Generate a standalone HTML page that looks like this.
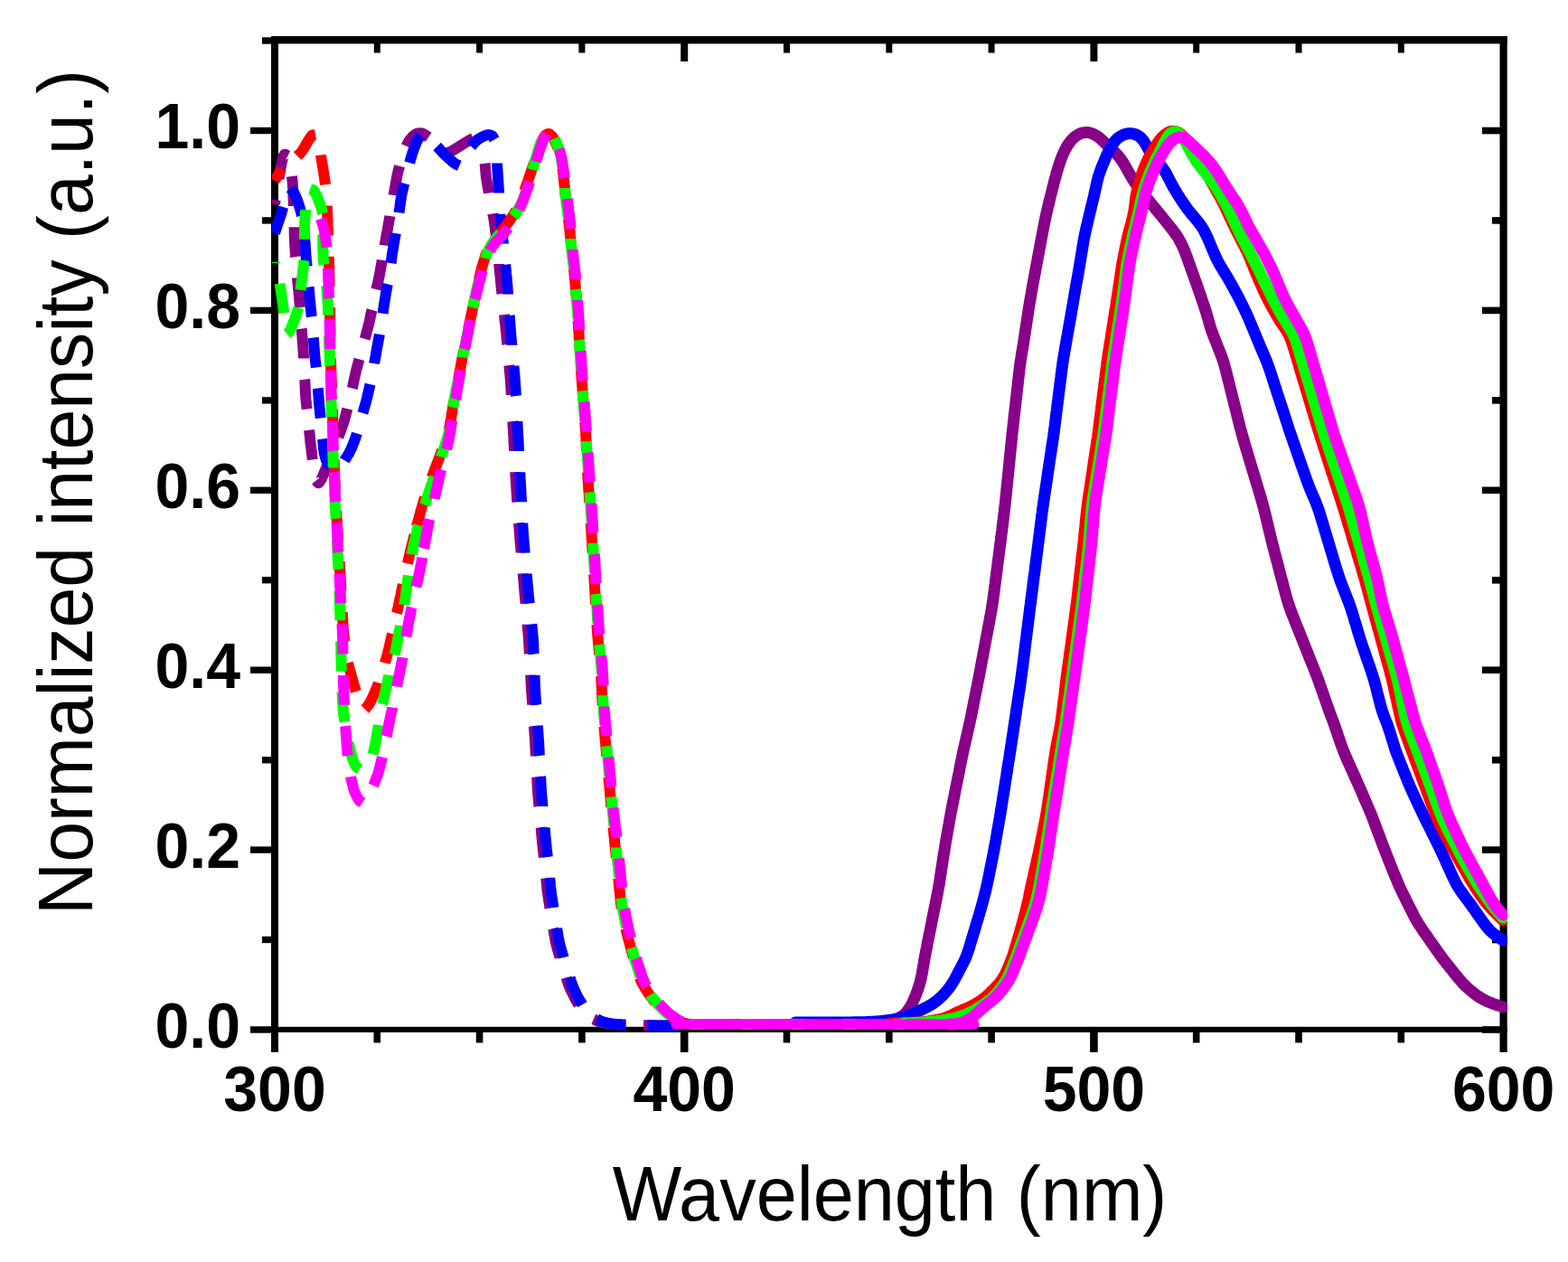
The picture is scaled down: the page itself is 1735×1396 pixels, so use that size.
<!DOCTYPE html>
<html><head><meta charset="utf-8"><title>Normalized intensity vs Wavelength</title>
<style>html,body{margin:0;padding:0;background:#fff;}body{width:1735px;height:1396px;overflow:hidden;}svg{display:block;}text{font-family:"Liberation Sans",Arial,sans-serif;fill:#000;}</style></head><body>
<svg width="1735" height="1396" viewBox="0 0 1735 1396">
<rect x="0" y="0" width="1735" height="1396" fill="#fff"/>
<g id="axes"><rect x="300" y="40" width="8" height="1124" fill="#000"/><rect x="1659.5" y="40" width="8.2" height="1124" fill="#000"/><rect x="300" y="40" width="1367.7" height="8.4" fill="#000"/><rect x="300" y="1135.8" width="1367.7" height="6.2" fill="#000"/><rect x="277" y="1135.3" width="24" height="7.4" fill="#000"/><rect x="1640" y="1135.2" width="20" height="7.6" fill="#000"/><rect x="290" y="1035.8" width="11" height="7.4" fill="#000"/><rect x="1651" y="1035.8" width="9" height="7.6" fill="#000"/><rect x="277" y="936.4" width="24" height="7.4" fill="#000"/><rect x="1640" y="936.3" width="20" height="7.6" fill="#000"/><rect x="290" y="837.0" width="11" height="7.4" fill="#000"/><rect x="1651" y="836.9" width="9" height="7.6" fill="#000"/><rect x="277" y="737.5" width="24" height="7.4" fill="#000"/><rect x="1640" y="737.4" width="20" height="7.6" fill="#000"/><rect x="290" y="638.0" width="11" height="7.4" fill="#000"/><rect x="1651" y="638.0" width="9" height="7.6" fill="#000"/><rect x="277" y="538.6" width="24" height="7.4" fill="#000"/><rect x="1640" y="538.5" width="20" height="7.6" fill="#000"/><rect x="290" y="439.2" width="11" height="7.4" fill="#000"/><rect x="1651" y="439.1" width="9" height="7.6" fill="#000"/><rect x="277" y="339.7" width="24" height="7.4" fill="#000"/><rect x="1640" y="339.6" width="20" height="7.6" fill="#000"/><rect x="290" y="240.2" width="11" height="7.4" fill="#000"/><rect x="1651" y="240.1" width="9" height="7.6" fill="#000"/><rect x="277" y="140.8" width="24" height="7.4" fill="#000"/><rect x="1640" y="140.7" width="20" height="7.6" fill="#000"/><rect x="290" y="41.3" width="11" height="7.4" fill="#000"/><rect x="413.5" y="1141" width="7.6" height="12.5" fill="#000"/><rect x="413.8" y="47" width="7" height="11.5" fill="#000"/><rect x="526.8" y="1141" width="7.6" height="12.5" fill="#000"/><rect x="527.1" y="47" width="7" height="11.5" fill="#000"/><rect x="640.1" y="1141" width="7.6" height="12.5" fill="#000"/><rect x="640.4" y="47" width="7" height="11.5" fill="#000"/><rect x="752.9" y="1141" width="8.6" height="23" fill="#000"/><rect x="753.2" y="47" width="8" height="21" fill="#000"/><rect x="866.7" y="1141" width="7.6" height="12.5" fill="#000"/><rect x="867.0" y="47" width="7" height="11.5" fill="#000"/><rect x="980.0" y="1141" width="7.6" height="12.5" fill="#000"/><rect x="980.3" y="47" width="7" height="11.5" fill="#000"/><rect x="1093.3" y="1141" width="7.6" height="12.5" fill="#000"/><rect x="1093.6" y="47" width="7" height="11.5" fill="#000"/><rect x="1206.1" y="1141" width="8.6" height="23" fill="#000"/><rect x="1206.4" y="47" width="8" height="21" fill="#000"/><rect x="1319.9" y="1141" width="7.6" height="12.5" fill="#000"/><rect x="1320.2" y="47" width="7" height="11.5" fill="#000"/><rect x="1433.2" y="1141" width="7.6" height="12.5" fill="#000"/><rect x="1433.5" y="47" width="7" height="11.5" fill="#000"/><rect x="1546.5" y="1141" width="7.6" height="12.5" fill="#000"/><rect x="1546.8" y="47" width="7" height="11.5" fill="#000"/></g>
<defs><clipPath id="pa"><rect x="301" y="40" width="1367" height="1102"/></clipPath></defs>
<g clip-path="url(#pa)">
<g id="em">
<path d="M975.0,1131.0 C976.0,1130.9 979.0,1130.7 981.0,1130.4 C982.9,1130.0 984.9,1129.6 986.8,1129.0 C988.7,1128.5 990.6,1127.9 992.4,1127.1 C994.2,1126.3 996.0,1125.5 997.5,1124.5 C999.1,1123.4 1000.6,1122.2 1002.0,1120.9 C1003.3,1119.5 1004.5,1117.9 1005.6,1116.3 C1006.7,1114.7 1007.7,1113.0 1008.6,1111.2 C1009.6,1109.5 1010.4,1107.7 1011.2,1105.8 C1012.0,1104.0 1012.8,1102.1 1013.5,1100.3 C1014.2,1098.4 1014.9,1096.5 1015.6,1094.6 C1016.2,1092.8 1016.8,1090.9 1017.4,1088.9 C1018.0,1087.0 1018.5,1085.1 1018.9,1083.2 C1019.4,1081.2 1019.8,1079.3 1020.2,1077.3 C1020.5,1075.3 1020.8,1073.3 1021.2,1071.4 C1021.5,1069.4 1021.8,1067.4 1022.2,1065.4 C1022.5,1063.5 1022.8,1061.5 1023.2,1059.5 C1023.6,1057.6 1023.9,1055.6 1024.3,1053.6 C1024.7,1051.7 1025.1,1049.7 1025.5,1047.7 C1025.8,1045.8 1026.2,1043.8 1026.6,1041.8 C1027.0,1039.9 1027.4,1037.9 1027.8,1035.9 C1028.2,1034.0 1028.6,1032.0 1029.0,1030.0 C1029.4,1028.1 1029.8,1026.1 1030.2,1024.1 C1030.6,1022.2 1031.0,1020.2 1031.3,1018.3 C1031.7,1016.3 1032.1,1014.3 1032.5,1012.4 C1032.9,1010.4 1033.3,1008.4 1033.7,1006.5 C1034.1,1004.5 1034.5,1002.5 1034.9,1000.6 C1035.3,998.6 1035.7,996.6 1036.1,994.7 C1036.5,992.7 1036.8,990.8 1037.2,988.8 C1037.6,986.8 1038.0,984.9 1038.3,982.9 C1038.7,980.9 1039.1,978.9 1039.4,977.0 C1039.7,975.0 1040.0,973.0 1040.3,971.0 C1040.6,969.0 1040.9,967.1 1041.2,965.1 C1041.5,963.1 1041.8,961.1 1042.1,959.1 C1042.4,957.2 1042.7,955.2 1043.0,953.2 C1043.3,951.2 1043.6,949.2 1043.9,947.3 C1044.2,945.3 1044.5,943.3 1044.9,941.3 C1045.2,939.3 1045.5,937.4 1045.8,935.4 C1046.2,933.4 1046.5,931.4 1046.8,929.5 C1047.2,927.5 1047.5,925.5 1047.9,923.5 C1048.2,921.6 1048.6,919.6 1048.9,917.6 C1049.3,915.7 1049.6,913.7 1050.0,911.7 C1050.3,909.7 1050.6,907.8 1051.0,905.8 C1051.4,903.8 1051.7,901.8 1052.1,899.9 C1052.5,897.9 1052.8,895.9 1053.2,894.0 C1053.6,892.0 1054.0,890.0 1054.4,888.1 C1054.8,886.1 1055.2,884.2 1055.6,882.2 C1056.0,880.2 1056.3,878.3 1056.7,876.3 C1057.1,874.3 1057.5,872.4 1057.9,870.4 C1058.3,868.4 1058.7,866.5 1059.1,864.5 C1059.5,862.5 1059.9,860.6 1060.3,858.6 C1060.7,856.7 1061.1,854.7 1061.5,852.7 C1061.8,850.8 1062.2,848.8 1062.6,846.8 C1063.0,844.9 1063.4,842.9 1063.8,840.9 C1064.2,839.0 1064.6,837.0 1065.0,835.0 C1065.4,833.1 1065.8,831.1 1066.3,829.2 C1066.7,827.2 1067.1,825.3 1067.6,823.3 C1068.0,821.4 1068.5,819.4 1068.9,817.5 C1069.4,815.5 1069.8,813.5 1070.3,811.6 C1070.7,809.6 1071.2,807.7 1071.6,805.7 C1072.1,803.8 1072.5,801.8 1072.9,799.9 C1073.4,797.9 1073.8,796.0 1074.2,794.0 C1074.6,792.0 1075.0,790.1 1075.4,788.1 C1075.8,786.1 1076.2,784.2 1076.6,782.2 C1077.0,780.2 1077.3,778.3 1077.7,776.3 C1078.1,774.4 1078.5,772.4 1078.9,770.4 C1079.3,768.5 1079.7,766.5 1080.1,764.5 C1080.5,762.6 1080.9,760.6 1081.3,758.6 C1081.7,756.7 1082.0,754.7 1082.4,752.7 C1082.8,750.8 1083.2,748.8 1083.6,746.8 C1084.0,744.9 1084.3,742.9 1084.7,740.9 C1085.1,739.0 1085.4,737.0 1085.8,735.0 C1086.2,733.1 1086.5,731.1 1086.9,729.1 C1087.3,727.2 1087.7,725.2 1088.0,723.2 C1088.4,721.2 1088.8,719.3 1089.1,717.3 C1089.5,715.3 1089.9,713.4 1090.2,711.4 C1090.6,709.4 1091.0,707.5 1091.3,705.5 C1091.7,703.5 1092.1,701.6 1092.5,699.6 C1092.8,697.6 1093.2,695.6 1093.6,693.7 C1093.9,691.7 1094.3,689.7 1094.7,687.8 C1095.0,685.8 1095.4,683.8 1095.8,681.9 C1096.1,679.9 1096.5,677.9 1096.8,676.0 C1097.2,674.0 1097.5,672.0 1097.8,670.0 C1098.1,668.0 1098.4,666.1 1098.7,664.1 C1099.0,662.1 1099.3,660.1 1099.5,658.1 C1099.8,656.1 1100.0,654.2 1100.3,652.2 C1100.5,650.2 1100.8,648.2 1101.1,646.2 C1101.3,644.2 1101.6,642.2 1101.8,640.2 C1102.1,638.3 1102.3,636.3 1102.6,634.3 C1102.8,632.3 1103.1,630.3 1103.4,628.3 C1103.6,626.3 1103.9,624.4 1104.1,622.4 C1104.4,620.4 1104.6,618.4 1104.9,616.4 C1105.1,614.4 1105.4,612.4 1105.7,610.4 C1105.9,608.5 1106.2,606.5 1106.4,604.5 C1106.7,602.5 1106.9,600.5 1107.2,598.5 C1107.4,596.5 1107.7,594.5 1107.9,592.6 C1108.2,590.6 1108.4,588.6 1108.7,586.6 C1108.9,584.6 1109.2,582.6 1109.4,580.6 C1109.7,578.6 1109.9,576.7 1110.2,574.7 C1110.4,572.7 1110.7,570.7 1110.9,568.7 C1111.1,566.7 1111.4,564.7 1111.6,562.7 C1111.8,560.7 1112.1,558.8 1112.3,556.8 C1112.5,554.8 1112.7,552.8 1112.9,550.8 C1113.1,548.8 1113.3,546.8 1113.5,544.8 C1113.7,542.8 1113.9,540.8 1114.1,538.8 C1114.3,536.8 1114.5,534.8 1114.7,532.8 C1114.9,530.9 1115.1,528.9 1115.3,526.9 C1115.5,524.9 1115.7,522.9 1115.9,520.9 C1116.1,518.9 1116.3,516.9 1116.5,514.9 C1116.7,512.9 1116.9,510.9 1117.1,508.9 C1117.3,506.9 1117.5,504.9 1117.7,502.9 C1117.9,501.0 1118.1,499.0 1118.3,497.0 C1118.5,495.0 1118.7,493.0 1118.9,491.0 C1119.1,489.0 1119.3,487.0 1119.5,485.0 C1119.7,483.0 1119.9,481.0 1120.1,479.0 C1120.4,477.0 1120.6,475.0 1120.8,473.1 C1121.0,471.1 1121.2,469.1 1121.5,467.1 C1121.7,465.1 1121.9,463.1 1122.1,461.1 C1122.3,459.1 1122.6,457.1 1122.8,455.1 C1123.0,453.1 1123.2,451.2 1123.5,449.2 C1123.7,447.2 1123.9,445.2 1124.1,443.2 C1124.4,441.2 1124.6,439.2 1124.8,437.2 C1125.0,435.2 1125.3,433.2 1125.5,431.2 C1125.7,429.3 1125.9,427.3 1126.2,425.3 C1126.4,423.3 1126.6,421.3 1126.8,419.3 C1127.1,417.3 1127.3,415.3 1127.5,413.3 C1127.7,411.3 1128.0,409.3 1128.2,407.4 C1128.4,405.4 1128.7,403.4 1129.0,401.4 C1129.3,399.4 1129.5,397.4 1129.9,395.5 C1130.2,393.5 1130.5,391.5 1130.8,389.5 C1131.2,387.6 1131.5,385.6 1131.8,383.6 C1132.2,381.6 1132.5,379.7 1132.8,377.7 C1133.1,375.7 1133.4,373.7 1133.7,371.7 C1134.0,369.8 1134.3,367.8 1134.6,365.8 C1134.9,363.8 1135.2,361.8 1135.5,359.8 C1135.8,357.9 1136.1,355.9 1136.4,353.9 C1136.7,351.9 1137.0,349.9 1137.3,348.0 C1137.6,346.0 1137.9,344.0 1138.2,342.0 C1138.5,340.0 1138.8,338.1 1139.2,336.1 C1139.5,334.1 1139.8,332.1 1140.2,330.2 C1140.5,328.2 1140.8,326.2 1141.2,324.2 C1141.5,322.3 1141.9,320.3 1142.2,318.3 C1142.6,316.4 1142.9,314.4 1143.3,312.4 C1143.7,310.4 1144.0,308.5 1144.4,306.5 C1144.7,304.5 1145.1,302.6 1145.5,300.6 C1145.8,298.6 1146.2,296.7 1146.6,294.7 C1147.0,292.7 1147.3,290.7 1147.7,288.8 C1148.1,286.8 1148.4,284.8 1148.8,282.9 C1149.2,280.9 1149.6,278.9 1149.9,277.0 C1150.3,275.0 1150.7,273.0 1151.0,271.1 C1151.4,269.1 1151.7,267.1 1152.1,265.1 C1152.5,263.2 1152.9,261.2 1153.2,259.2 C1153.6,257.3 1154.0,255.3 1154.4,253.3 C1154.8,251.4 1155.1,249.4 1155.5,247.4 C1155.9,245.5 1156.3,243.5 1156.7,241.6 C1157.1,239.6 1157.5,237.6 1158.0,235.7 C1158.4,233.7 1158.9,231.8 1159.3,229.8 C1159.8,227.9 1160.3,225.9 1160.8,224.0 C1161.2,222.0 1161.7,220.1 1162.2,218.2 C1162.7,216.2 1163.2,214.3 1163.7,212.3 C1164.2,210.4 1164.6,208.4 1165.1,206.5 C1165.6,204.6 1166.1,202.6 1166.6,200.7 C1167.1,198.7 1167.6,196.8 1168.2,194.9 C1168.7,192.9 1169.2,191.0 1169.8,189.1 C1170.4,187.2 1170.9,185.2 1171.6,183.3 C1172.2,181.4 1172.8,179.5 1173.5,177.7 C1174.1,175.8 1174.8,173.9 1175.6,172.1 C1176.4,170.2 1177.2,168.4 1178.1,166.6 C1179.0,164.8 1179.9,163.1 1180.9,161.4 C1182.0,159.7 1183.1,158.0 1184.3,156.5 C1185.5,155.0 1186.9,153.5 1188.3,152.2 C1189.7,151.0 1191.3,149.8 1193.0,148.9 C1194.6,148.0 1196.4,147.3 1198.2,146.9 C1200.0,146.5 1201.9,146.4 1203.7,146.5 C1205.5,146.7 1207.4,147.2 1209.1,147.9 C1210.9,148.6 1212.5,149.6 1214.1,150.7 C1215.7,151.8 1217.2,153.1 1218.7,154.4 C1220.1,155.8 1221.5,157.2 1223.0,158.5 C1224.4,159.9 1226.1,161.5 1227.4,162.7 C1228.6,163.8 1229.1,164.2 1230.3,165.4 C1231.5,166.5 1233.2,168.1 1234.6,169.5 C1236.0,170.9 1237.4,172.3 1238.6,173.9 C1239.9,175.4 1241.0,177.0 1242.1,178.7 C1243.2,180.3 1244.1,182.1 1245.1,183.8 C1246.1,185.5 1247.1,187.3 1248.0,189.0 C1249.0,190.8 1250.0,192.5 1251.0,194.3 C1252.0,196.0 1253.0,197.7 1254.1,199.4 C1255.2,201.1 1256.3,202.8 1257.4,204.4 C1258.5,206.1 1259.7,207.7 1260.9,209.3 C1262.1,210.9 1263.4,212.5 1264.6,214.0 C1265.8,215.6 1267.1,217.2 1268.4,218.7 C1269.6,220.3 1270.9,221.8 1272.2,223.3 C1273.5,224.9 1274.8,226.4 1276.1,228.0 C1277.3,229.5 1278.6,231.0 1279.9,232.6 C1281.1,234.1 1282.4,235.7 1283.7,237.2 C1284.9,238.8 1286.2,240.4 1287.5,241.9 C1288.7,243.5 1290.0,245.0 1291.2,246.6 C1292.5,248.1 1293.8,249.7 1295.0,251.3 C1296.3,252.8 1297.5,254.4 1298.7,256.0 C1299.9,257.6 1301.1,259.2 1302.2,260.9 C1303.3,262.5 1304.3,264.2 1305.2,266.0 C1306.2,267.7 1307.1,269.5 1308.0,271.3 C1308.8,273.1 1309.6,274.9 1310.4,276.8 C1311.2,278.6 1311.9,280.5 1312.6,282.4 C1313.3,284.3 1314.0,286.1 1314.6,288.0 C1315.3,289.9 1316.0,291.8 1316.7,293.7 C1317.3,295.6 1318.0,297.5 1318.7,299.3 C1319.4,301.2 1320.0,303.1 1320.7,305.0 C1321.4,306.9 1322.1,308.8 1322.7,310.7 C1323.4,312.5 1324.1,314.4 1324.7,316.3 C1325.4,318.2 1326.1,320.1 1326.7,322.0 C1327.4,323.9 1328.0,325.8 1328.7,327.7 C1329.3,329.6 1330.0,331.5 1330.6,333.4 C1331.3,335.3 1331.9,337.2 1332.6,339.1 C1333.2,341.0 1333.8,342.9 1334.4,344.8 C1335.0,346.7 1335.6,348.6 1336.1,350.5 C1336.7,352.5 1337.2,354.4 1337.7,356.3 C1338.3,358.2 1338.8,360.2 1339.4,362.1 C1340.0,364.0 1340.7,365.9 1341.4,367.7 C1342.0,369.6 1342.8,371.5 1343.5,373.4 C1344.2,375.2 1345.0,377.1 1345.7,378.9 C1346.5,380.8 1347.2,382.7 1347.9,384.5 C1348.7,386.4 1349.4,388.2 1350.1,390.1 C1350.8,392.0 1351.5,393.9 1352.2,395.7 C1352.9,397.6 1353.5,399.5 1354.1,401.4 C1354.7,403.4 1355.2,405.3 1355.7,407.2 C1356.3,409.1 1356.8,411.1 1357.2,413.0 C1357.7,415.0 1358.2,416.9 1358.7,418.9 C1359.2,420.8 1359.7,422.7 1360.2,424.7 C1360.7,426.6 1361.1,428.6 1361.6,430.5 C1362.1,432.5 1362.6,434.4 1363.1,436.3 C1363.6,438.3 1364.1,440.2 1364.5,442.2 C1365.0,444.1 1365.5,446.1 1366.0,448.0 C1366.5,450.0 1367.0,451.9 1367.5,453.8 C1367.9,455.8 1368.4,457.7 1368.9,459.7 C1369.4,461.6 1369.9,463.6 1370.4,465.5 C1370.9,467.4 1371.4,469.4 1371.8,471.3 C1372.3,473.3 1372.8,475.2 1373.4,477.1 C1373.9,479.1 1374.4,481.0 1375.0,482.9 C1375.5,484.9 1376.1,486.8 1376.6,488.7 C1377.2,490.6 1377.8,492.5 1378.3,494.5 C1378.9,496.4 1379.5,498.3 1380.1,500.2 C1380.6,502.1 1381.2,504.1 1381.8,506.0 C1382.4,507.9 1382.9,509.8 1383.5,511.7 C1384.1,513.7 1384.7,515.6 1385.2,517.5 C1385.8,519.4 1386.4,521.3 1387.0,523.2 C1387.6,525.2 1388.1,527.1 1388.7,529.0 C1389.3,530.9 1389.9,532.8 1390.4,534.8 C1391.0,536.7 1391.6,538.6 1392.2,540.5 C1392.7,542.4 1393.3,544.4 1393.9,546.3 C1394.5,548.2 1395.0,550.1 1395.6,552.0 C1396.1,554.0 1396.7,555.9 1397.2,557.8 C1397.8,559.7 1398.3,561.7 1398.8,563.6 C1399.3,565.6 1399.8,567.5 1400.2,569.5 C1400.7,571.4 1401.2,573.3 1401.6,575.3 C1402.1,577.2 1402.6,579.2 1403.0,581.1 C1403.5,583.1 1403.9,585.0 1404.4,587.0 C1404.9,588.9 1405.3,590.9 1405.8,592.8 C1406.3,594.8 1406.8,596.7 1407.2,598.7 C1407.7,600.6 1408.2,602.6 1408.7,604.5 C1409.2,606.4 1409.7,608.4 1410.2,610.3 C1410.7,612.3 1411.2,614.2 1411.7,616.1 C1412.2,618.1 1412.8,620.0 1413.3,621.9 C1413.8,623.9 1414.3,625.8 1414.8,627.8 C1415.3,629.7 1415.8,631.6 1416.3,633.6 C1416.8,635.5 1417.3,637.4 1417.8,639.4 C1418.4,641.3 1418.9,643.3 1419.4,645.2 C1419.9,647.1 1420.4,649.1 1420.9,651.0 C1421.5,652.9 1422.0,654.9 1422.5,656.8 C1423.0,658.7 1423.5,660.7 1424.1,662.6 C1424.6,664.5 1425.2,666.4 1425.8,668.3 C1426.4,670.2 1427.1,672.1 1427.8,674.0 C1428.4,675.9 1429.2,677.8 1429.9,679.6 C1430.6,681.5 1431.4,683.4 1432.1,685.2 C1432.8,687.1 1433.6,688.9 1434.3,690.8 C1435.1,692.7 1435.8,694.5 1436.6,696.4 C1437.3,698.2 1438.0,700.1 1438.8,702.0 C1439.5,703.8 1440.3,705.7 1441.0,707.5 C1441.8,709.4 1442.5,711.3 1443.2,713.1 C1444.0,715.0 1444.7,716.8 1445.5,718.7 C1446.2,720.6 1447.0,722.4 1447.7,724.3 C1448.5,726.1 1449.2,728.0 1449.9,729.9 C1450.7,731.7 1451.4,733.6 1452.2,735.4 C1452.9,737.3 1453.7,739.2 1454.4,741.0 C1455.1,742.9 1455.9,744.8 1456.6,746.6 C1457.3,748.5 1458.0,750.4 1458.7,752.2 C1459.4,754.1 1460.1,756.0 1460.7,757.9 C1461.4,759.8 1462.1,761.7 1462.7,763.6 C1463.4,765.5 1464.1,767.3 1464.7,769.2 C1465.4,771.1 1466.1,773.0 1466.7,774.9 C1467.4,776.8 1468.0,778.7 1468.7,780.6 C1469.4,782.5 1470.1,784.4 1470.7,786.2 C1471.4,788.1 1472.1,790.0 1472.8,791.9 C1473.5,793.8 1474.2,795.6 1474.9,797.5 C1475.6,799.4 1476.3,801.3 1477.0,803.2 C1477.6,805.0 1478.3,806.9 1478.9,808.8 C1479.6,810.7 1480.2,812.6 1480.8,814.5 C1481.5,816.4 1482.1,818.3 1482.8,820.2 C1483.4,822.1 1484.1,824.0 1484.8,825.9 C1485.4,827.8 1486.2,829.6 1486.9,831.5 C1487.6,833.4 1488.4,835.2 1489.2,837.0 C1490.0,838.9 1490.8,840.7 1491.6,842.5 C1492.5,844.4 1493.3,846.2 1494.1,848.0 C1494.9,849.8 1495.7,851.7 1496.6,853.5 C1497.4,855.3 1498.2,857.1 1499.0,859.0 C1499.9,860.8 1500.7,862.6 1501.5,864.5 C1502.3,866.3 1503.1,868.1 1503.9,869.9 C1504.7,871.8 1505.5,873.6 1506.4,875.5 C1507.2,877.3 1508.0,879.1 1508.7,881.0 C1509.5,882.8 1510.3,884.6 1511.1,886.5 C1511.9,888.3 1512.7,890.2 1513.5,892.0 C1514.3,893.8 1515.1,895.7 1515.8,897.5 C1516.6,899.4 1517.4,901.2 1518.1,903.1 C1518.8,905.0 1519.5,906.8 1520.3,908.7 C1521.0,910.6 1521.7,912.5 1522.4,914.3 C1523.1,916.2 1523.8,918.1 1524.5,920.0 C1525.2,921.8 1525.9,923.7 1526.6,925.6 C1527.3,927.5 1528.0,929.3 1528.7,931.2 C1529.4,933.1 1530.1,935.0 1530.8,936.8 C1531.6,938.7 1532.3,940.6 1533.0,942.4 C1533.7,944.3 1534.5,946.2 1535.2,948.0 C1536.0,949.9 1536.7,951.8 1537.4,953.6 C1538.2,955.5 1538.9,957.3 1539.7,959.2 C1540.4,961.1 1541.2,962.9 1541.9,964.8 C1542.7,966.6 1543.4,968.5 1544.2,970.3 C1544.9,972.2 1545.7,974.1 1546.5,975.9 C1547.2,977.7 1548.1,979.6 1548.9,981.4 C1549.7,983.2 1550.6,985.0 1551.5,986.8 C1552.3,988.6 1553.2,990.4 1554.1,992.2 C1555.0,994.0 1555.9,995.8 1556.8,997.6 C1557.7,999.4 1558.6,1001.2 1559.5,1003.0 C1560.4,1004.8 1561.3,1006.5 1562.2,1008.3 C1563.1,1010.1 1564.0,1011.9 1564.9,1013.7 C1565.9,1015.4 1566.8,1017.2 1567.8,1018.9 C1568.8,1020.6 1569.9,1022.3 1571.0,1024.0 C1572.1,1025.7 1573.2,1027.3 1574.3,1029.0 C1575.5,1030.7 1576.6,1032.3 1577.8,1033.9 C1578.9,1035.6 1580.1,1037.2 1581.2,1038.9 C1582.3,1040.5 1583.5,1042.1 1584.6,1043.8 C1585.8,1045.4 1586.9,1047.1 1588.1,1048.7 C1589.2,1050.3 1590.4,1052.0 1591.6,1053.6 C1592.7,1055.2 1593.9,1056.9 1595.1,1058.5 C1596.3,1060.1 1597.5,1061.7 1598.7,1063.3 C1599.9,1064.9 1601.2,1066.4 1602.4,1068.0 C1603.7,1069.6 1604.9,1071.1 1606.2,1072.7 C1607.4,1074.3 1608.7,1075.8 1609.9,1077.4 C1611.2,1078.9 1612.4,1080.5 1613.7,1082.1 C1615.0,1083.6 1616.3,1085.1 1617.6,1086.6 C1619.0,1088.1 1620.3,1089.5 1621.8,1090.9 C1623.2,1092.3 1624.7,1093.6 1626.2,1094.9 C1627.8,1096.2 1629.3,1097.4 1630.9,1098.6 C1632.5,1099.9 1634.0,1101.1 1635.7,1102.2 C1637.3,1103.3 1639.0,1104.4 1640.7,1105.3 C1642.5,1106.3 1644.3,1107.1 1646.1,1107.9 C1647.9,1108.7 1649.8,1109.4 1651.6,1110.1 C1653.5,1110.7 1655.4,1111.4 1657.3,1112.0 C1659.2,1112.7 1662.1,1113.7 1663.0,1114.0" fill="none" stroke="#880088" stroke-width="13" stroke-linejoin="round" stroke-linecap="round"/>
<path d="M880.0,1131.0 C881.0,1131.0 884.0,1131.0 886.0,1131.0 C888.0,1131.0 890.0,1131.0 892.0,1131.0 C894.0,1131.0 896.0,1131.0 898.0,1131.0 C900.0,1131.0 902.0,1131.0 904.0,1131.0 C906.0,1131.0 908.0,1131.0 910.0,1131.0 C912.0,1131.0 914.0,1131.0 916.0,1131.0 C918.0,1131.0 920.0,1131.0 922.0,1131.0 C924.1,1131.0 926.1,1131.0 928.1,1131.0 C930.1,1131.0 932.1,1131.0 934.1,1131.0 C936.1,1131.0 938.1,1130.9 940.1,1130.9 C942.1,1130.9 944.1,1130.9 946.1,1130.8 C948.1,1130.8 950.1,1130.7 952.1,1130.7 C954.1,1130.6 956.1,1130.5 958.1,1130.5 C960.1,1130.4 962.1,1130.4 964.1,1130.3 C966.1,1130.2 968.1,1130.1 970.1,1130.0 C972.1,1129.9 974.1,1129.7 976.1,1129.5 C978.0,1129.3 980.0,1129.1 982.0,1128.8 C984.0,1128.5 986.0,1128.2 987.9,1127.9 C989.9,1127.5 991.9,1127.2 993.8,1126.8 C995.7,1126.3 997.7,1125.9 999.6,1125.3 C1001.5,1124.7 1003.3,1124.0 1005.2,1123.2 C1007.0,1122.5 1008.8,1121.7 1010.7,1120.9 C1012.5,1120.1 1014.3,1119.3 1016.2,1118.5 C1018.0,1117.7 1019.8,1116.9 1021.6,1116.0 C1023.4,1115.2 1025.2,1114.3 1027.0,1113.3 C1028.7,1112.4 1030.4,1111.3 1032.1,1110.2 C1033.7,1109.1 1035.3,1108.0 1036.9,1106.7 C1038.4,1105.5 1039.9,1104.2 1041.4,1102.8 C1042.8,1101.5 1044.2,1100.0 1045.5,1098.5 C1046.9,1097.1 1048.1,1095.5 1049.3,1093.9 C1050.6,1092.4 1051.7,1090.8 1052.8,1089.1 C1054.0,1087.4 1055.0,1085.7 1056.0,1084.0 C1057.0,1082.3 1057.9,1080.5 1058.8,1078.7 C1059.8,1077.0 1060.6,1075.2 1061.6,1073.4 C1062.5,1071.6 1063.4,1069.9 1064.3,1068.1 C1065.2,1066.3 1066.2,1064.6 1067.0,1062.8 C1067.9,1061.0 1068.7,1059.1 1069.4,1057.3 C1070.1,1055.4 1070.8,1053.5 1071.4,1051.6 C1072.1,1049.8 1072.6,1047.8 1073.2,1045.9 C1073.8,1044.0 1074.4,1042.1 1074.9,1040.2 C1075.5,1038.3 1076.1,1036.3 1076.7,1034.4 C1077.2,1032.5 1077.8,1030.6 1078.4,1028.7 C1079.0,1026.8 1079.6,1024.8 1080.1,1022.9 C1080.7,1021.0 1081.3,1019.1 1081.9,1017.2 C1082.4,1015.2 1083.0,1013.3 1083.6,1011.4 C1084.1,1009.5 1084.7,1007.6 1085.3,1005.6 C1085.8,1003.7 1086.4,1001.8 1086.9,999.9 C1087.4,997.9 1087.9,996.0 1088.4,994.1 C1088.9,992.1 1089.4,990.2 1089.9,988.2 C1090.4,986.3 1090.9,984.3 1091.3,982.4 C1091.8,980.4 1092.2,978.5 1092.6,976.5 C1093.0,974.6 1093.5,972.6 1093.9,970.7 C1094.3,968.7 1094.6,966.7 1095.0,964.8 C1095.4,962.8 1095.8,960.8 1096.2,958.9 C1096.6,956.9 1097.0,955.0 1097.4,953.0 C1097.8,951.0 1098.2,949.1 1098.6,947.1 C1099.0,945.1 1099.3,943.2 1099.7,941.2 C1100.1,939.2 1100.4,937.3 1100.8,935.3 C1101.2,933.3 1101.5,931.4 1101.9,929.4 C1102.2,927.4 1102.5,925.4 1102.9,923.5 C1103.2,921.5 1103.6,919.5 1103.9,917.5 C1104.3,915.6 1104.6,913.6 1105.0,911.6 C1105.3,909.7 1105.6,907.7 1106.0,905.7 C1106.3,903.7 1106.7,901.8 1107.0,899.8 C1107.3,897.8 1107.6,895.8 1108.0,893.9 C1108.3,891.9 1108.6,889.9 1108.9,887.9 C1109.2,886.0 1109.5,884.0 1109.8,882.0 C1110.1,880.0 1110.5,878.0 1110.8,876.1 C1111.1,874.1 1111.4,872.1 1111.7,870.1 C1112.0,868.1 1112.3,866.2 1112.6,864.2 C1112.9,862.2 1113.2,860.2 1113.6,858.3 C1113.9,856.3 1114.2,854.3 1114.5,852.3 C1114.8,850.3 1115.1,848.4 1115.4,846.4 C1115.7,844.4 1116.0,842.4 1116.4,840.5 C1116.7,838.5 1117.0,836.5 1117.3,834.5 C1117.6,832.5 1117.9,830.6 1118.2,828.6 C1118.5,826.6 1118.8,824.6 1119.1,822.6 C1119.4,820.7 1119.7,818.7 1120.0,816.7 C1120.3,814.7 1120.6,812.7 1120.9,810.8 C1121.2,808.8 1121.5,806.8 1121.8,804.8 C1122.1,802.8 1122.4,800.9 1122.7,798.9 C1123.0,796.9 1123.3,794.9 1123.6,792.9 C1123.9,791.0 1124.2,789.0 1124.4,787.0 C1124.7,785.0 1125.0,783.0 1125.3,781.1 C1125.6,779.1 1125.9,777.1 1126.2,775.1 C1126.5,773.1 1126.8,771.2 1127.1,769.2 C1127.4,767.2 1127.7,765.2 1128.0,763.2 C1128.3,761.3 1128.6,759.3 1128.9,757.3 C1129.2,755.3 1129.5,753.3 1129.7,751.4 C1130.0,749.4 1130.3,747.4 1130.5,745.4 C1130.8,743.4 1131.1,741.4 1131.3,739.4 C1131.6,737.5 1131.8,735.5 1132.1,733.5 C1132.3,731.5 1132.6,729.5 1132.8,727.5 C1133.1,725.5 1133.3,723.5 1133.6,721.6 C1133.8,719.6 1134.1,717.6 1134.3,715.6 C1134.5,713.6 1134.8,711.6 1135.0,709.6 C1135.3,707.7 1135.5,705.7 1135.8,703.7 C1136.0,701.7 1136.3,699.7 1136.5,697.7 C1136.8,695.7 1137.0,693.7 1137.3,691.8 C1137.5,689.8 1137.8,687.8 1138.0,685.8 C1138.3,683.8 1138.5,681.8 1138.8,679.8 C1139.0,677.9 1139.3,675.9 1139.5,673.9 C1139.8,671.9 1140.0,669.9 1140.3,667.9 C1140.5,665.9 1140.8,663.9 1141.0,662.0 C1141.3,660.0 1141.5,658.0 1141.8,656.0 C1142.1,654.0 1142.3,652.0 1142.6,650.0 C1142.8,648.1 1143.1,646.1 1143.3,644.1 C1143.6,642.1 1143.8,640.1 1144.1,638.1 C1144.4,636.1 1144.6,634.2 1144.9,632.2 C1145.1,630.2 1145.4,628.2 1145.6,626.2 C1145.9,624.2 1146.1,622.2 1146.4,620.3 C1146.7,618.3 1146.9,616.3 1147.2,614.3 C1147.4,612.3 1147.7,610.3 1147.9,608.3 C1148.2,606.4 1148.4,604.4 1148.7,602.4 C1148.9,600.4 1149.2,598.4 1149.4,596.4 C1149.7,594.4 1149.9,592.4 1150.2,590.5 C1150.4,588.5 1150.7,586.5 1150.9,584.5 C1151.2,582.5 1151.4,580.5 1151.7,578.5 C1151.9,576.6 1152.2,574.6 1152.4,572.6 C1152.7,570.6 1152.9,568.6 1153.2,566.6 C1153.4,564.6 1153.7,562.7 1154.0,560.7 C1154.2,558.7 1154.5,556.7 1154.8,554.7 C1155.1,552.7 1155.4,550.8 1155.7,548.8 C1156.0,546.8 1156.3,544.8 1156.6,542.8 C1156.9,540.9 1157.2,538.9 1157.5,536.9 C1157.8,534.9 1158.1,532.9 1158.4,531.0 C1158.7,529.0 1159.0,527.0 1159.2,525.0 C1159.5,523.0 1159.8,521.1 1160.1,519.1 C1160.4,517.1 1160.7,515.1 1161.0,513.1 C1161.3,511.2 1161.6,509.2 1161.9,507.2 C1162.2,505.2 1162.5,503.2 1162.8,501.3 C1163.1,499.3 1163.4,497.3 1163.7,495.3 C1164.0,493.3 1164.3,491.4 1164.6,489.4 C1164.9,487.4 1165.2,485.4 1165.5,483.4 C1165.7,481.4 1166.0,479.5 1166.3,477.5 C1166.5,475.5 1166.8,473.5 1167.1,471.5 C1167.3,469.5 1167.6,467.5 1167.8,465.6 C1168.1,463.6 1168.3,461.6 1168.5,459.6 C1168.8,457.6 1169.0,455.6 1169.3,453.6 C1169.5,451.7 1169.8,449.7 1170.0,447.7 C1170.3,445.7 1170.5,443.7 1170.8,441.7 C1171.0,439.7 1171.3,437.7 1171.5,435.8 C1171.8,433.8 1172.0,431.8 1172.3,429.8 C1172.5,427.8 1172.8,425.8 1173.0,423.8 C1173.3,421.9 1173.5,419.9 1173.8,417.9 C1174.0,415.9 1174.3,413.9 1174.5,411.9 C1174.8,409.9 1175.0,407.9 1175.3,406.0 C1175.6,404.0 1175.8,402.0 1176.1,400.0 C1176.4,398.0 1176.7,396.1 1177.1,394.1 C1177.4,392.1 1177.7,390.1 1178.1,388.2 C1178.4,386.2 1178.8,384.2 1179.1,382.2 C1179.5,380.3 1179.8,378.3 1180.1,376.3 C1180.5,374.4 1180.8,372.4 1181.2,370.4 C1181.5,368.4 1181.9,366.5 1182.2,364.5 C1182.6,362.5 1182.9,360.6 1183.3,358.6 C1183.6,356.6 1184.0,354.6 1184.3,352.7 C1184.7,350.7 1185.0,348.7 1185.3,346.7 C1185.7,344.8 1186.0,342.8 1186.4,340.8 C1186.7,338.9 1187.0,336.9 1187.4,334.9 C1187.7,332.9 1188.0,331.0 1188.4,329.0 C1188.7,327.0 1189.0,325.0 1189.4,323.1 C1189.7,321.1 1190.1,319.1 1190.4,317.1 C1190.8,315.2 1191.1,313.2 1191.5,311.2 C1191.9,309.3 1192.2,307.3 1192.6,305.3 C1192.9,303.4 1193.2,301.4 1193.6,299.4 C1193.9,297.4 1194.3,295.5 1194.6,293.5 C1194.9,291.5 1195.2,289.5 1195.6,287.6 C1195.9,285.6 1196.2,283.6 1196.5,281.6 C1196.9,279.7 1197.2,277.7 1197.5,275.7 C1197.8,273.7 1198.1,271.7 1198.5,269.8 C1198.8,267.8 1199.1,265.8 1199.5,263.9 C1199.9,261.9 1200.3,259.9 1200.7,258.0 C1201.1,256.0 1201.5,254.1 1202.0,252.1 C1202.4,250.2 1202.9,248.2 1203.4,246.3 C1203.8,244.3 1204.3,242.4 1204.8,240.4 C1205.2,238.5 1205.7,236.5 1206.2,234.6 C1206.6,232.6 1207.1,230.7 1207.6,228.7 C1208.0,226.8 1208.5,224.9 1209.0,222.9 C1209.5,221.0 1209.9,219.0 1210.4,217.1 C1210.8,215.1 1211.3,212.8 1211.7,211.2 C1212.1,209.6 1212.2,208.9 1212.5,207.3 C1212.9,205.7 1213.4,203.4 1213.8,201.4 C1214.3,199.5 1214.8,197.6 1215.3,195.6 C1215.9,193.7 1216.5,191.8 1217.2,190.0 C1217.8,188.1 1218.6,186.2 1219.3,184.3 C1220.0,182.5 1220.8,180.6 1221.6,178.8 C1222.3,176.9 1223.1,175.1 1223.9,173.3 C1224.8,171.4 1225.6,169.6 1226.5,167.8 C1227.4,166.1 1228.3,164.3 1229.3,162.6 C1230.3,160.9 1231.3,159.2 1232.5,157.6 C1233.7,156.1 1235.0,154.6 1236.4,153.3 C1237.8,152.1 1239.4,150.9 1241.1,150.1 C1242.7,149.2 1244.5,148.5 1246.3,148.1 C1248.1,147.7 1250.1,147.5 1251.9,147.7 C1253.7,147.8 1255.6,148.3 1257.2,149.0 C1258.9,149.7 1260.5,150.8 1261.9,152.0 C1263.3,153.2 1264.5,154.7 1265.6,156.2 C1266.7,157.8 1267.6,159.6 1268.6,161.3 C1269.6,163.0 1270.5,164.8 1271.5,166.5 C1272.5,168.1 1273.6,169.8 1274.8,171.4 C1275.9,173.0 1277.2,174.6 1278.4,176.1 C1279.7,177.7 1281.0,179.2 1282.3,180.7 C1283.6,182.3 1284.9,183.8 1286.1,185.4 C1287.2,186.9 1288.4,188.6 1289.4,190.3 C1290.5,191.9 1291.4,193.7 1292.3,195.5 C1293.2,197.2 1294.1,199.0 1295.0,200.8 C1295.9,202.6 1296.9,204.3 1297.8,206.1 C1298.8,207.8 1299.8,209.6 1300.8,211.3 C1301.9,213.0 1302.9,214.7 1304.0,216.4 C1305.1,218.1 1306.1,219.8 1307.2,221.4 C1308.3,223.1 1309.4,224.8 1310.6,226.4 C1311.7,228.1 1312.9,229.7 1314.1,231.3 C1315.3,232.9 1316.6,234.4 1317.8,236.0 C1319.1,237.5 1320.4,239.1 1321.7,240.6 C1322.9,242.1 1324.3,243.6 1325.5,245.2 C1326.7,246.8 1327.9,248.3 1329.1,250.0 C1330.2,251.6 1331.2,253.3 1332.2,255.0 C1333.2,256.8 1334.0,258.6 1334.9,260.4 C1335.8,262.2 1336.6,264.0 1337.4,265.8 C1338.2,267.7 1338.9,269.5 1339.7,271.3 C1340.5,273.2 1341.2,275.0 1342.0,276.9 C1342.8,278.7 1343.6,280.6 1344.4,282.4 C1345.2,284.2 1346.1,286.0 1347.0,287.8 C1347.9,289.6 1348.8,291.3 1349.8,293.1 C1350.8,294.8 1351.9,296.5 1352.9,298.2 C1353.9,299.9 1355.0,301.6 1356.0,303.3 C1357.1,305.0 1358.1,306.8 1359.1,308.5 C1360.1,310.2 1361.1,312.0 1362.1,313.7 C1363.1,315.5 1364.0,317.2 1365.0,319.0 C1366.0,320.7 1366.9,322.5 1367.9,324.2 C1368.8,326.0 1369.7,327.8 1370.7,329.5 C1371.6,331.3 1372.5,333.1 1373.4,334.9 C1374.3,336.7 1375.2,338.5 1376.1,340.3 C1377.0,342.1 1377.8,343.9 1378.7,345.7 C1379.5,347.5 1380.3,349.3 1381.1,351.2 C1382.0,353.0 1382.7,354.8 1383.5,356.7 C1384.3,358.5 1385.1,360.4 1385.8,362.2 C1386.6,364.1 1387.4,365.9 1388.1,367.8 C1388.9,369.6 1389.6,371.5 1390.4,373.3 C1391.1,375.2 1391.9,377.0 1392.7,378.9 C1393.4,380.7 1394.2,382.6 1395.0,384.4 C1395.8,386.2 1396.6,388.1 1397.4,389.9 C1398.2,391.7 1399.1,393.6 1399.8,395.4 C1400.6,397.3 1401.3,399.1 1402.1,401.0 C1402.8,402.9 1403.4,404.7 1404.1,406.6 C1404.7,408.5 1405.4,410.4 1406.0,412.3 C1406.6,414.2 1407.2,416.1 1407.9,418.0 C1408.5,419.9 1409.1,421.8 1409.7,423.7 C1410.3,425.7 1411.0,427.6 1411.6,429.5 C1412.2,431.4 1412.8,433.3 1413.4,435.2 C1414.1,437.1 1414.7,439.0 1415.3,440.9 C1415.9,442.8 1416.5,444.7 1417.1,446.6 C1417.8,448.5 1418.4,450.4 1419.0,452.3 C1419.6,454.2 1420.2,456.1 1420.9,458.0 C1421.5,459.9 1422.1,461.8 1422.7,463.7 C1423.3,465.6 1424.0,467.5 1424.6,469.5 C1425.2,471.4 1425.8,473.3 1426.4,475.2 C1427.1,477.1 1427.7,479.0 1428.4,480.9 C1429.0,482.7 1429.6,484.6 1430.3,486.5 C1431.0,488.4 1431.6,490.3 1432.3,492.2 C1432.9,494.1 1433.6,496.0 1434.3,497.9 C1434.9,499.8 1435.6,501.7 1436.2,503.5 C1436.9,505.4 1437.6,507.3 1438.2,509.2 C1438.9,511.1 1439.5,513.0 1440.2,514.9 C1440.9,516.8 1441.5,518.7 1442.2,520.6 C1442.9,522.4 1443.5,524.3 1444.2,526.2 C1444.8,528.1 1445.5,530.0 1446.2,531.9 C1446.9,533.8 1447.6,535.6 1448.3,537.5 C1449.0,539.4 1449.8,541.2 1450.5,543.1 C1451.3,544.9 1452.1,546.8 1452.9,548.6 C1453.7,550.4 1454.5,552.3 1455.3,554.1 C1456.0,556.0 1456.8,557.8 1457.5,559.7 C1458.2,561.5 1458.8,563.4 1459.5,565.3 C1460.1,567.2 1460.7,569.1 1461.3,571.1 C1461.9,573.0 1462.5,574.9 1463.0,576.8 C1463.6,578.7 1464.2,580.6 1464.8,582.6 C1465.3,584.5 1465.9,586.4 1466.5,588.3 C1467.1,590.2 1467.6,592.1 1468.2,594.1 C1468.8,596.0 1469.4,597.9 1469.9,599.8 C1470.5,601.7 1471.1,603.6 1471.7,605.6 C1472.2,607.5 1472.8,609.4 1473.4,611.3 C1474.0,613.2 1474.5,615.2 1475.1,617.1 C1475.7,619.0 1476.3,620.9 1476.8,622.8 C1477.4,624.7 1478.0,626.7 1478.6,628.6 C1479.2,630.5 1479.8,632.4 1480.4,634.3 C1481.0,636.2 1481.6,638.1 1482.3,640.0 C1482.9,641.9 1483.6,643.8 1484.3,645.6 C1485.0,647.5 1485.8,649.4 1486.5,651.2 C1487.2,653.1 1488.0,655.0 1488.7,656.8 C1489.5,658.7 1490.2,660.5 1490.9,662.4 C1491.6,664.3 1492.4,666.1 1493.0,668.0 C1493.7,669.9 1494.4,671.8 1495.0,673.7 C1495.6,675.6 1496.2,677.5 1496.8,679.4 C1497.4,681.3 1498.0,683.3 1498.5,685.2 C1499.1,687.1 1499.7,689.0 1500.3,690.9 C1500.9,692.8 1501.4,694.8 1502.0,696.7 C1502.6,698.6 1503.2,700.5 1503.7,702.4 C1504.3,704.3 1504.9,706.2 1505.5,708.2 C1506.1,710.1 1506.8,712.0 1507.4,713.9 C1508.0,715.8 1508.7,717.7 1509.4,719.5 C1510.0,721.4 1510.7,723.3 1511.3,725.2 C1512.0,727.1 1512.7,729.0 1513.3,730.9 C1514.0,732.8 1514.6,734.7 1515.3,736.6 C1515.9,738.5 1516.6,740.3 1517.2,742.2 C1517.9,744.1 1518.5,746.0 1519.1,747.9 C1519.7,749.9 1520.3,751.8 1520.8,753.7 C1521.3,755.6 1521.8,757.6 1522.4,759.5 C1522.9,761.4 1523.3,763.4 1523.8,765.3 C1524.3,767.3 1524.8,769.2 1525.3,771.1 C1525.8,773.1 1526.3,775.0 1526.8,777.0 C1527.3,778.9 1527.8,780.8 1528.3,782.8 C1528.9,784.7 1529.4,786.6 1530.1,788.5 C1530.7,790.4 1531.5,792.2 1532.2,794.1 C1532.9,795.9 1533.7,797.8 1534.4,799.6 C1535.1,801.5 1535.8,803.4 1536.4,805.3 C1537.1,807.1 1537.7,809.1 1538.3,811.0 C1538.9,812.9 1539.4,814.8 1540.0,816.7 C1540.6,818.6 1541.2,820.5 1541.8,822.4 C1542.4,824.4 1543.0,826.3 1543.6,828.2 C1544.3,830.1 1544.9,831.9 1545.6,833.8 C1546.3,835.7 1547.1,837.6 1547.8,839.4 C1548.5,841.3 1549.3,843.1 1550.0,845.0 C1550.7,846.9 1551.5,848.7 1552.2,850.6 C1553.0,852.4 1553.7,854.3 1554.5,856.2 C1555.2,858.0 1556.0,859.9 1556.7,861.7 C1557.5,863.6 1558.2,865.4 1559.0,867.3 C1559.8,869.1 1560.6,871.0 1561.4,872.8 C1562.2,874.6 1563.0,876.4 1563.9,878.3 C1564.7,880.1 1565.6,881.9 1566.4,883.7 C1567.2,885.5 1568.1,887.3 1568.9,889.1 C1569.8,891.0 1570.6,892.8 1571.5,894.6 C1572.4,896.4 1573.2,898.2 1574.1,900.0 C1575.0,901.8 1575.8,903.6 1576.7,905.4 C1577.6,907.2 1578.5,909.0 1579.4,910.8 C1580.3,912.6 1581.2,914.4 1582.1,916.2 C1583.0,917.9 1583.9,919.7 1584.8,921.5 C1585.7,923.3 1586.6,925.1 1587.4,926.9 C1588.3,928.7 1589.2,930.5 1590.1,932.3 C1591.0,934.1 1591.9,935.9 1592.8,937.7 C1593.6,939.5 1594.5,941.3 1595.3,943.1 C1596.2,944.9 1597.0,946.7 1597.8,948.6 C1598.7,950.4 1599.5,952.2 1600.3,954.0 C1601.1,955.9 1602.0,957.7 1602.8,959.5 C1603.6,961.3 1604.4,963.2 1605.2,965.0 C1606.1,966.8 1606.9,968.6 1607.7,970.4 C1608.6,972.2 1609.5,974.1 1610.4,975.8 C1611.3,977.6 1612.3,979.3 1613.3,981.0 C1614.4,982.7 1615.5,984.4 1616.6,986.0 C1617.8,987.6 1619.0,989.2 1620.2,990.9 C1621.3,992.5 1622.5,994.1 1623.7,995.7 C1624.9,997.3 1626.1,998.9 1627.3,1000.5 C1628.4,1002.1 1629.6,1003.8 1630.8,1005.4 C1631.9,1007.0 1633.1,1008.7 1634.2,1010.3 C1635.4,1012.0 1636.5,1013.6 1637.7,1015.2 C1638.8,1016.9 1640.0,1018.5 1641.1,1020.1 C1642.3,1021.7 1643.5,1023.4 1644.8,1024.9 C1646.0,1026.4 1647.3,1027.9 1648.7,1029.3 C1650.1,1030.7 1651.6,1032.0 1653.1,1033.2 C1654.7,1034.4 1656.4,1035.5 1658.0,1036.7 C1659.6,1037.8 1662.2,1039.4 1663.0,1040.0" fill="none" stroke="#0000ff" stroke-width="13" stroke-linejoin="round" stroke-linecap="round"/>
<path d="M985.0,1132.0 C986.0,1132.0 989.0,1131.9 991.0,1131.8 C993.0,1131.8 995.0,1131.7 997.0,1131.7 C999.0,1131.6 1001.0,1131.5 1003.0,1131.5 C1005.0,1131.4 1007.0,1131.4 1009.0,1131.3 C1011.0,1131.2 1013.0,1131.1 1015.0,1131.0 C1017.0,1130.9 1019.0,1130.8 1021.0,1130.6 C1023.0,1130.4 1025.0,1130.1 1027.0,1129.9 C1028.9,1129.6 1030.9,1129.3 1032.9,1129.0 C1034.9,1128.7 1036.8,1128.3 1038.8,1127.9 C1040.7,1127.5 1042.6,1127.0 1044.5,1126.4 C1046.4,1125.8 1048.2,1125.1 1050.0,1124.3 C1051.9,1123.5 1053.6,1122.6 1055.4,1121.7 C1057.2,1120.9 1059.0,1120.0 1060.8,1119.2 C1062.6,1118.3 1064.5,1117.6 1066.3,1116.8 C1068.1,1116.0 1070.0,1115.2 1071.8,1114.4 C1073.6,1113.6 1075.4,1112.7 1077.2,1111.8 C1078.9,1110.8 1080.7,1109.9 1082.4,1108.8 C1084.0,1107.7 1085.7,1106.6 1087.3,1105.4 C1088.9,1104.3 1090.4,1103.0 1091.9,1101.7 C1093.4,1100.4 1094.9,1099.0 1096.3,1097.6 C1097.8,1096.2 1099.2,1094.8 1100.6,1093.4 C1101.9,1091.9 1103.3,1090.5 1104.6,1089.0 C1105.9,1087.5 1107.2,1086.0 1108.3,1084.3 C1109.4,1082.7 1110.4,1081.0 1111.4,1079.3 C1112.3,1077.5 1113.2,1075.7 1114.0,1073.9 C1114.8,1072.1 1115.6,1070.3 1116.4,1068.4 C1117.2,1066.6 1117.9,1064.7 1118.6,1062.8 C1119.3,1061.0 1120.0,1059.1 1120.7,1057.2 C1121.3,1055.3 1121.9,1053.4 1122.5,1051.5 C1123.1,1049.6 1123.7,1047.7 1124.3,1045.7 C1124.9,1043.8 1125.4,1041.9 1126.0,1040.0 C1126.6,1038.1 1127.1,1036.1 1127.7,1034.2 C1128.3,1032.3 1128.8,1030.4 1129.3,1028.4 C1129.9,1026.5 1130.4,1024.6 1130.9,1022.6 C1131.5,1020.7 1132.0,1018.8 1132.5,1016.8 C1133.0,1014.9 1133.5,1013.0 1134.0,1011.0 C1134.6,1009.1 1135.1,1007.2 1135.6,1005.2 C1136.0,1003.3 1136.5,1001.3 1137.0,999.4 C1137.4,997.4 1137.8,995.5 1138.3,993.5 C1138.7,991.6 1139.1,989.6 1139.5,987.6 C1139.9,985.7 1140.3,983.7 1140.7,981.7 C1141.1,979.8 1141.5,977.8 1142.0,975.9 C1142.4,973.9 1142.8,972.0 1143.3,970.0 C1143.7,968.0 1144.1,966.1 1144.6,964.1 C1145.0,962.2 1145.4,960.2 1145.9,958.3 C1146.3,956.3 1146.8,954.4 1147.2,952.4 C1147.6,950.5 1148.1,948.5 1148.5,946.5 C1148.9,944.6 1149.4,942.6 1149.8,940.7 C1150.2,938.7 1150.6,936.8 1151.0,934.8 C1151.4,932.8 1151.8,930.9 1152.2,928.9 C1152.6,926.9 1153.0,925.0 1153.4,923.0 C1153.8,921.0 1154.2,919.1 1154.6,917.1 C1155.0,915.2 1155.4,913.2 1155.7,911.2 C1156.1,909.3 1156.5,907.3 1156.9,905.3 C1157.3,903.4 1157.6,901.4 1157.9,899.4 C1158.3,897.4 1158.6,895.5 1158.9,893.5 C1159.2,891.5 1159.5,889.5 1159.8,887.5 C1160.1,885.6 1160.3,883.6 1160.6,881.6 C1160.9,879.6 1161.2,877.6 1161.5,875.6 C1161.8,873.7 1162.0,871.7 1162.3,869.7 C1162.6,867.7 1162.9,865.7 1163.2,863.7 C1163.5,861.8 1163.7,859.8 1164.0,857.8 C1164.3,855.8 1164.6,853.8 1164.9,851.8 C1165.2,849.9 1165.4,847.9 1165.7,845.9 C1166.0,843.9 1166.3,841.9 1166.6,839.9 C1166.9,838.0 1167.2,836.0 1167.5,834.0 C1167.8,832.0 1168.1,830.0 1168.5,828.1 C1168.8,826.1 1169.2,824.1 1169.6,822.2 C1170.0,820.2 1170.4,818.2 1170.7,816.3 C1171.1,814.3 1171.5,812.3 1171.9,810.4 C1172.3,808.4 1172.7,806.4 1173.0,804.5 C1173.4,802.5 1173.7,800.5 1174.0,798.6 C1174.3,796.6 1174.6,794.6 1174.8,792.6 C1175.1,790.6 1175.4,788.6 1175.6,786.6 C1175.8,784.7 1176.1,782.7 1176.3,780.7 C1176.6,778.7 1176.8,776.7 1177.0,774.7 C1177.3,772.7 1177.5,770.7 1177.8,768.7 C1178.0,766.8 1178.2,764.8 1178.5,762.8 C1178.7,760.8 1178.9,758.8 1179.2,756.8 C1179.4,754.8 1179.7,752.8 1179.9,750.8 C1180.2,748.9 1180.5,746.9 1180.7,744.9 C1181.0,742.9 1181.3,740.9 1181.5,738.9 C1181.8,736.9 1182.1,735.0 1182.3,733.0 C1182.6,731.0 1182.9,729.0 1183.2,727.0 C1183.4,725.0 1183.7,723.1 1184.0,721.1 C1184.3,719.1 1184.5,717.1 1184.8,715.1 C1185.1,713.1 1185.3,711.1 1185.6,709.2 C1185.9,707.2 1186.2,705.2 1186.4,703.2 C1186.7,701.2 1187.0,699.2 1187.3,697.3 C1187.5,695.3 1187.8,693.3 1188.1,691.3 C1188.3,689.3 1188.6,687.3 1188.9,685.3 C1189.2,683.4 1189.4,681.4 1189.7,679.4 C1190.0,677.4 1190.2,675.4 1190.5,673.4 C1190.8,671.5 1191.0,669.5 1191.2,667.5 C1191.5,665.5 1191.7,663.5 1192.0,661.5 C1192.2,659.5 1192.4,657.5 1192.7,655.5 C1192.9,653.5 1193.1,651.6 1193.3,649.6 C1193.6,647.6 1193.8,645.6 1194.0,643.6 C1194.2,641.6 1194.5,639.6 1194.7,637.6 C1194.9,635.6 1195.2,633.6 1195.4,631.7 C1195.6,629.7 1195.8,627.7 1196.1,625.7 C1196.3,623.7 1196.5,621.7 1196.7,619.7 C1197.0,617.7 1197.2,615.7 1197.4,613.7 C1197.7,611.8 1197.9,609.8 1198.1,607.8 C1198.3,605.8 1198.6,603.8 1198.8,601.8 C1199.0,599.8 1199.2,597.8 1199.4,595.8 C1199.6,593.8 1199.8,591.8 1200.0,589.8 C1200.2,587.9 1200.4,585.9 1200.6,583.9 C1200.8,581.9 1201.0,579.9 1201.2,577.9 C1201.4,575.9 1201.6,573.9 1201.8,571.9 C1202.0,569.9 1202.2,567.9 1202.4,565.9 C1202.7,563.9 1202.9,561.9 1203.1,560.0 C1203.4,558.0 1203.7,556.0 1203.9,554.0 C1204.2,552.0 1204.5,550.0 1204.8,548.1 C1205.1,546.1 1205.4,544.1 1205.7,542.1 C1206.0,540.1 1206.3,538.2 1206.6,536.2 C1206.9,534.2 1207.2,532.2 1207.5,530.2 C1207.8,528.2 1208.1,526.3 1208.4,524.3 C1208.7,522.3 1209.0,520.3 1209.2,518.3 C1209.5,516.4 1209.8,514.4 1210.1,512.4 C1210.4,510.4 1210.7,508.4 1211.0,506.5 C1211.3,504.5 1211.6,502.5 1211.9,500.5 C1212.2,498.5 1212.5,496.5 1212.8,494.6 C1213.1,492.6 1213.4,490.6 1213.7,488.6 C1214.0,486.6 1214.3,484.7 1214.6,482.7 C1214.8,480.7 1215.1,478.7 1215.4,476.7 C1215.6,474.7 1215.9,472.8 1216.1,470.8 C1216.4,468.8 1216.6,466.8 1216.9,464.8 C1217.1,462.8 1217.4,460.8 1217.6,458.8 C1217.9,456.9 1218.1,454.9 1218.4,452.9 C1218.6,450.9 1218.9,448.9 1219.1,446.9 C1219.4,444.9 1219.6,442.9 1219.9,440.9 C1220.1,439.0 1220.4,437.0 1220.6,435.0 C1220.9,433.0 1221.1,431.0 1221.4,429.0 C1221.6,427.0 1221.9,425.0 1222.1,423.1 C1222.4,421.1 1222.6,419.1 1222.9,417.1 C1223.1,415.1 1223.4,413.1 1223.6,411.1 C1223.9,409.1 1224.1,407.2 1224.4,405.2 C1224.6,403.2 1224.9,401.2 1225.2,399.2 C1225.5,397.2 1225.8,395.3 1226.1,393.3 C1226.4,391.3 1226.7,389.3 1227.0,387.3 C1227.3,385.4 1227.6,383.4 1227.9,381.4 C1228.2,379.4 1228.5,377.4 1228.9,375.5 C1229.2,373.5 1229.5,371.5 1229.8,369.5 C1230.1,367.5 1230.4,365.6 1230.7,363.6 C1231.0,361.6 1231.3,359.6 1231.7,357.6 C1232.0,355.7 1232.3,353.7 1232.6,351.7 C1232.9,349.7 1233.2,347.8 1233.5,345.8 C1233.8,343.8 1234.1,341.8 1234.5,339.8 C1234.8,337.9 1235.1,335.9 1235.4,333.9 C1235.7,331.9 1236.0,329.9 1236.3,328.0 C1236.6,326.0 1236.9,324.0 1237.2,322.0 C1237.5,320.0 1237.8,318.1 1238.1,316.1 C1238.4,314.1 1238.7,312.1 1239.0,310.1 C1239.3,308.2 1239.6,306.2 1239.9,304.2 C1240.2,302.2 1240.5,300.2 1240.8,298.3 C1241.1,296.3 1241.4,294.3 1241.7,292.3 C1242.1,290.3 1242.4,288.4 1242.8,286.4 C1243.1,284.4 1243.5,282.5 1243.9,280.5 C1244.3,278.5 1244.7,276.6 1245.1,274.6 C1245.5,272.6 1245.9,270.7 1246.3,268.7 C1246.7,266.8 1247.1,264.8 1247.6,262.9 C1248.0,260.9 1248.5,259.0 1249.0,257.0 C1249.5,255.1 1250.1,253.2 1250.6,251.2 C1251.1,249.3 1251.7,247.4 1252.2,245.4 C1252.7,243.5 1253.2,241.6 1253.6,239.6 C1254.0,237.7 1254.4,235.7 1254.8,233.7 C1255.1,231.8 1255.3,229.8 1255.6,227.8 C1255.9,225.8 1256.1,223.8 1256.3,221.8 C1256.6,219.9 1256.8,217.9 1257.2,215.9 C1257.5,214.0 1257.9,212.0 1258.4,210.1 C1258.9,208.1 1259.4,206.2 1259.9,204.3 C1260.5,202.3 1261.1,200.4 1261.7,198.5 C1262.3,196.6 1262.9,194.7 1263.5,192.8 C1264.2,190.9 1264.9,189.0 1265.6,187.2 C1266.3,185.3 1267.0,183.4 1267.8,181.6 C1268.6,179.7 1269.4,177.9 1270.3,176.1 C1271.1,174.3 1272.1,172.6 1273.0,170.8 C1274.0,169.1 1275.0,167.3 1276.0,165.6 C1277.0,163.9 1278.1,162.2 1279.2,160.6 C1280.4,158.9 1281.5,157.3 1282.7,155.7 C1284.0,154.1 1285.2,152.6 1286.6,151.2 C1288.0,149.9 1289.4,148.5 1291.0,147.6 C1292.5,146.6 1294.2,145.8 1295.9,145.5 C1297.6,145.2 1299.4,145.2 1301.0,145.6 C1302.7,146.0 1304.3,146.9 1305.8,147.9 C1307.3,149.0 1308.7,150.4 1309.9,151.9 C1311.2,153.3 1312.3,155.0 1313.4,156.6 C1314.5,158.2 1315.5,160.0 1316.6,161.7 C1317.6,163.4 1318.6,165.1 1319.6,166.8 C1320.7,168.5 1321.8,170.2 1322.8,171.9 C1323.9,173.6 1325.0,175.3 1326.1,176.9 C1327.2,178.6 1328.3,180.3 1329.4,182.0 C1330.4,183.7 1331.5,185.4 1332.5,187.1 C1333.5,188.8 1334.6,190.6 1335.6,192.3 C1336.6,194.0 1337.5,195.8 1338.5,197.5 C1339.5,199.3 1340.4,201.0 1341.4,202.8 C1342.4,204.5 1343.4,206.3 1344.4,208.0 C1345.3,209.8 1346.4,211.5 1347.3,213.2 C1348.3,215.0 1349.3,216.7 1350.3,218.5 C1351.2,220.2 1352.2,222.0 1353.1,223.8 C1354.0,225.6 1354.9,227.4 1355.7,229.2 C1356.6,231.0 1357.4,232.8 1358.2,234.6 C1359.1,236.4 1359.9,238.3 1360.8,240.1 C1361.6,241.9 1362.5,243.7 1363.3,245.5 C1364.2,247.3 1365.1,249.1 1366.0,250.9 C1366.9,252.7 1367.8,254.5 1368.7,256.3 C1369.6,258.1 1370.5,259.9 1371.4,261.6 C1372.3,263.4 1373.2,265.2 1374.1,267.0 C1375.1,268.8 1376.0,270.5 1376.9,272.3 C1377.8,274.1 1378.7,275.9 1379.6,277.7 C1380.4,279.5 1381.3,281.3 1382.1,283.2 C1382.9,285.0 1383.6,286.8 1384.4,288.7 C1385.1,290.5 1385.9,292.4 1386.6,294.3 C1387.3,296.1 1388.1,298.0 1388.8,299.9 C1389.6,301.7 1390.4,303.6 1391.1,305.4 C1391.9,307.2 1392.7,309.1 1393.5,310.9 C1394.3,312.7 1395.1,314.6 1396.0,316.4 C1396.8,318.2 1397.6,320.1 1398.4,321.9 C1399.3,323.7 1400.1,325.5 1401.0,327.3 C1401.8,329.1 1402.7,330.9 1403.7,332.7 C1404.6,334.5 1405.5,336.2 1406.5,338.0 C1407.5,339.7 1408.4,341.5 1409.4,343.2 C1410.4,345.0 1411.4,346.7 1412.4,348.5 C1413.4,350.2 1414.4,351.9 1415.5,353.6 C1416.6,355.3 1417.7,356.9 1418.8,358.6 C1419.9,360.3 1421.1,361.9 1422.1,363.6 C1423.2,365.2 1424.3,366.9 1425.2,368.6 C1426.2,370.4 1427.0,372.2 1427.8,374.0 C1428.5,375.8 1429.2,377.7 1429.8,379.6 C1430.4,381.5 1431.0,383.4 1431.6,385.3 C1432.2,387.2 1432.7,389.2 1433.3,391.1 C1433.9,393.0 1434.5,394.9 1435.1,396.8 C1435.6,398.8 1436.2,400.7 1436.8,402.6 C1437.4,404.5 1437.9,406.4 1438.5,408.3 C1439.1,410.3 1439.7,412.2 1440.2,414.1 C1440.8,416.0 1441.4,417.9 1442.0,419.9 C1442.5,421.8 1443.1,423.7 1443.7,425.6 C1444.3,427.5 1444.8,429.5 1445.4,431.4 C1446.0,433.3 1446.6,435.2 1447.1,437.1 C1447.7,439.1 1448.3,441.0 1448.9,442.9 C1449.4,444.8 1450.0,446.7 1450.6,448.6 C1451.2,450.6 1451.7,452.5 1452.3,454.4 C1452.9,456.3 1453.5,458.2 1454.0,460.2 C1454.6,462.1 1455.2,464.0 1455.8,465.9 C1456.4,467.8 1456.9,469.7 1457.5,471.7 C1458.1,473.6 1458.7,475.5 1459.3,477.4 C1459.9,479.3 1460.5,481.2 1461.1,483.1 C1461.7,485.1 1462.3,487.0 1462.9,488.9 C1463.5,490.8 1464.1,492.7 1464.7,494.6 C1465.4,496.5 1466.0,498.4 1466.6,500.3 C1467.2,502.2 1467.8,504.1 1468.5,506.0 C1469.1,507.9 1469.7,509.8 1470.3,511.7 C1470.9,513.6 1471.6,515.5 1472.2,517.5 C1472.8,519.4 1473.4,521.3 1474.0,523.2 C1474.6,525.1 1475.3,527.0 1475.9,528.9 C1476.5,530.8 1477.1,532.7 1477.7,534.6 C1478.4,536.5 1479.0,538.4 1479.6,540.3 C1480.2,542.2 1480.8,544.1 1481.5,546.0 C1482.1,547.9 1482.7,549.8 1483.3,551.7 C1483.9,553.7 1484.5,555.6 1485.1,557.5 C1485.7,559.4 1486.3,561.3 1486.9,563.2 C1487.5,565.1 1488.1,567.0 1488.7,569.0 C1489.3,570.9 1489.8,572.8 1490.4,574.7 C1491.0,576.6 1491.6,578.5 1492.1,580.5 C1492.7,582.4 1493.3,584.3 1493.9,586.2 C1494.4,588.1 1495.0,590.1 1495.6,592.0 C1496.2,593.9 1496.7,595.8 1497.3,597.7 C1497.9,599.7 1498.5,601.6 1499.0,603.5 C1499.6,605.4 1500.2,607.3 1500.8,609.2 C1501.4,611.2 1501.9,613.1 1502.5,615.0 C1503.1,616.9 1503.7,618.8 1504.2,620.8 C1504.8,622.7 1505.4,624.6 1506.0,626.5 C1506.5,628.4 1507.1,630.4 1507.7,632.3 C1508.2,634.2 1508.8,636.1 1509.4,638.0 C1509.9,640.0 1510.4,641.9 1511.0,643.8 C1511.5,645.8 1512.0,647.7 1512.6,649.6 C1513.1,651.6 1513.6,653.5 1514.1,655.4 C1514.6,657.4 1515.1,659.3 1515.7,661.2 C1516.2,663.2 1516.7,665.1 1517.2,667.0 C1517.7,669.0 1518.3,670.9 1518.8,672.8 C1519.3,674.8 1519.8,676.7 1520.4,678.6 C1520.9,680.6 1521.4,682.5 1522.0,684.4 C1522.5,686.4 1523.0,688.3 1523.6,690.2 C1524.1,692.2 1524.6,694.1 1525.2,696.0 C1525.7,698.0 1526.2,699.9 1526.8,701.8 C1527.3,703.8 1527.8,705.7 1528.3,707.6 C1528.9,709.5 1529.4,711.5 1529.9,713.4 C1530.5,715.3 1531.0,717.3 1531.5,719.2 C1532.1,721.1 1532.6,723.1 1533.1,725.0 C1533.7,726.9 1534.2,728.9 1534.7,730.8 C1535.2,732.7 1535.8,734.7 1536.3,736.6 C1536.8,738.5 1537.4,740.5 1537.9,742.4 C1538.4,744.3 1538.9,746.3 1539.4,748.2 C1539.9,750.1 1540.4,752.1 1540.8,754.0 C1541.3,756.0 1541.7,757.9 1542.2,759.9 C1542.6,761.8 1543.0,763.8 1543.5,765.8 C1543.9,767.7 1544.3,769.7 1544.8,771.6 C1545.2,773.6 1545.6,775.5 1546.1,777.5 C1546.5,779.5 1546.9,781.4 1547.3,783.4 C1547.8,785.3 1548.2,787.3 1548.7,789.2 C1549.1,791.2 1549.6,793.1 1550.0,795.1 C1550.5,797.0 1551.1,798.9 1551.6,800.9 C1552.2,802.8 1552.8,804.7 1553.5,806.6 C1554.1,808.5 1554.8,810.3 1555.5,812.2 C1556.2,814.1 1556.9,816.0 1557.6,817.9 C1558.2,819.7 1558.9,821.6 1559.6,823.5 C1560.3,825.4 1561.0,827.3 1561.7,829.1 C1562.4,831.0 1563.1,832.9 1563.8,834.8 C1564.5,836.7 1565.2,838.5 1565.9,840.4 C1566.6,842.3 1567.3,844.2 1568.0,846.0 C1568.7,847.9 1569.4,849.8 1570.1,851.7 C1570.8,853.5 1571.5,855.4 1572.2,857.3 C1572.9,859.2 1573.6,861.0 1574.3,862.9 C1575.0,864.8 1575.7,866.7 1576.4,868.6 C1577.1,870.4 1577.8,872.3 1578.5,874.2 C1579.2,876.1 1579.9,877.9 1580.6,879.8 C1581.3,881.7 1582.0,883.6 1582.7,885.5 C1583.4,887.3 1584.1,889.2 1584.7,891.1 C1585.4,893.0 1586.1,894.9 1586.9,896.7 C1587.6,898.6 1588.3,900.5 1589.0,902.3 C1589.8,904.2 1590.6,906.0 1591.4,907.9 C1592.2,909.7 1593.1,911.5 1593.9,913.3 C1594.8,915.1 1595.8,916.8 1596.7,918.6 C1597.6,920.4 1598.6,922.1 1599.6,923.9 C1600.5,925.7 1601.5,927.4 1602.4,929.2 C1603.4,930.9 1604.3,932.7 1605.3,934.5 C1606.2,936.2 1607.2,938.0 1608.2,939.7 C1609.1,941.5 1610.1,943.3 1611.1,945.0 C1612.0,946.8 1613.0,948.5 1614.0,950.2 C1615.0,952.0 1616.0,953.7 1617.0,955.5 C1618.0,957.2 1619.0,958.9 1620.0,960.7 C1621.0,962.4 1621.9,964.2 1622.9,965.9 C1623.9,967.6 1624.9,969.4 1625.9,971.1 C1627.0,972.8 1628.0,974.6 1629.0,976.3 C1630.0,978.0 1631.1,979.7 1632.2,981.4 C1633.3,983.1 1634.4,984.7 1635.5,986.4 C1636.6,988.0 1637.8,989.7 1639.0,991.3 C1640.1,992.9 1641.3,994.5 1642.5,996.1 C1643.7,997.7 1645.0,999.2 1646.3,1000.8 C1647.6,1002.3 1648.9,1003.7 1650.3,1005.2 C1651.7,1006.7 1653.1,1008.1 1654.5,1009.5 C1655.9,1010.9 1657.3,1012.3 1658.8,1013.8 C1660.2,1015.2 1662.3,1017.3 1663.0,1018.0" fill="none" stroke="#ff0000" stroke-width="13" stroke-linejoin="round" stroke-linecap="round"/>
<path d="M1000.0,1132.0 C1001.0,1132.0 1004.0,1131.8 1006.0,1131.8 C1008.0,1131.7 1010.0,1131.6 1012.0,1131.5 C1014.0,1131.4 1016.0,1131.3 1018.0,1131.2 C1020.0,1131.1 1022.0,1131.0 1024.0,1130.9 C1026.0,1130.7 1028.0,1130.5 1030.0,1130.3 C1032.0,1130.1 1034.0,1129.9 1036.0,1129.7 C1037.9,1129.4 1039.9,1129.2 1041.9,1128.9 C1043.9,1128.6 1045.9,1128.4 1047.9,1128.0 C1049.8,1127.7 1051.8,1127.3 1053.7,1126.9 C1055.7,1126.5 1057.6,1126.0 1059.5,1125.4 C1061.5,1124.9 1063.4,1124.3 1065.2,1123.6 C1067.1,1122.9 1069.0,1122.2 1070.8,1121.4 C1072.6,1120.5 1074.4,1119.7 1076.1,1118.7 C1077.9,1117.8 1079.6,1116.8 1081.3,1115.7 C1083.0,1114.7 1084.7,1113.6 1086.4,1112.5 C1088.0,1111.4 1089.7,1110.3 1091.3,1109.1 C1092.9,1107.9 1094.5,1106.8 1096.0,1105.5 C1097.5,1104.2 1099.0,1102.9 1100.4,1101.4 C1101.7,1100.0 1103.0,1098.5 1104.3,1097.0 C1105.6,1095.5 1106.8,1093.9 1108.1,1092.3 C1109.3,1090.7 1110.4,1089.1 1111.5,1087.4 C1112.6,1085.8 1113.6,1084.1 1114.5,1082.3 C1115.5,1080.6 1116.3,1078.8 1117.1,1076.9 C1117.9,1075.1 1118.7,1073.3 1119.4,1071.4 C1120.2,1069.5 1120.9,1067.7 1121.6,1065.8 C1122.4,1064.0 1123.1,1062.1 1123.8,1060.2 C1124.5,1058.4 1125.3,1056.5 1126.0,1054.6 C1126.7,1052.7 1127.3,1050.8 1128.0,1049.0 C1128.7,1047.1 1129.4,1045.2 1130.1,1043.3 C1130.8,1041.4 1131.5,1039.6 1132.2,1037.7 C1132.9,1035.8 1133.6,1033.9 1134.3,1032.0 C1134.9,1030.2 1135.6,1028.3 1136.3,1026.4 C1137.0,1024.5 1137.7,1022.6 1138.4,1020.8 C1139.1,1018.9 1139.8,1017.0 1140.5,1015.1 C1141.1,1013.2 1141.8,1011.3 1142.5,1009.5 C1143.2,1007.6 1143.8,1005.7 1144.4,1003.8 C1145.0,1001.9 1145.6,1000.0 1146.1,998.0 C1146.6,996.1 1147.1,994.1 1147.5,992.2 C1147.9,990.2 1148.3,988.3 1148.7,986.3 C1149.1,984.3 1149.5,982.4 1149.9,980.4 C1150.2,978.4 1150.6,976.5 1150.9,974.5 C1151.3,972.5 1151.6,970.6 1152.0,968.6 C1152.3,966.6 1152.7,964.6 1153.0,962.7 C1153.4,960.7 1153.7,958.7 1154.1,956.7 C1154.4,954.8 1154.8,952.8 1155.1,950.8 C1155.4,948.9 1155.8,946.9 1156.1,944.9 C1156.5,942.9 1156.8,941.0 1157.1,939.0 C1157.4,937.0 1157.7,935.0 1158.0,933.0 C1158.3,931.1 1158.6,929.1 1158.9,927.1 C1159.2,925.1 1159.5,923.1 1159.8,921.2 C1160.1,919.2 1160.4,917.2 1160.7,915.2 C1161.0,913.2 1161.3,911.2 1161.6,909.3 C1161.9,907.3 1162.2,905.3 1162.5,903.3 C1162.8,901.3 1163.1,899.4 1163.4,897.4 C1163.7,895.4 1164.0,893.4 1164.3,891.4 C1164.7,889.5 1165.0,887.5 1165.3,885.5 C1165.6,883.5 1165.9,881.6 1166.2,879.6 C1166.5,877.6 1166.8,875.6 1167.1,873.6 C1167.5,871.7 1167.8,869.7 1168.1,867.7 C1168.4,865.7 1168.7,863.7 1169.0,861.8 C1169.3,859.8 1169.6,857.8 1169.9,855.8 C1170.3,853.8 1170.6,851.9 1170.9,849.9 C1171.2,847.9 1171.5,845.9 1171.8,843.9 C1172.1,842.0 1172.4,840.0 1172.7,838.0 C1173.1,836.0 1173.4,834.1 1173.7,832.1 C1174.0,830.1 1174.3,828.1 1174.7,826.1 C1175.0,824.2 1175.3,822.2 1175.6,820.2 C1176.0,818.2 1176.3,816.3 1176.6,814.3 C1176.9,812.3 1177.3,810.3 1177.6,808.4 C1177.9,806.4 1178.2,804.4 1178.6,802.4 C1178.9,800.4 1179.2,798.5 1179.5,796.5 C1179.8,794.5 1180.0,792.5 1180.3,790.5 C1180.6,788.6 1180.9,786.6 1181.2,784.6 C1181.4,782.6 1181.7,780.6 1182.0,778.6 C1182.3,776.7 1182.5,774.7 1182.8,772.7 C1183.1,770.7 1183.4,768.7 1183.7,766.7 C1183.9,764.7 1184.2,762.8 1184.5,760.8 C1184.8,758.8 1185.0,756.8 1185.3,754.8 C1185.6,752.8 1185.9,750.9 1186.1,748.9 C1186.4,746.9 1186.7,744.9 1187.0,742.9 C1187.2,740.9 1187.5,739.0 1187.8,737.0 C1188.1,735.0 1188.3,733.0 1188.6,731.0 C1188.9,729.0 1189.2,727.0 1189.4,725.1 C1189.7,723.1 1190.0,721.1 1190.2,719.1 C1190.5,717.1 1190.8,715.1 1191.1,713.2 C1191.3,711.2 1191.6,709.2 1191.9,707.2 C1192.2,705.2 1192.4,703.2 1192.7,701.2 C1193.0,699.3 1193.2,697.3 1193.5,695.3 C1193.8,693.3 1194.1,691.3 1194.3,689.3 C1194.6,687.4 1194.9,685.4 1195.2,683.4 C1195.4,681.4 1195.7,679.4 1196.0,677.4 C1196.2,675.4 1196.5,673.5 1196.7,671.5 C1197.0,669.5 1197.2,667.5 1197.5,665.5 C1197.7,663.5 1198.0,661.5 1198.2,659.5 C1198.4,657.5 1198.6,655.6 1198.9,653.6 C1199.1,651.6 1199.3,649.6 1199.6,647.6 C1199.8,645.6 1200.0,643.6 1200.2,641.6 C1200.5,639.6 1200.7,637.6 1200.9,635.7 C1201.2,633.7 1201.4,631.7 1201.6,629.7 C1201.8,627.7 1202.1,625.7 1202.3,623.7 C1202.5,621.7 1202.7,619.7 1203.0,617.7 C1203.2,615.8 1203.4,613.8 1203.6,611.8 C1203.9,609.8 1204.1,607.8 1204.3,605.8 C1204.5,603.8 1204.7,601.8 1204.9,599.8 C1205.1,597.8 1205.3,595.8 1205.4,593.8 C1205.6,591.8 1205.8,589.8 1205.9,587.8 C1206.1,585.8 1206.2,583.8 1206.4,581.8 C1206.5,579.9 1206.7,577.9 1206.8,575.9 C1207.0,573.9 1207.1,571.9 1207.3,569.9 C1207.4,567.9 1207.6,565.9 1207.8,563.9 C1208.0,561.9 1208.2,559.9 1208.5,557.9 C1208.8,555.9 1209.0,554.0 1209.3,552.0 C1209.6,550.0 1210.0,548.0 1210.3,546.0 C1210.6,544.1 1210.9,542.1 1211.2,540.1 C1211.6,538.1 1211.9,536.1 1212.2,534.2 C1212.5,532.2 1212.8,530.2 1213.2,528.2 C1213.5,526.3 1213.8,524.3 1214.1,522.3 C1214.4,520.3 1214.8,518.4 1215.1,516.4 C1215.4,514.4 1215.7,512.4 1216.1,510.4 C1216.4,508.5 1216.7,506.5 1217.0,504.5 C1217.3,502.5 1217.7,500.6 1218.0,498.6 C1218.3,496.6 1218.6,494.6 1218.9,492.6 C1219.3,490.7 1219.6,488.7 1219.9,486.7 C1220.2,484.7 1220.5,482.8 1220.8,480.8 C1221.1,478.8 1221.3,476.8 1221.6,474.8 C1221.9,472.8 1222.1,470.8 1222.4,468.9 C1222.6,466.9 1222.9,464.9 1223.1,462.9 C1223.4,460.9 1223.6,458.9 1223.9,456.9 C1224.1,454.9 1224.4,453.0 1224.6,451.0 C1224.9,449.0 1225.1,447.0 1225.4,445.0 C1225.6,443.0 1225.9,441.0 1226.1,439.0 C1226.4,437.1 1226.6,435.1 1226.9,433.1 C1227.1,431.1 1227.4,429.1 1227.6,427.1 C1227.9,425.1 1228.1,423.1 1228.4,421.2 C1228.6,419.2 1228.9,417.2 1229.1,415.2 C1229.4,413.2 1229.6,411.2 1229.9,409.2 C1230.1,407.2 1230.4,405.3 1230.6,403.3 C1230.9,401.3 1231.2,399.3 1231.5,397.3 C1231.8,395.3 1232.1,393.4 1232.4,391.4 C1232.7,389.4 1233.0,387.4 1233.3,385.4 C1233.6,383.5 1233.9,381.5 1234.2,379.5 C1234.5,377.5 1234.8,375.5 1235.2,373.6 C1235.5,371.6 1235.8,369.6 1236.1,367.6 C1236.4,365.6 1236.7,363.7 1237.0,361.7 C1237.3,359.7 1237.6,357.7 1238.0,355.8 C1238.3,353.8 1238.6,351.8 1238.9,349.8 C1239.2,347.8 1239.5,345.9 1239.8,343.9 C1240.1,341.9 1240.4,339.9 1240.7,337.9 C1241.0,336.0 1241.3,334.0 1241.6,332.0 C1241.9,330.0 1242.2,328.0 1242.5,326.0 C1242.7,324.1 1243.0,322.1 1243.2,320.1 C1243.5,318.1 1243.7,316.1 1244.0,314.1 C1244.2,312.1 1244.5,310.1 1244.7,308.2 C1245.0,306.2 1245.2,304.2 1245.5,302.2 C1245.7,300.2 1246.0,298.2 1246.3,296.2 C1246.6,294.3 1246.9,292.3 1247.2,290.3 C1247.6,288.3 1247.9,286.4 1248.3,284.4 C1248.7,282.5 1249.2,280.5 1249.6,278.5 C1250.0,276.6 1250.5,274.6 1250.9,272.7 C1251.3,270.7 1251.8,268.8 1252.2,266.8 C1252.7,264.9 1253.1,262.9 1253.5,261.0 C1254.0,259.0 1254.4,257.0 1254.9,255.1 C1255.3,253.1 1255.8,251.2 1256.3,249.3 C1256.8,247.3 1257.3,245.4 1257.8,243.4 C1258.2,241.5 1258.7,239.5 1259.2,237.6 C1259.7,235.6 1260.1,233.7 1260.6,231.7 C1261.0,229.8 1261.4,227.8 1261.8,225.9 C1262.3,223.9 1262.7,222.0 1263.1,220.0 C1263.6,218.1 1264.1,216.1 1264.6,214.2 C1265.1,212.3 1265.6,210.7 1266.3,208.4 C1267.0,206.2 1268.0,203.0 1268.8,200.8 C1269.6,198.6 1270.2,197.1 1270.9,195.2 C1271.6,193.3 1272.4,191.5 1273.1,189.6 C1273.9,187.8 1274.7,185.9 1275.5,184.1 C1276.3,182.3 1277.1,180.5 1278.0,178.6 C1278.8,176.8 1279.7,175.0 1280.6,173.3 C1281.5,171.5 1282.4,169.7 1283.3,167.9 C1284.3,166.1 1285.2,164.3 1286.1,162.5 C1287.0,160.8 1287.8,158.9 1288.7,157.2 C1289.7,155.4 1290.6,153.6 1291.6,152.1 C1292.6,150.5 1293.7,148.9 1294.9,147.8 C1296.1,146.8 1297.4,146.0 1298.7,145.8 C1300.1,145.6 1301.6,146.0 1302.9,146.7 C1304.3,147.4 1305.6,148.7 1306.9,150.0 C1308.1,151.4 1309.2,153.1 1310.3,154.7 C1311.4,156.3 1312.3,158.1 1313.3,159.8 C1314.3,161.6 1315.2,163.4 1316.1,165.1 C1317.1,166.9 1318.0,168.7 1319.0,170.4 C1320.0,172.1 1321.0,173.8 1322.1,175.5 C1323.2,177.2 1324.3,178.9 1325.4,180.5 C1326.6,182.1 1327.8,183.7 1329.0,185.3 C1330.3,186.9 1331.5,188.4 1332.8,190.0 C1334.0,191.5 1335.3,193.1 1336.5,194.7 C1337.7,196.3 1339.0,197.8 1340.1,199.5 C1341.3,201.1 1342.5,202.7 1343.6,204.4 C1344.8,206.0 1345.9,207.7 1346.9,209.4 C1348.0,211.0 1349.1,212.8 1350.1,214.5 C1351.1,216.2 1352.1,217.9 1353.1,219.7 C1354.1,221.4 1355.1,223.1 1356.0,224.9 C1357.0,226.7 1357.9,228.4 1358.8,230.2 C1359.7,232.0 1360.5,233.8 1361.4,235.6 C1362.3,237.5 1363.1,239.3 1363.9,241.1 C1364.8,242.9 1365.6,244.7 1366.4,246.6 C1367.3,248.4 1368.2,250.2 1369.0,252.0 C1369.9,253.8 1370.8,255.6 1371.7,257.4 C1372.6,259.2 1373.5,260.9 1374.4,262.7 C1375.3,264.5 1376.2,266.3 1377.1,268.1 C1378.0,269.9 1379.0,271.6 1379.9,273.4 C1380.8,275.2 1381.7,277.0 1382.7,278.7 C1383.6,280.5 1384.5,282.3 1385.5,284.1 C1386.4,285.9 1387.3,287.6 1388.2,289.4 C1389.1,291.2 1390.0,293.0 1390.9,294.8 C1391.8,296.6 1392.7,298.4 1393.6,300.2 C1394.5,302.0 1395.3,303.8 1396.2,305.6 C1397.1,307.4 1398.0,309.2 1398.8,311.0 C1399.7,312.8 1400.6,314.6 1401.4,316.4 C1402.3,318.2 1403.2,320.0 1404.1,321.8 C1404.9,323.6 1405.8,325.4 1406.7,327.2 C1407.6,329.0 1408.5,330.8 1409.5,332.5 C1410.4,334.3 1411.3,336.1 1412.3,337.8 C1413.2,339.6 1414.2,341.4 1415.2,343.1 C1416.1,344.9 1417.1,346.6 1418.1,348.3 C1419.1,350.1 1420.2,351.8 1421.2,353.5 C1422.2,355.2 1423.3,356.9 1424.4,358.6 C1425.5,360.3 1426.6,361.9 1427.6,363.6 C1428.6,365.4 1429.6,367.1 1430.5,368.8 C1431.4,370.6 1432.2,372.4 1432.9,374.3 C1433.7,376.1 1434.3,378.0 1434.9,379.9 C1435.5,381.8 1436.1,383.7 1436.7,385.6 C1437.3,387.6 1437.8,389.5 1438.4,391.4 C1439.0,393.3 1439.6,395.2 1440.1,397.2 C1440.7,399.1 1441.3,401.0 1441.9,402.9 C1442.4,404.8 1443.0,406.7 1443.6,408.7 C1444.2,410.6 1444.8,412.5 1445.3,414.4 C1445.9,416.3 1446.5,418.3 1447.1,420.2 C1447.6,422.1 1448.2,424.0 1448.8,425.9 C1449.4,427.9 1449.9,429.8 1450.5,431.7 C1451.1,433.6 1451.7,435.5 1452.2,437.4 C1452.8,439.4 1453.4,441.3 1454.0,443.2 C1454.5,445.1 1455.1,447.0 1455.7,449.0 C1456.3,450.9 1456.8,452.8 1457.4,454.7 C1458.0,456.6 1458.6,458.6 1459.1,460.5 C1459.7,462.4 1460.3,464.3 1460.9,466.2 C1461.4,468.1 1462.0,470.1 1462.6,472.0 C1463.2,473.9 1463.8,475.8 1464.4,477.7 C1465.0,479.6 1465.6,481.5 1466.2,483.4 C1466.8,485.4 1467.5,487.3 1468.1,489.2 C1468.7,491.1 1469.4,493.0 1470.0,494.8 C1470.7,496.7 1471.3,498.6 1471.9,500.5 C1472.6,502.4 1473.2,504.3 1473.9,506.2 C1474.5,508.1 1475.1,510.0 1475.8,511.9 C1476.4,513.8 1477.1,515.7 1477.7,517.6 C1478.3,519.5 1479.0,521.4 1479.6,523.3 C1480.3,525.2 1480.9,527.1 1481.5,529.0 C1482.2,530.9 1482.8,532.8 1483.5,534.7 C1484.1,536.6 1484.7,538.5 1485.4,540.4 C1486.0,542.3 1486.7,544.2 1487.3,546.1 C1487.9,548.0 1488.6,549.9 1489.2,551.8 C1489.8,553.7 1490.5,555.6 1491.1,557.5 C1491.7,559.4 1492.3,561.3 1492.9,563.2 C1493.4,565.2 1494.0,567.1 1494.6,569.0 C1495.1,570.9 1495.7,572.9 1496.2,574.8 C1496.8,576.7 1497.4,578.6 1497.9,580.6 C1498.5,582.5 1499.0,584.4 1499.6,586.3 C1500.1,588.3 1500.7,590.2 1501.2,592.1 C1501.8,594.0 1502.3,596.0 1502.9,597.9 C1503.4,599.8 1504.0,601.7 1504.6,603.7 C1505.1,605.6 1505.7,607.5 1506.2,609.4 C1506.8,611.4 1507.3,613.3 1507.9,615.2 C1508.4,617.1 1509.0,619.1 1509.5,621.0 C1510.1,622.9 1510.6,624.8 1511.2,626.8 C1511.7,628.7 1512.3,630.6 1512.8,632.5 C1513.4,634.5 1513.9,636.4 1514.5,638.3 C1515.0,640.3 1515.5,642.2 1516.1,644.1 C1516.6,646.0 1517.1,648.0 1517.6,649.9 C1518.2,651.9 1518.7,653.8 1519.2,655.7 C1519.7,657.7 1520.2,659.6 1520.7,661.5 C1521.3,663.5 1521.8,665.4 1522.3,667.3 C1522.8,669.3 1523.4,671.2 1523.9,673.1 C1524.5,675.0 1525.0,677.0 1525.6,678.9 C1526.1,680.8 1526.7,682.8 1527.2,684.7 C1527.8,686.6 1528.3,688.5 1528.9,690.5 C1529.4,692.4 1530.0,694.3 1530.5,696.2 C1531.1,698.2 1531.6,700.1 1532.2,702.0 C1532.8,703.9 1533.3,705.9 1533.9,707.8 C1534.4,709.7 1535.0,711.6 1535.5,713.6 C1536.1,715.5 1536.6,717.4 1537.2,719.3 C1537.7,721.3 1538.3,723.2 1538.8,725.1 C1539.4,727.0 1540.0,729.0 1540.5,730.9 C1541.1,732.8 1541.6,734.7 1542.2,736.7 C1542.7,738.6 1543.3,740.5 1543.8,742.4 C1544.3,744.4 1544.9,746.3 1545.3,748.2 C1545.8,750.2 1546.3,752.1 1546.8,754.1 C1547.2,756.0 1547.6,758.0 1548.1,760.0 C1548.5,761.9 1548.9,763.9 1549.3,765.8 C1549.7,767.8 1550.1,769.8 1550.5,771.7 C1550.9,773.7 1551.3,775.6 1551.7,777.6 C1552.1,779.6 1552.6,781.5 1553.0,783.5 C1553.4,785.4 1553.8,787.4 1554.2,789.4 C1554.7,791.3 1555.1,793.3 1555.6,795.2 C1556.1,797.1 1556.6,799.1 1557.2,801.0 C1557.8,802.9 1558.4,804.8 1559.1,806.7 C1559.7,808.5 1560.5,810.4 1561.2,812.3 C1561.9,814.2 1562.6,816.0 1563.3,817.9 C1564.0,819.8 1564.8,821.6 1565.5,823.5 C1566.2,825.4 1566.9,827.2 1567.6,829.1 C1568.3,831.0 1569.1,832.9 1569.8,834.7 C1570.5,836.6 1571.2,838.5 1571.9,840.4 C1572.6,842.2 1573.3,844.1 1574.0,846.0 C1574.7,847.9 1575.4,849.7 1576.1,851.6 C1576.8,853.5 1577.5,855.4 1578.2,857.2 C1578.9,859.1 1579.6,861.0 1580.3,862.9 C1581.0,864.7 1581.7,866.6 1582.4,868.5 C1583.1,870.4 1583.8,872.3 1584.5,874.2 C1585.1,876.0 1585.8,877.9 1586.5,879.8 C1587.2,881.7 1587.8,883.6 1588.5,885.5 C1589.2,887.4 1589.9,889.2 1590.6,891.1 C1591.2,893.0 1591.9,894.9 1592.6,896.8 C1593.4,898.6 1594.1,900.5 1594.9,902.3 C1595.6,904.2 1596.4,906.0 1597.2,907.8 C1598.1,909.7 1598.9,911.5 1599.8,913.3 C1600.7,915.1 1601.6,916.9 1602.5,918.7 C1603.4,920.4 1604.3,922.2 1605.2,924.0 C1606.1,925.8 1607.0,927.6 1608.0,929.4 C1608.9,931.1 1609.8,932.9 1610.7,934.7 C1611.6,936.5 1612.5,938.3 1613.5,940.0 C1614.4,941.8 1615.4,943.6 1616.3,945.3 C1617.3,947.1 1618.2,948.8 1619.2,950.6 C1620.2,952.3 1621.2,954.1 1622.2,955.8 C1623.2,957.6 1624.2,959.3 1625.2,961.0 C1626.2,962.8 1627.1,964.5 1628.1,966.2 C1629.1,968.0 1630.1,969.7 1631.1,971.5 C1632.2,973.2 1633.2,974.9 1634.2,976.6 C1635.2,978.3 1636.3,980.0 1637.4,981.7 C1638.5,983.4 1639.6,985.0 1640.7,986.7 C1641.9,988.4 1643.0,990.0 1644.2,991.6 C1645.3,993.3 1646.5,994.9 1647.7,996.5 C1648.9,998.1 1650.1,999.7 1651.3,1001.3 C1652.6,1002.8 1653.9,1004.4 1655.1,1005.9 C1656.4,1007.4 1657.8,1008.9 1659.1,1010.5 C1660.4,1012.0 1662.3,1014.2 1663.0,1015.0" fill="none" stroke="#00ff00" stroke-width="13" stroke-linejoin="round" stroke-linecap="round"/>
<path d="M1050.0,1133.0 C1051.0,1133.0 1054.0,1133.1 1056.0,1133.0 C1058.0,1132.8 1059.9,1132.6 1061.8,1132.1 C1063.7,1131.6 1065.6,1131.0 1067.4,1130.2 C1069.1,1129.4 1070.9,1128.5 1072.5,1127.5 C1074.2,1126.4 1075.8,1125.2 1077.3,1124.0 C1078.9,1122.7 1080.4,1121.4 1081.9,1120.1 C1083.4,1118.7 1084.8,1117.4 1086.3,1116.1 C1087.8,1114.7 1089.4,1113.4 1090.9,1112.2 C1092.4,1110.9 1094.0,1109.7 1095.6,1108.4 C1097.1,1107.2 1098.6,1105.9 1100.1,1104.6 C1101.6,1103.3 1103.0,1101.9 1104.3,1100.4 C1105.7,1099.0 1106.9,1097.4 1108.2,1095.9 C1109.5,1094.4 1110.7,1092.8 1111.9,1091.2 C1113.1,1089.6 1114.2,1088.0 1115.3,1086.3 C1116.3,1084.6 1117.3,1082.9 1118.2,1081.1 C1119.1,1079.3 1119.9,1077.5 1120.7,1075.7 C1121.5,1073.8 1122.2,1072.0 1122.9,1070.1 C1123.7,1068.2 1124.4,1066.4 1125.2,1064.5 C1125.9,1062.7 1126.6,1060.8 1127.3,1058.9 C1128.0,1057.0 1128.7,1055.2 1129.4,1053.3 C1130.1,1051.4 1130.8,1049.5 1131.5,1047.7 C1132.2,1045.8 1132.9,1043.9 1133.6,1042.0 C1134.3,1040.1 1135.0,1038.2 1135.7,1036.4 C1136.4,1034.5 1137.0,1032.6 1137.7,1030.7 C1138.4,1028.8 1139.1,1027.0 1139.8,1025.1 C1140.5,1023.2 1141.2,1021.3 1141.9,1019.4 C1142.6,1017.6 1143.3,1015.7 1143.9,1013.8 C1144.6,1011.9 1145.3,1010.0 1146.0,1008.1 C1146.6,1006.2 1147.3,1004.4 1147.8,1002.4 C1148.4,1000.5 1148.9,998.6 1149.4,996.7 C1149.9,994.7 1150.4,992.8 1150.8,990.8 C1151.2,988.9 1151.6,986.9 1152.0,984.9 C1152.4,983.0 1152.7,981.0 1153.1,979.0 C1153.5,977.1 1153.8,975.1 1154.2,973.1 C1154.5,971.2 1154.9,969.2 1155.2,967.2 C1155.6,965.2 1155.9,963.3 1156.3,961.3 C1156.6,959.3 1157.0,957.3 1157.3,955.4 C1157.7,953.4 1158.0,951.4 1158.3,949.5 C1158.7,947.5 1159.0,945.5 1159.3,943.5 C1159.7,941.6 1160.0,939.6 1160.3,937.6 C1160.6,935.6 1160.9,933.6 1161.2,931.7 C1161.5,929.7 1161.8,927.7 1162.1,925.7 C1162.4,923.7 1162.7,921.8 1163.0,919.8 C1163.3,917.8 1163.6,915.8 1163.9,913.8 C1164.2,911.9 1164.5,909.9 1164.8,907.9 C1165.1,905.9 1165.4,903.9 1165.7,901.9 C1166.0,900.0 1166.3,898.0 1166.6,896.0 C1166.9,894.0 1167.3,892.0 1167.6,890.1 C1167.9,888.1 1168.2,886.1 1168.5,884.1 C1168.8,882.2 1169.1,880.2 1169.4,878.2 C1169.7,876.2 1170.0,874.2 1170.4,872.3 C1170.7,870.3 1171.0,868.3 1171.3,866.3 C1171.6,864.3 1171.9,862.4 1172.2,860.4 C1172.5,858.4 1172.8,856.4 1173.2,854.5 C1173.5,852.5 1173.8,850.5 1174.1,848.5 C1174.4,846.5 1174.7,844.6 1175.0,842.6 C1175.3,840.6 1175.6,838.6 1176.0,836.6 C1176.3,834.7 1176.6,832.7 1176.9,830.7 C1177.2,828.7 1177.6,826.8 1177.9,824.8 C1178.2,822.8 1178.5,820.8 1178.9,818.8 C1179.2,816.9 1179.5,814.9 1179.8,812.9 C1180.2,810.9 1180.5,809.0 1180.8,807.0 C1181.1,805.0 1181.5,803.0 1181.8,801.1 C1182.1,799.1 1182.4,797.1 1182.7,795.1 C1182.9,793.1 1183.2,791.1 1183.5,789.2 C1183.8,787.2 1184.1,785.2 1184.3,783.2 C1184.6,781.2 1184.9,779.2 1185.2,777.3 C1185.5,775.3 1185.7,773.3 1186.0,771.3 C1186.3,769.3 1186.6,767.3 1186.8,765.4 C1187.1,763.4 1187.4,761.4 1187.7,759.4 C1188.0,757.4 1188.2,755.4 1188.5,753.5 C1188.8,751.5 1189.1,749.5 1189.3,747.5 C1189.6,745.5 1189.9,743.5 1190.2,741.6 C1190.4,739.6 1190.7,737.6 1191.0,735.6 C1191.3,733.6 1191.5,731.6 1191.8,729.6 C1192.1,727.7 1192.3,725.7 1192.6,723.7 C1192.9,721.7 1193.2,719.7 1193.4,717.7 C1193.7,715.8 1194.0,713.8 1194.3,711.8 C1194.5,709.8 1194.8,707.8 1195.1,705.8 C1195.3,703.8 1195.6,701.9 1195.9,699.9 C1196.2,697.9 1196.4,695.9 1196.7,693.9 C1197.0,691.9 1197.3,690.0 1197.5,688.0 C1197.8,686.0 1198.1,684.0 1198.3,682.0 C1198.6,680.0 1198.9,678.0 1199.1,676.1 C1199.4,674.1 1199.7,672.1 1199.9,670.1 C1200.2,668.1 1200.4,666.1 1200.7,664.1 C1200.9,662.1 1201.1,660.2 1201.3,658.2 C1201.6,656.2 1201.8,654.2 1202.0,652.2 C1202.3,650.2 1202.5,648.2 1202.7,646.2 C1202.9,644.2 1203.2,642.2 1203.4,640.3 C1203.6,638.3 1203.9,636.3 1204.1,634.3 C1204.3,632.3 1204.5,630.3 1204.8,628.3 C1205.0,626.3 1205.2,624.3 1205.4,622.3 C1205.7,620.4 1205.9,618.4 1206.1,616.4 C1206.4,614.4 1206.6,612.4 1206.8,610.4 C1207.0,608.4 1207.2,606.4 1207.5,604.4 C1207.7,602.4 1207.9,600.4 1208.0,598.4 C1208.2,596.5 1208.4,594.5 1208.5,592.5 C1208.7,590.5 1208.9,588.5 1209.0,586.5 C1209.2,584.5 1209.3,582.5 1209.5,580.5 C1209.6,578.5 1209.8,576.5 1209.9,574.5 C1210.1,572.5 1210.2,570.5 1210.4,568.5 C1210.6,566.5 1210.7,564.5 1211.0,562.5 C1211.2,560.5 1211.4,558.5 1211.7,556.6 C1211.9,554.6 1212.2,552.6 1212.5,550.6 C1212.9,548.6 1213.2,546.7 1213.5,544.7 C1213.8,542.7 1214.1,540.7 1214.5,538.7 C1214.8,536.8 1215.1,534.8 1215.4,532.8 C1215.7,530.8 1216.1,528.9 1216.4,526.9 C1216.7,524.9 1217.0,522.9 1217.3,521.0 C1217.7,519.0 1218.0,517.0 1218.3,515.0 C1218.6,513.0 1219.0,511.1 1219.3,509.1 C1219.6,507.1 1219.9,505.1 1220.2,503.2 C1220.6,501.2 1220.9,499.2 1221.2,497.2 C1221.5,495.3 1221.8,493.3 1222.2,491.3 C1222.5,489.3 1222.8,487.3 1223.1,485.4 C1223.4,483.4 1223.7,481.4 1224.0,479.4 C1224.3,477.4 1224.5,475.4 1224.8,473.5 C1225.1,471.5 1225.3,469.5 1225.6,467.5 C1225.8,465.5 1226.1,463.5 1226.3,461.5 C1226.6,459.6 1226.8,457.6 1227.1,455.6 C1227.3,453.6 1227.5,451.6 1227.8,449.6 C1228.0,447.6 1228.3,445.6 1228.5,443.7 C1228.8,441.7 1229.0,439.7 1229.3,437.7 C1229.5,435.7 1229.8,433.7 1230.0,431.7 C1230.3,429.7 1230.5,427.7 1230.8,425.8 C1231.0,423.8 1231.3,421.8 1231.5,419.8 C1231.8,417.8 1232.0,415.8 1232.3,413.8 C1232.5,411.8 1232.8,409.9 1233.0,407.9 C1233.3,405.9 1233.5,403.9 1233.8,401.9 C1234.1,399.9 1234.4,398.0 1234.7,396.0 C1235.0,394.0 1235.3,392.0 1235.6,390.0 C1235.9,388.0 1236.2,386.1 1236.5,384.1 C1236.8,382.1 1237.1,380.1 1237.4,378.2 C1237.7,376.2 1238.1,374.2 1238.4,372.2 C1238.7,370.2 1239.0,368.3 1239.3,366.3 C1239.6,364.3 1239.9,362.3 1240.2,360.3 C1240.5,358.4 1240.9,356.4 1241.2,354.4 C1241.5,352.4 1241.8,350.5 1242.1,348.5 C1242.4,346.5 1242.7,344.5 1243.0,342.5 C1243.3,340.6 1243.6,338.6 1243.9,336.6 C1244.2,334.6 1244.5,332.6 1244.8,330.7 C1245.1,328.7 1245.4,326.7 1245.6,324.7 C1245.9,322.7 1246.1,320.7 1246.4,318.7 C1246.7,316.8 1246.9,314.8 1247.2,312.8 C1247.4,310.8 1247.6,308.8 1247.9,306.8 C1248.2,304.8 1248.4,302.8 1248.7,300.9 C1248.9,298.9 1249.2,296.9 1249.5,294.9 C1249.8,292.9 1250.1,290.9 1250.5,289.0 C1250.8,287.0 1251.2,285.0 1251.6,283.1 C1252.0,281.1 1252.5,279.2 1252.9,277.2 C1253.3,275.3 1253.8,273.3 1254.2,271.4 C1254.6,269.4 1255.1,267.4 1255.5,265.5 C1256.0,263.5 1256.4,261.6 1256.8,259.6 C1257.3,257.7 1257.7,255.7 1258.2,253.8 C1258.7,251.8 1259.1,249.9 1259.6,247.9 C1260.1,246.0 1260.6,244.1 1261.1,242.1 C1261.6,240.2 1262.1,238.2 1262.5,236.3 C1263.0,234.3 1263.4,232.4 1263.9,230.4 C1264.3,228.5 1264.7,226.5 1265.1,224.5 C1265.5,222.6 1266.0,220.6 1266.4,218.7 C1266.9,216.7 1267.4,214.8 1267.9,212.9 C1268.5,211.0 1269.1,209.1 1269.7,207.1 C1270.3,205.2 1271.0,203.3 1271.6,201.5 C1272.3,199.6 1273.0,197.7 1273.8,195.9 C1274.5,194.0 1275.3,192.2 1276.1,190.3 C1276.9,188.5 1277.7,186.7 1278.5,184.8 C1279.4,183.0 1280.2,181.2 1281.1,179.4 C1282.0,177.6 1282.9,175.8 1283.9,174.1 C1284.8,172.3 1285.8,170.6 1286.9,168.9 C1287.9,167.2 1289.0,165.5 1290.1,163.9 C1291.2,162.2 1292.4,160.6 1293.7,159.1 C1294.9,157.7 1296.3,156.2 1297.7,155.1 C1299.2,154.0 1300.8,152.9 1302.4,152.4 C1304.0,151.9 1305.7,151.7 1307.3,152.0 C1308.9,152.2 1310.5,153.0 1312.1,153.9 C1313.6,154.8 1315.1,156.2 1316.5,157.5 C1318.0,158.7 1319.4,160.2 1320.8,161.6 C1322.2,163.0 1323.7,164.3 1325.1,165.7 C1326.6,167.1 1328.0,168.4 1329.5,169.8 C1330.9,171.2 1332.4,172.6 1333.8,174.0 C1335.1,175.5 1336.5,176.9 1337.8,178.5 C1339.1,180.0 1340.3,181.5 1341.5,183.1 C1342.7,184.7 1343.9,186.4 1345.0,188.0 C1346.2,189.7 1347.2,191.3 1348.3,193.0 C1349.4,194.7 1350.4,196.4 1351.5,198.1 C1352.5,199.8 1353.5,201.6 1354.6,203.3 C1355.6,205.0 1356.7,206.7 1357.8,208.4 C1358.8,210.1 1359.9,211.7 1361.0,213.4 C1362.1,215.1 1363.2,216.8 1364.3,218.4 C1365.5,220.1 1366.6,221.7 1367.7,223.4 C1368.7,225.1 1369.8,226.8 1370.8,228.5 C1371.8,230.2 1372.8,232.0 1373.7,233.8 C1374.6,235.6 1375.4,237.4 1376.3,239.2 C1377.2,241.0 1378.0,242.8 1378.8,244.6 C1379.7,246.4 1380.6,248.2 1381.5,250.0 C1382.4,251.7 1383.4,253.5 1384.4,255.2 C1385.4,257.0 1386.4,258.7 1387.4,260.4 C1388.4,262.2 1389.4,263.9 1390.4,265.6 C1391.4,267.4 1392.4,269.1 1393.4,270.8 C1394.4,272.6 1395.4,274.3 1396.3,276.1 C1397.3,277.8 1398.3,279.6 1399.2,281.4 C1400.2,283.1 1401.1,284.9 1402.0,286.7 C1403.0,288.4 1403.9,290.2 1404.7,292.0 C1405.6,293.8 1406.5,295.6 1407.3,297.4 C1408.2,299.3 1409.0,301.1 1409.8,302.9 C1410.6,304.8 1411.4,306.6 1412.2,308.4 C1413.0,310.3 1413.8,312.1 1414.5,314.0 C1415.3,315.8 1416.1,317.7 1416.8,319.5 C1417.6,321.4 1418.3,323.2 1419.1,325.1 C1419.9,326.9 1420.8,328.7 1421.6,330.5 C1422.5,332.3 1423.4,334.1 1424.3,335.9 C1425.2,337.7 1426.2,339.4 1427.2,341.2 C1428.1,342.9 1429.1,344.7 1430.1,346.4 C1431.1,348.2 1432.1,349.9 1433.1,351.6 C1434.1,353.4 1435.1,355.1 1436.1,356.8 C1437.1,358.5 1438.1,360.3 1439.1,362.0 C1440.1,363.7 1441.1,365.5 1441.9,367.3 C1442.8,369.1 1443.6,370.9 1444.3,372.7 C1445.1,374.6 1445.7,376.5 1446.3,378.4 C1446.9,380.3 1447.5,382.2 1448.0,384.1 C1448.6,386.0 1449.1,388.0 1449.7,389.9 C1450.3,391.8 1450.8,393.7 1451.4,395.7 C1451.9,397.6 1452.5,399.5 1453.0,401.4 C1453.6,403.4 1454.2,405.3 1454.7,407.2 C1455.3,409.1 1455.8,411.1 1456.4,413.0 C1457.0,414.9 1457.5,416.8 1458.1,418.7 C1458.6,420.7 1459.2,422.6 1459.8,424.5 C1460.3,426.4 1460.9,428.4 1461.5,430.3 C1462.0,432.2 1462.6,434.1 1463.1,436.0 C1463.7,438.0 1464.3,439.9 1464.8,441.8 C1465.4,443.7 1466.0,445.7 1466.5,447.6 C1467.1,449.5 1467.6,451.4 1468.2,453.4 C1468.8,455.3 1469.3,457.2 1469.9,459.1 C1470.5,461.0 1471.0,463.0 1471.6,464.9 C1472.1,466.8 1472.7,468.7 1473.3,470.7 C1473.9,472.6 1474.4,474.5 1475.0,476.4 C1475.6,478.3 1476.2,480.2 1476.8,482.1 C1477.5,484.0 1478.1,485.9 1478.8,487.8 C1479.4,489.7 1480.1,491.6 1480.7,493.5 C1481.4,495.4 1482.0,497.3 1482.7,499.2 C1483.4,501.1 1484.0,503.0 1484.7,504.8 C1485.4,506.7 1486.0,508.6 1486.7,510.5 C1487.3,512.4 1488.0,514.3 1488.7,516.2 C1489.3,518.1 1490.0,520.0 1490.7,521.9 C1491.3,523.7 1492.0,525.6 1492.6,527.5 C1493.3,529.4 1494.0,531.3 1494.6,533.2 C1495.3,535.1 1495.9,537.0 1496.6,538.9 C1497.3,540.8 1497.9,542.7 1498.6,544.5 C1499.2,546.4 1499.9,548.3 1500.6,550.2 C1501.2,552.1 1501.8,554.0 1502.4,555.9 C1503.0,557.8 1503.6,559.8 1504.1,561.7 C1504.7,563.6 1505.2,565.6 1505.6,567.5 C1506.1,569.4 1506.5,571.4 1507.0,573.3 C1507.4,575.3 1507.9,577.3 1508.3,579.2 C1508.8,581.2 1509.2,583.1 1509.6,585.1 C1510.1,587.0 1510.5,589.0 1511.0,590.9 C1511.4,592.9 1511.9,594.8 1512.3,596.8 C1512.8,598.7 1513.3,600.7 1513.8,602.6 C1514.3,604.5 1514.8,606.5 1515.3,608.4 C1515.9,610.4 1516.4,612.3 1516.9,614.2 C1517.4,616.1 1518.0,618.1 1518.5,620.0 C1519.0,621.9 1519.6,623.9 1520.1,625.8 C1520.6,627.7 1521.2,629.7 1521.7,631.6 C1522.2,633.5 1522.7,635.5 1523.2,637.4 C1523.6,639.4 1524.1,641.3 1524.5,643.3 C1525.0,645.2 1525.4,647.2 1525.8,649.1 C1526.2,651.1 1526.6,653.1 1527.0,655.0 C1527.4,657.0 1527.8,659.0 1528.2,660.9 C1528.6,662.9 1529.1,664.8 1529.5,666.8 C1530.0,668.7 1530.5,670.7 1531.0,672.6 C1531.5,674.5 1532.1,676.4 1532.7,678.3 C1533.3,680.3 1533.9,682.2 1534.5,684.1 C1535.1,686.0 1535.7,687.9 1536.3,689.8 C1536.9,691.7 1537.5,693.6 1538.0,695.6 C1538.6,697.5 1539.2,699.4 1539.8,701.3 C1540.3,703.2 1540.9,705.2 1541.4,707.1 C1541.9,709.0 1542.5,711.0 1543.0,712.9 C1543.5,714.8 1544.0,716.8 1544.5,718.7 C1545.1,720.6 1545.6,722.6 1546.1,724.5 C1546.6,726.4 1547.2,728.4 1547.7,730.3 C1548.2,732.2 1548.7,734.2 1549.2,736.1 C1549.8,738.0 1550.3,740.0 1550.8,741.9 C1551.3,743.8 1551.8,745.8 1552.4,747.7 C1552.9,749.6 1553.4,751.6 1553.9,753.5 C1554.4,755.5 1554.9,757.4 1555.4,759.3 C1555.9,761.3 1556.4,763.2 1556.9,765.1 C1557.4,767.1 1557.9,769.0 1558.5,771.0 C1559.0,772.9 1559.5,774.8 1560.0,776.8 C1560.5,778.7 1561.0,780.7 1561.5,782.6 C1562.0,784.5 1562.5,786.5 1563.0,788.4 C1563.5,790.3 1564.0,792.3 1564.6,794.2 C1565.1,796.1 1565.7,798.0 1566.3,799.9 C1567.0,801.8 1567.6,803.7 1568.3,805.6 C1569.0,807.5 1569.8,809.3 1570.5,811.2 C1571.2,813.1 1572.0,814.9 1572.7,816.8 C1573.5,818.6 1574.2,820.5 1574.9,822.4 C1575.7,824.2 1576.4,826.1 1577.1,828.0 C1577.8,829.8 1578.5,831.7 1579.2,833.6 C1579.9,835.5 1580.6,837.4 1581.2,839.3 C1581.9,841.1 1582.6,843.0 1583.2,844.9 C1583.9,846.8 1584.5,848.7 1585.2,850.6 C1585.9,852.5 1586.5,854.4 1587.2,856.3 C1587.9,858.2 1588.5,860.0 1589.2,861.9 C1589.8,863.8 1590.5,865.7 1591.1,867.6 C1591.8,869.5 1592.4,871.4 1593.0,873.3 C1593.6,875.2 1594.2,877.1 1594.9,879.0 C1595.5,881.0 1596.1,882.9 1596.7,884.8 C1597.3,886.7 1597.9,888.6 1598.5,890.5 C1599.1,892.4 1599.8,894.3 1600.4,896.2 C1601.1,898.1 1601.8,899.9 1602.6,901.8 C1603.3,903.7 1604.1,905.5 1604.9,907.3 C1605.7,909.2 1606.5,911.0 1607.3,912.8 C1608.2,914.6 1609.0,916.4 1609.9,918.3 C1610.7,920.1 1611.6,921.9 1612.4,923.7 C1613.2,925.5 1614.1,927.3 1614.9,929.2 C1615.8,931.0 1616.7,932.8 1617.5,934.6 C1618.4,936.4 1619.3,938.2 1620.2,940.0 C1621.1,941.7 1622.0,943.5 1623.0,945.3 C1623.9,947.1 1624.9,948.8 1625.8,950.6 C1626.8,952.3 1627.7,954.1 1628.7,955.8 C1629.7,957.6 1630.6,959.4 1631.6,961.1 C1632.6,962.9 1633.5,964.6 1634.5,966.4 C1635.5,968.1 1636.4,969.9 1637.4,971.6 C1638.4,973.4 1639.3,975.2 1640.3,976.9 C1641.2,978.7 1642.2,980.4 1643.1,982.2 C1644.1,984.0 1645.0,985.7 1645.9,987.5 C1646.9,989.3 1647.8,991.0 1648.8,992.8 C1649.8,994.5 1650.8,996.2 1651.9,997.9 C1653.0,999.6 1654.1,1001.2 1655.3,1002.8 C1656.5,1004.4 1657.8,1005.9 1659.0,1007.5 C1660.3,1009.0 1662.3,1011.2 1663.0,1012.0" fill="none" stroke="#ff00ff" stroke-width="13" stroke-linejoin="round" stroke-linecap="round"/>
</g>
<g id="abs">
<path d="M304.0,226.0 C304.1,225.2 304.6,221.9 304.7,221.1 M308.4,198.0 C308.5,197.3 308.9,194.9 309.2,193.4 C309.5,191.9 309.8,190.3 310.0,188.8 C310.3,187.2 310.6,185.7 310.9,184.1 C311.2,182.6 311.5,181.0 311.8,179.5 C312.2,178.0 312.4,176.4 313.0,174.9 C313.5,173.5 314.0,171.2 314.9,170.8 C315.8,170.4 317.8,172.1 318.4,172.4 M323.0,195.1 C323.1,195.9 323.3,198.2 323.5,199.8 C323.6,201.3 323.8,202.9 323.9,204.5 C324.0,206.0 324.1,207.6 324.2,209.2 C324.3,210.7 324.3,212.3 324.3,213.9 C324.4,215.4 324.5,217.0 324.6,218.6 C324.6,220.1 324.7,221.7 324.7,223.3 C324.8,224.9 324.9,227.2 324.9,228.0 M325.6,251.3 C325.6,252.1 325.7,254.4 325.7,256.0 C325.7,257.6 325.8,259.1 325.8,260.7 C325.9,262.3 325.9,263.9 326.0,265.4 C326.0,267.0 326.1,268.6 326.2,270.1 C326.3,271.7 326.4,273.3 326.5,274.8 C326.6,276.4 326.7,278.0 326.8,279.5 C326.9,281.1 327.0,283.5 327.1,284.2 M329.0,307.5 C329.0,308.2 329.3,310.6 329.4,312.2 C329.6,313.7 329.7,315.3 329.9,316.8 C330.1,318.4 330.2,320.0 330.4,321.5 C330.5,323.1 330.7,324.7 330.8,326.2 C331.0,327.8 331.1,329.4 331.2,330.9 C331.3,332.5 331.4,334.1 331.6,335.6 C331.7,337.2 331.9,339.5 332.0,340.3 M333.7,363.6 C333.8,364.3 334.0,366.7 334.1,368.2 C334.2,369.8 334.3,371.4 334.5,373.0 C334.6,374.5 334.7,376.1 334.8,377.6 C335.0,379.2 335.1,380.8 335.2,382.4 C335.3,383.9 335.4,385.5 335.5,387.1 C335.6,388.6 335.7,390.2 335.8,391.8 C335.9,393.3 336.1,395.7 336.1,396.5 M337.3,419.7 C337.4,420.5 337.4,422.9 337.5,424.4 C337.6,426.0 337.7,427.6 337.7,429.1 C337.8,430.7 337.8,432.3 337.9,433.9 C338.0,435.4 338.1,437.0 338.2,438.6 C338.3,440.1 338.5,441.7 338.6,443.2 C338.8,444.8 339.0,446.4 339.1,447.9 C339.3,449.5 339.5,451.8 339.6,452.6 M342.0,475.8 C342.1,476.6 342.4,478.9 342.6,480.5 C342.8,482.0 342.9,483.6 343.1,485.2 C343.2,486.7 343.4,488.3 343.5,489.9 C343.7,491.4 343.9,493.0 344.1,494.5 C344.3,496.1 344.5,497.7 344.7,499.2 C344.9,500.8 345.1,502.3 345.3,503.9 C345.5,505.5 345.7,507.8 345.8,508.6 M349.9,531.5 C350.3,532.0 351.5,534.5 352.4,534.3 C353.3,534.2 354.5,532.0 355.3,530.7 C356.1,529.4 356.6,527.8 357.3,526.4 C357.9,525.0 358.5,523.5 359.1,522.0 C359.7,520.6 360.3,519.2 360.9,517.7 C361.5,516.3 362.1,514.8 362.7,513.3 C363.3,511.9 364.1,509.7 364.4,509.0 M374.4,483.5 C374.7,482.8 375.5,480.6 376.0,479.1 C376.5,477.6 377.1,476.1 377.6,474.7 C378.1,473.2 378.7,471.7 379.2,470.2 C379.7,468.7 380.2,467.3 380.7,465.8 C381.2,464.3 381.5,462.7 382.0,461.2 C382.4,459.7 382.8,458.2 383.1,456.7 C383.5,455.1 384.1,452.9 384.3,452.1 M389.8,429.5 C390.0,428.7 390.5,426.4 390.8,424.8 C391.1,423.3 391.5,421.8 391.8,420.2 C392.1,418.7 392.4,417.2 392.8,415.6 C393.1,414.1 393.5,412.6 393.8,411.0 C394.2,409.5 394.6,408.0 395.0,406.5 C395.4,405.0 395.8,403.4 396.2,401.9 C396.7,400.4 397.3,398.1 397.5,397.4 M403.7,374.9 C403.9,374.2 404.6,371.9 405.0,370.4 C405.4,368.9 405.7,367.3 406.1,365.8 C406.5,364.3 407.0,362.8 407.4,361.3 C407.8,359.8 408.1,358.2 408.5,356.7 C408.8,355.2 409.2,353.6 409.5,352.1 C409.8,350.5 410.1,349.0 410.4,347.5 C410.8,345.9 411.3,343.6 411.5,342.9 M416.4,320.1 C416.6,319.3 417.1,317.0 417.4,315.5 C417.8,314.0 418.2,312.4 418.5,310.9 C418.8,309.4 419.1,307.8 419.5,306.3 C419.8,304.8 420.1,303.2 420.4,301.7 C420.7,300.1 420.9,298.6 421.2,297.0 C421.5,295.5 421.8,293.9 422.0,292.4 C422.3,290.8 422.7,288.5 422.8,287.7 M425.7,271.4 C425.8,270.6 426.2,268.3 426.5,266.7 C426.8,265.2 427.0,263.6 427.3,262.1 C427.6,260.6 427.8,259.0 428.1,257.5 C428.4,255.9 428.7,254.4 429.0,252.8 C429.2,251.3 429.5,249.8 429.8,248.2 C430.0,246.7 430.3,245.1 430.6,243.6 C430.9,242.0 431.3,239.7 431.4,238.9 M435.6,216.0 C435.7,215.3 436.1,212.9 436.4,211.4 C436.7,209.8 436.9,208.3 437.2,206.7 C437.5,205.2 437.8,203.6 438.0,202.1 C438.3,200.6 438.6,199.0 438.9,197.5 C439.2,195.9 439.4,194.4 439.8,192.8 C440.1,191.3 440.4,189.8 440.8,188.2 C441.2,186.7 441.9,184.5 442.1,183.7 M449.6,161.7 C449.9,161.0 450.8,158.8 451.6,157.4 C452.4,156.1 453.3,154.8 454.3,153.6 C455.3,152.3 456.3,151.1 457.5,150.1 C458.6,149.1 460.0,148.1 461.4,147.6 C462.9,147.2 464.6,147.0 466.1,147.3 C467.6,147.5 469.0,148.3 470.4,149.1 C471.8,149.9 473.6,151.4 474.2,151.8 M494.7,169.1 C495.5,168.8 497.7,168.1 499.1,167.5 C500.6,166.8 501.9,165.9 503.2,165.1 C504.6,164.3 505.9,163.4 507.2,162.6 C508.5,161.8 509.9,160.9 511.2,160.1 C512.6,159.3 513.9,158.4 515.2,157.6 C516.6,156.8 517.9,155.9 519.2,155.2 C520.6,154.4 522.8,153.4 523.5,153.1 M536.6,180.7 C536.7,181.5 536.9,183.8 537.0,185.4 C537.1,186.9 537.2,188.5 537.4,190.1 C537.5,191.6 537.6,193.2 537.8,194.8 C538.0,196.3 538.2,197.9 538.5,199.4 C538.7,201.0 539.0,202.5 539.3,204.1 C539.5,205.6 539.8,207.2 540.1,208.7 C540.4,210.3 540.8,212.6 540.9,213.4 M545.3,236.3 C545.4,237.0 545.9,239.3 546.2,240.9 C546.4,242.4 546.7,244.0 547.0,245.5 C547.2,247.1 547.4,248.6 547.6,250.2 C547.8,251.8 548.0,253.3 548.1,254.9 C548.3,256.4 548.5,258.0 548.7,259.6 C548.9,261.1 549.0,262.7 549.2,264.3 C549.4,265.8 549.6,268.2 549.7,268.9 M552.2,292.1 C552.2,292.9 552.5,295.2 552.6,296.8 C552.8,298.4 552.9,299.9 553.1,301.5 C553.3,303.1 553.4,304.6 553.6,306.2 C553.7,307.7 553.9,309.3 554.0,310.9 C554.2,312.4 554.3,314.0 554.5,315.6 C554.7,317.1 554.8,318.7 555.0,320.3 C555.1,321.8 555.4,324.2 555.5,324.9 M558.0,348.1 C558.1,348.9 558.3,351.2 558.4,352.8 C558.6,354.4 558.8,355.9 559.0,357.5 C559.2,359.0 559.3,360.6 559.5,362.2 C559.6,363.7 559.8,365.3 560.0,366.9 C560.1,368.4 560.3,370.0 560.4,371.5 C560.6,373.1 560.7,374.7 560.8,376.2 C561.0,377.8 561.2,380.2 561.3,380.9 M563.4,404.1 C563.5,404.9 563.6,407.3 563.8,408.8 C563.9,410.4 564.1,412.0 564.2,413.5 C564.4,415.1 564.5,416.7 564.7,418.2 C564.8,419.8 564.9,421.3 565.0,422.9 C565.1,424.5 565.2,426.1 565.3,427.6 C565.4,429.2 565.5,430.8 565.6,432.3 C565.6,433.9 565.8,436.3 565.8,437.0 M567.3,466.1 C567.4,466.9 567.5,469.2 567.6,470.8 C567.7,472.4 567.8,473.9 567.9,475.5 C568.0,477.1 568.1,478.6 568.2,480.2 C568.2,481.8 568.3,483.4 568.4,484.9 C568.5,486.5 568.5,488.1 568.6,489.6 C568.7,491.2 568.8,492.8 568.9,494.3 C568.9,495.9 569.1,498.3 569.1,499.1 M570.3,522.3 C570.3,523.1 570.4,525.5 570.5,527.0 C570.6,528.6 570.7,530.2 570.8,531.7 C570.9,533.3 571.0,534.9 571.1,536.4 C571.2,538.0 571.3,539.6 571.4,541.1 C571.5,542.7 571.6,544.3 571.7,545.8 C571.8,547.4 571.9,549.0 572.0,550.5 C572.1,552.1 572.3,554.5 572.4,555.2 M574.0,578.5 C574.1,579.3 574.2,581.6 574.4,583.2 C574.5,584.8 574.6,586.3 574.7,587.9 C574.8,589.5 574.9,591.0 575.1,592.6 C575.2,594.2 575.3,595.7 575.4,597.3 C575.6,598.9 575.7,600.4 575.9,602.0 C576.0,603.5 576.1,605.1 576.3,606.7 C576.4,608.2 576.6,610.6 576.6,611.4 M578.7,634.6 C578.7,635.4 578.9,637.7 579.1,639.3 C579.2,640.8 579.4,642.4 579.5,644.0 C579.6,645.5 579.7,647.1 579.9,648.7 C580.0,650.2 580.2,651.8 580.3,653.4 C580.5,654.9 580.6,656.5 580.7,658.1 C580.9,659.6 581.0,661.2 581.1,662.8 C581.3,664.3 581.5,666.7 581.6,667.5 M583.6,690.7 C583.6,691.4 583.8,693.8 584.0,695.4 C584.1,696.9 584.3,698.5 584.4,700.1 C584.6,701.6 584.7,703.2 584.8,704.8 C584.9,706.3 585.0,707.9 585.1,709.5 C585.2,711.0 585.3,712.6 585.4,714.2 C585.4,715.7 585.5,717.3 585.6,718.9 C585.7,720.4 585.9,722.8 585.9,723.6 M587.2,746.8 C587.2,747.6 587.4,750.0 587.4,751.5 C587.5,753.1 587.6,754.7 587.7,756.3 C587.8,757.8 587.8,759.4 587.9,761.0 C588.0,762.5 588.1,764.1 588.2,765.7 C588.4,767.2 588.5,768.8 588.6,770.4 C588.7,771.9 588.8,773.5 588.9,775.1 C589.0,776.6 589.2,779.0 589.2,779.8 M590.9,803.0 C591.0,803.8 591.1,806.1 591.2,807.7 C591.3,809.3 591.5,810.8 591.6,812.4 C591.7,814.0 591.7,815.5 591.8,817.1 C591.9,818.7 592.1,820.3 592.2,821.8 C592.2,823.4 592.3,825.0 592.4,826.5 C592.5,828.1 592.5,829.7 592.6,831.2 C592.7,832.8 592.8,835.2 592.9,835.9 M594.1,859.2 C594.2,860.0 594.3,862.3 594.4,863.9 C594.4,865.5 594.5,867.1 594.6,868.6 C594.7,870.2 594.8,871.8 594.9,873.3 C595.0,874.9 595.1,876.5 595.2,878.0 C595.3,879.6 595.5,881.2 595.6,882.7 C595.7,884.3 595.9,885.9 596.1,887.4 C596.2,889.0 596.4,891.3 596.5,892.1 M598.6,915.3 C598.7,916.1 598.9,918.4 599.0,920.0 C599.2,921.6 599.3,923.1 599.4,924.7 C599.6,926.3 599.7,927.8 599.9,929.4 C600.0,931.0 600.2,932.5 600.3,934.1 C600.5,935.7 600.7,937.2 600.8,938.8 C601.0,940.3 601.1,941.9 601.3,943.5 C601.5,945.0 601.7,947.4 601.8,948.2 M604.2,971.3 C604.3,972.1 604.5,974.5 604.7,976.0 C604.8,977.6 605.0,979.2 605.1,980.7 C605.3,982.3 605.4,983.8 605.6,985.4 C605.8,987.0 606.0,988.5 606.3,990.1 C606.5,991.6 606.7,993.2 607.0,994.7 C607.2,996.3 607.4,997.8 607.7,999.4 C607.9,1000.9 608.3,1003.3 608.5,1004.0 M612.2,1027.0 C612.4,1027.8 612.7,1030.1 613.0,1031.7 C613.2,1033.2 613.5,1034.8 613.8,1036.3 C614.0,1037.9 614.3,1039.4 614.6,1041.0 C614.9,1042.5 615.2,1044.1 615.6,1045.6 C616.0,1047.1 616.5,1048.6 616.9,1050.1 C617.3,1051.6 617.8,1053.1 618.2,1054.6 C618.7,1056.1 619.4,1058.4 619.6,1059.1 M626.6,1081.4 C626.8,1082.1 627.5,1084.4 628.0,1085.9 C628.5,1087.4 629.0,1088.8 629.6,1090.3 C630.2,1091.8 630.8,1093.2 631.4,1094.6 C632.1,1096.1 632.8,1097.5 633.5,1098.9 C634.2,1100.3 634.8,1101.7 635.5,1103.1 C636.2,1104.5 637.0,1105.9 637.8,1107.3 C638.6,1108.6 639.9,1110.6 640.3,1111.2 M656.7,1127.4 C657.4,1127.7 659.4,1128.9 660.9,1129.5 C662.4,1130.1 663.9,1130.5 665.4,1130.9 C666.9,1131.2 668.5,1131.5 670.0,1131.8 C671.6,1132.1 673.1,1132.4 674.7,1132.6 C676.2,1132.8 677.8,1133.0 679.3,1133.1 C680.9,1133.2 682.5,1133.2 684.1,1133.3 C685.6,1133.4 688.0,1133.5 688.8,1133.5 M712.1,1134.2 C712.8,1134.2 715.2,1134.3 716.8,1134.3 C718.3,1134.3 719.9,1134.3 721.5,1134.3 C723.0,1134.4 724.6,1134.4 726.2,1134.4 C727.8,1134.4 729.3,1134.5 730.9,1134.5 C732.5,1134.5 734.0,1134.5 735.6,1134.5 C737.2,1134.5 738.8,1134.5 740.3,1134.5 C741.9,1134.5 744.3,1134.5 745.0,1134.5" fill="none" stroke="#880088" stroke-width="12" stroke-linejoin="round" stroke-linecap="butt"/>
<path d="M304.0,258.0 C304.2,257.3 304.9,255.2 305.4,253.9 C305.8,252.5 306.3,251.1 306.7,249.7 C307.2,248.4 307.6,247.0 308.1,245.6 C308.6,244.3 309.0,242.9 309.5,241.5 C309.9,240.1 310.4,238.8 310.9,237.4 C311.3,236.0 311.7,234.6 312.1,233.2 C312.5,231.8 313.0,229.7 313.2,229.0 M321.3,208.3 C321.8,208.9 323.5,210.5 324.4,211.8 C325.3,213.1 326.0,214.5 326.6,215.9 C327.3,217.3 327.9,218.8 328.5,220.3 C329.0,221.7 329.6,223.2 330.1,224.7 C330.6,226.2 331.0,227.7 331.4,229.2 C331.9,230.7 332.4,232.2 332.8,233.7 C333.2,235.3 333.7,237.6 333.9,238.3 M337.0,261.4 C337.1,262.2 337.3,264.5 337.4,266.1 C337.5,267.7 337.6,269.2 337.7,270.8 C337.8,272.4 337.9,273.9 338.0,275.5 C338.1,277.1 338.2,278.6 338.3,280.2 C338.4,281.8 338.6,283.3 338.7,284.9 C338.8,286.5 339.0,288.0 339.1,289.6 C339.3,291.2 339.5,293.5 339.5,294.3 M341.6,317.5 C341.7,318.3 342.0,320.6 342.1,322.2 C342.2,323.7 342.4,325.3 342.5,326.9 C342.6,328.4 342.7,330.0 342.8,331.6 C343.0,333.1 343.2,334.7 343.3,336.3 C343.5,337.8 343.6,339.4 343.8,341.0 C344.0,342.5 344.1,344.1 344.3,345.7 C344.4,347.2 344.7,349.6 344.8,350.3 M346.8,373.5 C346.9,374.3 347.0,376.7 347.1,378.2 C347.2,379.8 347.4,381.4 347.5,382.9 C347.6,384.5 347.8,386.1 347.9,387.6 C348.0,389.2 348.1,390.8 348.2,392.3 C348.4,393.9 348.6,395.5 348.7,397.0 C348.9,398.6 349.1,400.2 349.3,401.7 C349.4,403.3 349.7,405.6 349.8,406.4 M351.8,429.6 C351.9,430.4 352.1,432.7 352.2,434.3 C352.3,435.9 352.4,437.4 352.5,439.0 C352.6,440.6 352.8,442.1 352.9,443.7 C353.0,445.3 353.1,446.8 353.3,448.4 C353.4,450.0 353.6,451.5 353.7,453.1 C353.9,454.7 354.1,456.2 354.2,457.8 C354.4,459.3 354.7,461.7 354.8,462.5 M357.1,485.6 C357.2,486.4 357.4,488.8 357.5,490.3 C357.7,491.9 357.8,493.5 357.9,495.0 C358.1,496.6 358.3,498.2 358.5,499.7 C358.8,501.3 359.1,502.8 359.5,504.3 C359.9,505.8 360.3,507.4 360.9,508.8 C361.4,510.3 362.0,511.8 362.8,513.1 C363.7,514.4 365.4,516.1 365.9,516.7 M381.2,509.3 C381.6,508.6 383.0,506.7 383.8,505.3 C384.6,504.0 385.4,502.6 386.2,501.3 C386.9,499.9 387.6,498.5 388.3,497.0 C389.0,495.6 389.6,494.2 390.2,492.7 C390.8,491.3 391.3,489.8 391.9,488.3 C392.4,486.9 392.9,485.4 393.5,483.9 C394.0,482.4 394.8,480.2 395.0,479.5 M401.4,457.0 C401.6,456.3 402.3,454.0 402.7,452.5 C403.2,451.0 403.6,449.5 404.0,448.0 C404.4,446.5 404.9,445.0 405.3,443.4 C405.7,441.9 406.1,440.4 406.4,438.9 C406.8,437.3 407.1,435.8 407.5,434.3 C407.8,432.7 408.2,431.2 408.5,429.7 C408.9,428.2 409.4,425.9 409.6,425.1 M414.1,402.2 C414.2,401.5 414.6,399.1 414.9,397.6 C415.2,396.0 415.5,394.5 415.8,393.0 C416.0,391.4 416.3,389.9 416.5,388.3 C416.8,386.8 417.1,385.2 417.4,383.7 C417.7,382.1 418.0,380.6 418.3,379.0 C418.5,377.5 418.8,376.0 419.1,374.4 C419.4,372.9 419.8,370.5 419.9,369.8 M423.6,346.8 C423.7,346.0 424.0,343.6 424.2,342.1 C424.5,340.5 424.7,339.0 424.9,337.4 C425.2,335.9 425.4,334.3 425.7,332.8 C425.9,331.2 426.1,329.7 426.4,328.1 C426.6,326.6 426.9,325.0 427.2,323.5 C427.4,321.9 427.7,320.4 428.0,318.8 C428.3,317.3 428.7,315.0 428.9,314.2 M432.6,291.2 C432.7,290.5 433.0,288.4 433.2,287.0 C433.4,285.6 433.5,284.2 433.7,282.8 C433.9,281.4 434.2,280.0 434.4,278.6 C434.6,277.2 434.9,275.2 435.0,274.5 M435.0,274.5 C435.1,273.8 435.4,271.7 435.6,270.4 C435.8,269.0 436.1,267.7 436.3,266.3 C436.6,265.0 436.9,263.6 437.1,262.3 C437.3,260.9 437.7,258.9 437.8,258.2 M441.5,235.2 C441.6,234.4 441.9,232.1 442.2,230.5 C442.4,229.0 442.6,227.4 442.8,225.9 C443.0,224.3 443.2,222.7 443.5,221.2 C443.7,219.6 443.9,218.1 444.2,216.5 C444.5,215.0 444.9,213.5 445.2,211.9 C445.6,210.4 445.9,208.9 446.3,207.3 C446.6,205.8 447.2,203.5 447.4,202.8 M453.3,180.2 C453.5,179.5 454.0,177.2 454.5,175.7 C454.9,174.1 455.3,172.6 455.8,171.1 C456.3,169.6 456.7,168.1 457.3,166.7 C457.8,165.2 458.4,163.7 458.9,162.3 C459.5,160.8 460.0,159.3 460.6,157.8 C461.2,156.4 461.9,154.9 462.7,153.6 C463.6,152.3 465.2,150.6 465.7,150.0 M483.6,162.0 C484.2,162.6 485.7,164.4 486.8,165.5 C487.9,166.7 488.9,167.8 490.0,168.9 C491.2,170.1 492.3,171.2 493.4,172.3 C494.5,173.4 495.7,174.4 496.8,175.5 C498.0,176.5 499.2,177.6 500.4,178.6 C501.6,179.5 502.8,180.6 504.1,181.4 C505.5,182.2 507.7,183.0 508.4,183.3 M521.4,162.1 C521.9,161.5 523.3,159.5 524.3,158.4 C525.4,157.2 526.5,156.1 527.7,155.1 C528.9,154.1 530.3,153.3 531.6,152.5 C533.0,151.7 534.4,151.0 535.8,150.4 C537.3,149.8 538.8,149.0 540.3,149.0 C541.8,149.0 543.6,149.5 544.7,150.4 C545.8,151.3 546.6,153.7 547.0,154.4 M550.1,180.6 C550.1,181.4 550.2,183.7 550.3,185.3 C550.4,186.9 550.5,188.4 550.6,190.0 C550.7,191.6 550.8,193.1 550.9,194.7 C551.0,196.3 551.1,197.8 551.2,199.4 C551.3,201.0 551.4,202.5 551.5,204.1 C551.6,205.7 551.7,207.2 551.8,208.8 C551.9,210.4 552.1,212.7 552.1,213.5 M553.6,236.8 C553.6,237.5 553.8,239.9 554.0,241.5 C554.1,243.0 554.2,244.6 554.4,246.2 C554.5,247.7 554.7,249.3 554.9,250.8 C555.0,252.4 555.3,254.0 555.4,255.5 C555.6,257.1 555.7,258.7 555.9,260.2 C556.1,261.8 556.3,263.3 556.4,264.9 C556.6,266.5 556.9,268.8 556.9,269.6 M559.2,292.8 C559.3,293.6 559.5,295.9 559.6,297.5 C559.8,299.0 560.0,300.6 560.1,302.2 C560.3,303.7 560.4,305.3 560.6,306.8 C560.7,308.4 560.9,310.0 561.0,311.5 C561.2,313.1 561.3,314.7 561.4,316.2 C561.5,317.8 561.6,319.4 561.7,320.9 C561.8,322.5 562.0,324.9 562.0,325.6 M563.7,348.9 C563.8,349.7 563.9,352.0 564.0,353.6 C564.1,355.2 564.3,356.7 564.4,358.3 C564.5,359.9 564.6,361.4 564.7,363.0 C564.8,364.6 565.0,366.1 565.1,367.7 C565.2,369.3 565.4,370.8 565.5,372.4 C565.6,373.9 565.8,375.5 565.9,377.1 C566.1,378.6 566.3,381.0 566.3,381.8 M568.4,405.0 C568.5,405.8 568.7,408.1 568.9,409.7 C569.0,411.2 569.2,412.8 569.3,414.4 C569.5,415.9 569.6,417.5 569.7,419.1 C569.8,420.6 569.9,422.2 570.0,423.8 C570.2,425.3 570.3,426.9 570.4,428.5 C570.5,430.0 570.5,431.6 570.6,433.2 C570.7,434.7 570.8,437.1 570.9,437.9 M572.4,466.0 C572.4,466.8 572.5,469.2 572.6,470.7 C572.7,472.3 572.7,473.9 572.8,475.4 C572.9,477.0 573.0,478.6 573.1,480.1 C573.2,481.7 573.3,483.3 573.4,484.8 C573.5,486.4 573.6,488.0 573.6,489.6 C573.7,491.1 573.8,492.7 573.9,494.3 C573.9,495.8 574.1,498.2 574.1,499.0 M575.3,522.2 C575.3,523.0 575.4,525.4 575.5,526.9 C575.6,528.5 575.7,530.1 575.7,531.7 C575.8,533.2 575.9,534.8 576.0,536.4 C576.1,537.9 576.2,539.5 576.3,541.1 C576.4,542.6 576.5,544.2 576.5,545.8 C576.6,547.3 576.7,548.9 576.8,550.5 C576.9,552.1 577.0,554.4 577.0,555.2 M578.3,578.5 C578.3,579.2 578.4,581.6 578.5,583.2 C578.6,584.7 578.7,586.3 578.7,587.9 C578.8,589.4 579.0,591.0 579.1,592.6 C579.2,594.1 579.3,595.7 579.5,597.3 C579.6,598.8 579.7,600.4 579.9,602.0 C580.0,603.5 580.1,605.1 580.3,606.7 C580.4,608.2 580.6,610.6 580.6,611.4 M582.7,634.6 C582.7,635.4 583.0,637.7 583.1,639.3 C583.2,640.8 583.4,642.4 583.5,644.0 C583.6,645.5 583.7,647.1 583.9,648.7 C584.0,650.2 584.2,651.8 584.4,653.4 C584.5,654.9 584.7,656.5 584.8,658.0 C585.0,659.6 585.1,661.2 585.3,662.7 C585.5,664.3 585.8,666.6 585.9,667.4 M588.3,690.6 C588.4,691.4 588.6,693.7 588.8,695.3 C588.9,696.8 589.1,698.4 589.2,700.0 C589.4,701.5 589.6,703.1 589.7,704.7 C589.8,706.2 589.9,707.8 590.0,709.4 C590.1,710.9 590.2,712.5 590.3,714.1 C590.3,715.6 590.4,717.2 590.4,718.8 C590.5,720.3 590.5,722.7 590.6,723.5 M591.5,746.8 C591.5,747.6 591.6,749.9 591.6,751.5 C591.7,753.1 591.7,754.6 591.8,756.2 C591.8,757.8 591.9,759.3 592.0,760.9 C592.1,762.5 592.2,764.0 592.3,765.6 C592.3,767.2 592.5,768.7 592.6,770.3 C592.7,771.9 592.8,773.4 592.9,775.0 C593.0,776.6 593.2,778.9 593.3,779.7 M594.8,803.0 C594.9,803.7 595.1,806.1 595.2,807.7 C595.3,809.2 595.4,810.8 595.5,812.4 C595.6,813.9 595.7,815.5 595.8,817.1 C595.9,818.6 596.1,820.2 596.2,821.8 C596.3,823.3 596.3,824.9 596.4,826.5 C596.5,828.0 596.6,829.6 596.6,831.2 C596.7,832.8 596.8,835.1 596.9,835.9 M598.1,859.2 C598.2,859.9 598.3,862.3 598.4,863.9 C598.4,865.4 598.5,867.0 598.6,868.6 C598.7,870.1 598.8,871.7 598.9,873.3 C599.0,874.8 599.1,876.4 599.2,878.0 C599.3,879.5 599.5,881.1 599.6,882.7 C599.7,884.2 599.9,885.8 600.0,887.4 C600.2,888.9 600.4,891.3 600.4,892.1 M602.6,915.3 C602.6,916.0 602.9,918.4 603.0,920.0 C603.1,921.5 603.3,923.1 603.4,924.7 C603.6,926.2 603.7,927.8 603.9,929.3 C604.0,930.9 604.2,932.5 604.4,934.0 C604.5,935.6 604.7,937.2 604.8,938.7 C605.0,940.3 605.1,941.9 605.3,943.4 C605.5,945.0 605.7,947.3 605.8,948.1 M608.2,971.3 C608.3,972.1 608.5,974.4 608.7,976.0 C608.8,977.5 609.0,979.1 609.1,980.7 C609.3,982.2 609.5,983.8 609.6,985.3 C609.8,986.9 609.9,988.5 610.2,990.0 C610.4,991.6 610.7,993.1 611.0,994.7 C611.2,996.2 611.4,997.8 611.7,999.3 C611.9,1000.9 612.3,1003.2 612.4,1004.0 M616.2,1027.0 C616.3,1027.8 616.7,1030.1 617.0,1031.6 C617.2,1033.2 617.5,1034.7 617.7,1036.3 C618.0,1037.8 618.3,1039.4 618.6,1040.9 C618.9,1042.5 619.2,1044.0 619.6,1045.5 C620.0,1047.0 620.4,1048.5 620.9,1050.1 C621.3,1051.6 621.8,1053.1 622.2,1054.6 C622.7,1056.1 623.4,1058.3 623.6,1059.1 M630.6,1081.3 C630.8,1082.1 631.5,1084.3 632.0,1085.8 C632.5,1087.3 633.0,1088.8 633.6,1090.3 C634.1,1091.7 634.7,1093.2 635.4,1094.6 C636.0,1096.0 636.7,1097.5 637.4,1098.9 C638.1,1100.3 638.8,1101.7 639.5,1103.1 C640.3,1104.5 641.0,1105.8 641.8,1107.2 C642.6,1108.5 643.9,1110.5 644.3,1111.2 M660.7,1127.3 C661.4,1127.6 663.4,1128.9 664.9,1129.5 C666.3,1130.1 667.9,1130.4 669.4,1130.8 C670.9,1131.2 672.4,1131.5 674.0,1131.8 C675.5,1132.1 677.1,1132.4 678.6,1132.6 C680.2,1132.8 681.7,1133.0 683.3,1133.1 C684.9,1133.3 686.4,1133.3 688.0,1133.4 C689.6,1133.5 691.9,1133.6 692.7,1133.6 M716.0,1134.3 C716.8,1134.3 719.2,1134.3 720.7,1134.3 C722.3,1134.3 723.9,1134.4 725.4,1134.4 C727.0,1134.4 728.6,1134.5 730.2,1134.5 C731.7,1134.5 733.3,1134.5 734.9,1134.5 C736.4,1134.5 738.0,1134.5 739.6,1134.5 C741.2,1134.5 742.7,1134.5 744.3,1134.5 C745.9,1134.5 748.2,1134.5 749.0,1134.5" fill="none" stroke="#0000ff" stroke-width="12" stroke-linejoin="round" stroke-linecap="butt"/>
<path d="M304.0,200.0 C304.3,199.4 305.2,197.8 305.8,196.7 C306.4,195.5 307.0,194.4 307.7,193.3 C308.3,192.2 308.9,191.1 309.5,190.0 C310.2,188.9 311.1,187.2 311.4,186.6 M329.1,172.5 C329.7,171.9 331.5,170.4 332.5,169.3 C333.6,168.1 334.4,166.7 335.3,165.4 C336.2,164.1 336.9,162.7 337.7,161.4 C338.5,160.0 339.3,158.7 340.1,157.3 C340.9,156.0 341.7,154.6 342.6,153.3 C343.5,152.0 344.3,150.2 345.4,149.5 C346.4,148.8 348.5,149.3 349.1,149.2 M354.9,171.6 C355.0,172.4 355.4,174.7 355.7,176.3 C355.9,177.8 356.2,179.4 356.5,180.9 C356.7,182.5 357.0,184.0 357.3,185.6 C357.5,187.1 357.8,188.7 358.0,190.2 C358.2,191.8 358.5,193.3 358.7,194.9 C358.9,196.4 359.2,198.0 359.4,199.5 C359.6,201.1 360.0,203.4 360.1,204.2 M361.8,227.4 C361.8,228.2 361.9,230.6 362.0,232.1 C362.0,233.7 362.1,235.3 362.2,236.8 C362.3,238.4 362.3,240.0 362.3,241.6 C362.4,243.1 362.4,244.7 362.5,246.3 C362.5,247.8 362.6,249.4 362.7,251.0 C362.7,252.6 362.8,254.1 362.8,255.7 C362.9,257.3 363.0,259.6 363.0,260.4 M363.8,283.7 C363.8,284.5 363.8,286.8 363.9,288.4 C363.9,290.0 364.0,291.5 364.1,293.1 C364.1,294.7 364.1,296.2 364.1,297.8 C364.2,299.4 364.3,301.0 364.3,302.5 C364.3,304.1 364.3,305.7 364.3,307.2 C364.4,308.8 364.4,310.4 364.5,312.0 C364.5,313.5 364.5,315.9 364.5,316.7 M365.0,340.0 C365.0,340.7 365.1,343.1 365.1,344.7 C365.1,346.2 365.1,347.8 365.1,349.4 C365.2,351.0 365.2,352.5 365.2,354.1 C365.2,355.7 365.3,357.2 365.3,358.8 C365.3,360.4 365.4,362.0 365.4,363.5 C365.4,365.1 365.5,366.7 365.5,368.2 C365.5,369.8 365.5,372.2 365.5,372.9 M365.9,396.2 C365.9,397.0 366.0,399.4 366.1,400.9 C366.1,402.5 366.2,404.1 366.2,405.7 C366.3,407.2 366.3,408.8 366.4,410.4 C366.4,411.9 366.5,413.5 366.5,415.1 C366.6,416.7 366.6,418.2 366.7,419.8 C366.7,421.4 366.8,422.9 366.8,424.5 C366.9,426.1 367.0,428.4 367.0,429.2 M367.8,452.5 C367.8,453.3 367.9,455.6 367.9,457.2 C368.0,458.8 368.0,460.4 368.1,461.9 C368.1,463.5 368.2,465.1 368.2,466.6 C368.3,468.2 368.4,469.8 368.4,471.3 C368.5,472.9 368.5,474.5 368.6,476.1 C368.6,477.6 368.6,479.2 368.7,480.8 C368.7,482.3 368.8,484.7 368.9,485.5 M369.6,508.8 C369.7,509.6 369.8,511.9 369.8,513.5 C369.9,515.0 369.9,516.6 370.0,518.2 C370.0,519.8 370.0,521.3 370.1,522.9 C370.2,524.5 370.3,526.0 370.3,527.6 C370.4,529.2 370.5,530.7 370.6,532.3 C370.7,533.9 370.7,535.5 370.8,537.0 C370.9,538.6 371.0,541.0 371.0,541.7 M372.2,565.0 C372.2,565.8 372.4,568.1 372.4,569.7 C372.5,571.3 372.6,572.9 372.7,574.4 C372.8,576.0 372.8,577.6 372.9,579.1 C373.0,580.7 373.2,582.3 373.3,583.8 C373.3,585.4 373.4,587.0 373.5,588.5 C373.6,590.1 373.7,591.7 373.8,593.2 C373.9,594.8 374.0,597.2 374.1,598.0 M375.5,621.2 C375.6,622.0 375.8,624.3 375.9,625.9 C376.0,627.5 376.0,629.0 376.1,630.6 C376.2,632.2 376.3,633.7 376.4,635.3 C376.5,636.9 376.6,638.5 376.7,640.0 C376.8,641.6 376.9,643.2 377.0,644.7 C377.1,646.3 377.2,647.9 377.2,649.4 C377.3,651.0 377.4,653.4 377.5,654.1 M378.7,677.4 C378.8,678.2 378.9,680.5 379.0,682.1 C379.1,683.7 379.2,685.2 379.3,686.8 C379.4,688.4 379.5,690.0 379.5,691.5 C379.6,693.1 379.7,694.7 379.8,696.2 C379.9,697.8 380.1,699.4 380.2,700.9 C380.4,702.5 380.5,704.1 380.7,705.6 C380.9,707.2 381.2,709.5 381.4,710.3 M384.9,733.3 C385.1,734.1 385.7,736.3 386.1,737.9 C386.5,739.4 387.0,740.9 387.4,742.4 C387.8,743.9 388.2,745.4 388.6,746.9 C389.0,748.5 389.4,750.0 389.9,751.5 C390.3,753.0 390.7,754.5 391.2,756.0 C391.6,757.5 392.1,759.0 392.6,760.5 C393.0,762.0 393.7,764.3 393.9,765.0 M403.8,784.5 C404.4,783.9 406.0,782.2 406.9,780.9 C407.9,779.6 408.7,778.3 409.5,776.9 C410.2,775.6 410.9,774.2 411.6,772.7 C412.3,771.3 412.9,769.9 413.6,768.5 C414.2,767.0 414.8,765.6 415.4,764.1 C416.0,762.7 416.7,761.2 417.3,759.8 C417.8,758.3 418.6,756.1 418.8,755.3 M425.9,733.2 C426.1,732.4 426.8,730.1 427.3,728.6 C427.7,727.1 428.1,725.6 428.6,724.1 C429.0,722.6 429.3,721.1 429.7,719.5 C430.1,718.0 430.5,716.5 430.9,715.0 C431.2,713.4 431.5,711.9 431.9,710.4 C432.2,708.8 432.6,707.3 432.9,705.8 C433.3,704.2 433.8,701.9 434.0,701.2 M439.0,678.4 C439.2,677.7 439.7,675.4 440.1,673.8 C440.4,672.3 440.8,670.8 441.1,669.2 C441.4,667.7 441.7,666.1 442.0,664.6 C442.4,663.1 442.7,661.5 443.1,660.0 C443.4,658.5 443.7,656.9 444.0,655.4 C444.3,653.8 444.7,652.3 445.0,650.8 C445.3,649.2 445.8,646.9 445.9,646.2 M450.9,623.4 C451.1,622.6 451.6,620.4 452.0,618.9 C452.3,617.4 452.7,615.9 453.1,614.4 C453.4,612.9 453.7,611.4 454.1,609.9 C454.4,608.4 454.8,606.9 455.2,605.4 C455.5,603.9 455.9,602.4 456.3,600.9 C456.7,599.4 457.0,597.9 457.4,596.4 C457.8,594.9 458.3,592.6 458.5,591.9 M460.9,582.2 C461.1,581.4 461.8,579.1 462.2,577.6 C462.6,576.1 463.0,574.6 463.5,573.1 C463.9,571.6 464.3,570.0 464.7,568.5 C465.1,567.0 465.5,565.5 465.9,564.0 C466.4,562.5 466.8,561.0 467.2,559.4 C467.7,557.9 468.1,556.4 468.6,554.9 C469.1,553.4 469.8,551.2 470.1,550.5 M477.6,528.4 C477.9,527.7 478.7,525.5 479.3,524.0 C479.8,522.5 480.4,521.1 481.0,519.6 C481.6,518.2 482.2,516.7 482.7,515.2 C483.3,513.8 483.8,512.3 484.4,510.8 C484.9,509.4 485.5,507.9 486.0,506.4 C486.6,504.9 487.1,503.5 487.7,502.0 C488.2,500.5 489.1,498.3 489.3,497.6 M496.7,475.5 C496.8,474.7 497.4,472.4 497.7,470.9 C498.0,469.3 498.2,467.8 498.5,466.2 C498.7,464.7 499.0,463.1 499.3,461.6 C499.5,460.0 499.8,458.5 500.0,456.9 C500.3,455.4 500.5,453.8 500.8,452.3 C501.0,450.7 501.3,449.2 501.6,447.6 C501.9,446.1 502.3,443.8 502.4,443.0 M507.0,420.1 C507.1,419.4 507.6,417.1 507.8,415.5 C508.1,414.0 508.4,412.4 508.7,410.9 C509.0,409.3 509.3,407.8 509.6,406.2 C509.9,404.7 510.1,403.1 510.4,401.6 C510.7,400.1 511.0,398.5 511.3,397.0 C511.6,395.4 511.9,393.9 512.2,392.3 C512.5,390.8 512.9,388.5 513.1,387.7 M517.9,364.9 C518.1,364.2 518.6,361.9 518.9,360.3 C519.3,358.8 519.6,357.3 519.9,355.7 C520.3,354.2 520.6,352.6 520.9,351.1 C521.2,349.6 521.6,348.0 521.9,346.5 C522.2,345.0 522.5,343.4 522.9,341.9 C523.2,340.3 523.6,338.8 523.9,337.3 C524.2,335.7 524.7,333.4 524.8,332.7 M529.8,309.9 C530.0,309.1 530.5,306.8 530.8,305.3 C531.2,303.8 531.5,302.2 531.9,300.7 C532.3,299.2 532.7,297.7 533.1,296.2 C533.6,294.7 534.1,293.2 534.5,291.7 C535.0,290.2 535.4,288.6 535.9,287.1 C536.3,285.6 536.7,284.1 537.3,282.6 C537.8,281.2 538.7,279.0 539.0,278.3 M551.9,259.0 C552.4,258.4 553.9,256.6 554.9,255.4 C556.0,254.3 557.0,253.1 558.0,251.8 C559.0,250.6 559.9,249.3 560.8,248.1 C561.8,246.8 562.7,245.5 563.6,244.3 C564.5,243.0 565.4,241.7 566.3,240.4 C567.2,239.1 568.0,237.8 568.9,236.5 C569.7,235.1 570.9,233.1 571.3,232.4 M580.4,211.0 C580.6,210.3 581.4,208.0 581.9,206.6 C582.4,205.1 583.0,203.6 583.5,202.1 C584.0,200.6 584.5,199.1 585.0,197.6 C585.5,196.2 586.1,194.7 586.6,193.2 C587.1,191.7 587.6,190.2 588.1,188.7 C588.6,187.2 589.1,185.8 589.6,184.3 C590.1,182.8 590.8,180.5 591.1,179.8 M599.0,157.9 C599.3,157.2 600.2,155.0 600.9,153.6 C601.7,152.2 602.3,150.5 603.4,149.6 C604.4,148.7 606.0,147.8 607.2,148.0 C608.5,148.2 609.8,149.7 610.9,150.8 C611.9,151.9 612.7,153.4 613.4,154.8 C614.2,156.2 614.8,157.6 615.4,159.0 C616.0,160.5 616.8,162.7 617.1,163.4 M622.4,186.1 C622.5,186.9 622.8,189.2 623.0,190.8 C623.2,192.3 623.4,193.9 623.6,195.4 C623.7,197.0 623.9,198.6 624.0,200.1 C624.2,201.7 624.4,203.3 624.5,204.8 C624.7,206.4 624.8,207.9 625.0,209.5 C625.1,211.1 625.3,212.6 625.5,214.2 C625.6,215.8 625.9,218.1 626.0,218.9 M628.9,242.0 C629.0,242.8 629.3,245.1 629.5,246.7 C629.7,248.2 629.9,249.8 630.1,251.3 C630.3,252.9 630.4,254.5 630.6,256.0 C630.7,257.6 630.8,259.2 630.9,260.7 C631.1,262.3 631.3,263.9 631.4,265.4 C631.6,267.0 631.7,268.6 631.9,270.1 C632.0,271.7 632.3,274.0 632.4,274.8 M635.1,297.9 C635.1,298.7 635.3,301.1 635.5,302.6 C635.6,304.2 635.8,305.8 635.9,307.3 C636.1,308.9 636.2,310.5 636.3,312.0 C636.4,313.6 636.5,315.2 636.7,316.7 C636.8,318.3 636.9,319.9 637.0,321.4 C637.2,323.0 637.4,324.6 637.5,326.1 C637.7,327.7 637.8,330.0 637.9,330.8 M639.6,354.1 C639.7,354.8 639.8,357.2 639.9,358.8 C640.0,360.3 640.0,361.9 640.1,363.5 C640.2,365.0 640.4,366.6 640.5,368.2 C640.6,369.7 640.6,371.3 640.7,372.9 C640.8,374.4 640.9,376.0 641.0,377.6 C641.1,379.2 641.2,380.7 641.3,382.3 C641.4,383.9 641.5,386.2 641.6,387.0 M643.0,410.2 C643.0,411.0 643.2,413.4 643.3,414.9 C643.4,416.5 643.5,418.1 643.6,419.7 C643.7,421.2 643.9,422.8 644.0,424.4 C644.1,425.9 644.3,427.5 644.4,429.0 C644.5,430.6 644.6,432.2 644.7,433.7 C644.9,435.3 645.0,436.9 645.1,438.5 C645.2,440.0 645.4,442.4 645.5,443.1 M647.2,466.4 C647.3,467.2 647.4,469.5 647.5,471.1 C647.6,472.7 647.7,474.2 647.8,475.8 C648.0,477.4 648.1,478.9 648.2,480.5 C648.3,482.1 648.3,483.6 648.4,485.2 C648.4,486.8 648.5,488.3 648.6,489.9 C648.6,491.5 648.7,493.0 648.8,494.6 C648.9,496.2 649.0,498.5 649.0,499.3 M650.1,522.6 C650.1,523.4 650.3,525.7 650.4,527.3 C650.5,528.9 650.6,530.4 650.7,532.0 C650.8,533.6 650.9,535.1 651.0,536.7 C651.1,538.3 651.2,539.8 651.3,541.4 C651.4,543.0 651.6,544.6 651.7,546.1 C651.8,547.7 651.9,549.3 652.0,550.8 C652.1,552.4 652.2,554.7 652.3,555.5 M653.8,578.8 C653.8,579.6 653.9,581.9 654.0,583.5 C654.1,585.1 654.3,586.6 654.4,588.2 C654.5,589.8 654.5,591.3 654.6,592.9 C654.7,594.5 654.8,596.0 654.9,597.6 C655.0,599.2 655.1,600.7 655.2,602.3 C655.3,603.9 655.3,605.4 655.4,607.0 C655.5,608.6 655.7,610.9 655.7,611.7 M657.1,635.0 C657.2,635.8 657.3,638.1 657.4,639.7 C657.5,641.2 657.6,642.8 657.7,644.4 C657.8,646.0 657.9,647.5 657.9,649.1 C658.0,650.7 658.2,652.2 658.3,653.8 C658.4,655.4 658.4,656.9 658.5,658.5 C658.6,660.1 658.7,661.6 658.8,663.2 C658.9,664.8 659.0,667.1 659.1,667.9 M660.5,691.2 C660.5,691.9 660.7,694.3 660.8,695.9 C660.9,697.4 660.9,699.0 661.1,700.6 C661.2,702.1 661.3,703.7 661.5,705.3 C661.6,706.8 661.8,708.4 661.9,710.0 C662.1,711.5 662.2,713.1 662.3,714.7 C662.5,716.2 662.6,717.8 662.8,719.3 C662.9,720.9 663.1,723.3 663.2,724.0 M665.1,747.3 C665.2,748.0 665.3,750.4 665.4,752.0 C665.5,753.5 665.5,755.1 665.6,756.7 C665.7,758.2 665.7,759.8 665.8,761.4 C665.8,763.0 665.9,764.5 666.0,766.1 C666.1,767.7 666.1,769.2 666.2,770.8 C666.3,772.4 666.4,773.9 666.5,775.5 C666.5,777.1 666.7,779.4 666.7,780.2 M668.4,803.5 C668.5,804.2 668.6,806.6 668.8,808.1 C668.9,809.7 669.1,811.3 669.2,812.8 C669.4,814.4 669.5,816.0 669.6,817.5 C669.8,819.1 670.0,820.7 670.1,822.2 C670.2,823.8 670.3,825.4 670.5,826.9 C670.6,828.5 670.8,830.1 670.9,831.6 C671.0,833.2 671.2,835.5 671.3,836.3 M673.4,859.5 C673.5,860.3 673.7,862.7 673.8,864.2 C673.9,865.8 674.1,867.3 674.3,868.9 C674.4,870.5 674.6,872.0 674.7,873.6 C674.9,875.2 675.0,876.7 675.1,878.3 C675.3,879.9 675.4,881.4 675.5,883.0 C675.7,884.6 675.8,886.1 676.0,887.7 C676.1,889.3 676.3,891.6 676.4,892.4 M678.6,915.6 C678.6,916.4 678.9,918.7 679.0,920.3 C679.2,921.8 679.3,923.4 679.5,925.0 C679.7,926.5 679.8,928.1 680.0,929.6 C680.1,931.2 680.3,932.8 680.4,934.3 C680.6,935.9 680.8,937.5 680.9,939.0 C681.1,940.6 681.2,942.2 681.4,943.7 C681.5,945.3 681.8,947.6 681.9,948.4 M684.2,971.6 C684.3,972.4 684.5,974.7 684.7,976.3 C684.8,977.8 685.0,979.4 685.1,981.0 C685.3,982.5 685.4,984.1 685.6,985.7 C685.8,987.2 685.9,988.8 686.1,990.4 C686.2,991.9 686.4,993.5 686.5,995.0 C686.7,996.6 686.9,998.2 687.1,999.7 C687.3,1001.3 687.7,1003.6 687.9,1004.4 M692.4,1027.2 C692.6,1028.0 693.1,1030.3 693.5,1031.8 C693.9,1033.3 694.3,1034.9 694.7,1036.4 C695.1,1037.9 695.5,1039.4 695.9,1040.9 C696.3,1042.4 696.7,1044.0 697.1,1045.5 C697.5,1047.0 697.9,1048.5 698.3,1050.0 C698.7,1051.6 699.2,1053.1 699.6,1054.6 C700.0,1056.1 700.6,1058.4 700.8,1059.1 M707.9,1081.3 C708.2,1082.1 709.0,1084.3 709.7,1085.7 C710.4,1087.1 711.1,1088.5 711.9,1089.8 C712.7,1091.2 713.5,1092.5 714.3,1093.9 C715.1,1095.2 716.0,1096.6 716.8,1097.9 C717.7,1099.2 718.6,1100.5 719.5,1101.7 C720.5,1103.0 721.5,1104.2 722.4,1105.4 C723.4,1106.7 725.0,1108.5 725.5,1109.1 M742.4,1124.9 C743.1,1125.3 745.0,1126.7 746.4,1127.5 C747.7,1128.3 749.1,1129.1 750.5,1129.7 C752.0,1130.3 753.5,1130.8 755.0,1131.2 C756.5,1131.7 758.0,1132.1 759.6,1132.3 C761.1,1132.6 762.7,1132.8 764.2,1132.9 C765.8,1133.0 767.4,1133.0 769.0,1133.0 C770.5,1133.0 772.9,1133.0 773.7,1133.0 M797.0,1133.0 C797.8,1133.0 800.1,1133.0 801.7,1133.0 C803.3,1133.0 804.8,1133.0 806.4,1133.0 C808.0,1133.0 809.5,1133.0 811.1,1133.0 C812.7,1133.0 814.3,1133.0 815.8,1133.0 C817.4,1133.0 819.0,1133.0 820.5,1133.0 C822.1,1133.0 823.7,1133.0 825.3,1133.0 C826.8,1133.0 829.2,1133.0 830.0,1133.0 M853.3,1133.0 C854.1,1133.0 856.4,1133.0 858.0,1133.0 C859.6,1133.0 861.1,1133.0 862.7,1133.0 C864.3,1133.0 865.8,1133.0 867.4,1133.0 C869.0,1133.0 870.6,1133.0 872.1,1133.0 C873.7,1133.0 875.3,1133.0 876.8,1133.0 C878.4,1133.0 880.0,1133.0 881.6,1133.0 C883.1,1133.0 885.5,1133.0 886.3,1133.0 M909.6,1133.0 C910.4,1133.0 912.7,1133.0 914.3,1133.0 C915.9,1133.0 917.4,1133.0 919.0,1133.0 C920.6,1133.0 922.1,1133.0 923.7,1133.0 C925.3,1133.0 926.9,1133.0 928.4,1133.0 C930.0,1133.0 931.6,1133.0 933.1,1133.0 C934.7,1133.0 936.3,1133.0 937.9,1133.0 C939.4,1133.0 941.8,1133.0 942.6,1133.0 M965.9,1133.0 C966.7,1133.0 969.0,1133.0 970.6,1133.0 C972.2,1133.0 973.7,1133.0 975.3,1133.0 C976.9,1133.0 978.4,1133.0 980.0,1133.0 C981.6,1133.0 983.2,1133.0 984.7,1133.0 C986.3,1133.0 987.9,1133.0 989.4,1133.0 C991.0,1133.0 992.6,1133.0 994.2,1133.0 C995.7,1133.0 998.1,1133.0 998.9,1133.0" fill="none" stroke="#ff0000" stroke-width="12" stroke-linejoin="round" stroke-linecap="butt"/>
<path d="M304.0,290.0 C304.0,290.2 304.2,290.8 304.2,291.0 M309.5,313.7 C309.6,314.5 310.1,316.8 310.3,318.3 C310.6,319.9 310.8,321.4 311.0,323.0 C311.2,324.6 311.4,326.1 311.7,327.7 C311.9,329.2 312.2,330.8 312.4,332.3 C312.6,333.9 312.8,335.4 313.0,337.0 C313.2,338.6 313.4,340.1 313.6,341.7 C313.8,343.2 314.1,345.6 314.2,346.3 M317.4,369.2 C317.9,368.8 319.5,367.9 320.3,366.7 C321.1,365.6 321.7,363.9 322.3,362.5 C322.9,361.0 323.5,359.6 324.1,358.1 C324.7,356.6 325.3,355.2 325.8,353.7 C326.4,352.2 326.8,350.7 327.4,349.3 C327.9,347.8 328.5,346.3 328.9,344.8 C329.4,343.3 329.9,341.0 330.1,340.3 M332.6,320.8 C332.7,320.0 333.0,317.7 333.1,316.1 C333.3,314.6 333.5,313.0 333.7,311.5 C333.9,309.9 334.1,308.4 334.3,306.8 C334.5,305.3 334.7,303.7 334.9,302.1 C335.1,300.6 335.3,299.0 335.4,297.5 C335.6,295.9 335.8,294.4 335.9,292.8 C336.1,291.2 336.2,288.9 336.3,288.1 M337.0,264.8 C337.0,264.0 337.0,261.7 337.0,260.1 C337.0,258.5 337.0,257.0 337.0,255.4 C337.0,253.8 337.0,252.3 337.0,250.7 C337.1,249.1 337.1,247.5 337.2,246.0 C337.3,244.4 337.4,242.8 337.4,241.3 C337.5,239.7 337.7,238.1 337.8,236.6 C337.9,235.0 338.1,232.6 338.1,231.9 M343.1,209.4 C343.7,209.6 345.8,209.5 346.8,210.3 C347.9,211.1 348.6,212.9 349.3,214.2 C350.1,215.6 350.6,217.1 351.3,218.5 C351.9,220.0 352.4,221.5 353.0,222.9 C353.6,224.4 354.1,225.9 354.6,227.3 C355.2,228.8 355.7,230.3 356.1,231.8 C356.5,233.4 356.8,235.7 357.0,236.4 M357.5,259.7 C357.4,260.5 357.3,262.8 357.2,264.4 C357.2,266.0 357.1,267.5 357.1,269.1 C357.1,270.7 357.2,272.3 357.3,273.8 C357.3,275.4 357.4,277.0 357.5,278.5 C357.6,280.1 357.6,281.7 357.7,283.2 C357.8,284.8 357.8,286.4 358.0,288.0 C358.1,289.5 358.3,291.9 358.4,292.6 M361.3,315.7 C361.4,316.5 361.6,318.9 361.7,320.4 C361.8,322.0 361.9,323.6 362.0,325.1 C362.1,326.7 362.2,328.3 362.3,329.9 C362.4,331.4 362.5,333.0 362.6,334.6 C362.7,336.1 362.8,337.7 362.9,339.3 C363.0,340.8 363.1,342.4 363.1,344.0 C363.2,345.5 363.3,347.9 363.3,348.7 M364.1,372.0 C364.1,372.7 364.2,375.1 364.2,376.7 C364.3,378.2 364.3,379.8 364.4,381.4 C364.4,383.0 364.5,384.5 364.5,386.1 C364.6,387.7 364.7,389.2 364.7,390.8 C364.8,392.4 364.8,394.0 364.8,395.5 C364.9,397.1 364.9,398.7 365.0,400.2 C365.0,401.8 365.1,404.2 365.2,404.9 M365.9,428.2 C366.0,429.0 366.1,431.4 366.1,432.9 C366.2,434.5 366.2,436.1 366.3,437.7 C366.3,439.2 366.3,440.8 366.4,442.4 C366.4,443.9 366.5,445.5 366.6,447.1 C366.6,448.6 366.7,450.2 366.7,451.8 C366.8,453.4 366.8,454.9 366.9,456.5 C366.9,458.1 367.0,460.4 367.0,461.2 M367.8,484.5 C367.8,485.3 367.9,487.6 368.0,489.2 C368.0,490.8 368.1,492.3 368.1,493.9 C368.2,495.5 368.3,497.1 368.3,498.6 C368.4,500.2 368.4,501.8 368.4,503.3 C368.5,504.9 368.5,506.5 368.6,508.1 C368.6,509.6 368.7,511.2 368.8,512.8 C368.8,514.3 368.9,516.7 368.9,517.5 M370.0,540.7 C370.0,541.5 370.2,543.9 370.2,545.5 C370.3,547.0 370.4,548.6 370.5,550.2 C370.6,551.7 370.6,553.3 370.7,554.9 C370.8,556.4 370.9,558.0 370.9,559.6 C371.0,561.2 371.1,562.7 371.2,564.3 C371.3,565.9 371.3,567.4 371.4,569.0 C371.5,570.6 371.6,572.9 371.7,573.7 M372.8,597.0 C372.9,597.8 373.0,600.1 373.1,601.7 C373.1,603.3 373.2,604.8 373.3,606.4 C373.4,608.0 373.4,609.5 373.5,611.1 C373.6,612.7 373.7,614.2 373.8,615.8 C373.8,617.4 373.9,618.9 374.0,620.5 C374.1,622.1 374.2,623.7 374.2,625.2 C374.3,626.8 374.4,629.2 374.5,629.9 M375.4,653.2 C375.5,654.0 375.5,656.4 375.6,657.9 C375.6,659.5 375.7,661.1 375.8,662.6 C375.8,664.2 375.9,665.8 375.9,667.3 C376.0,668.9 376.0,670.5 376.1,672.1 C376.1,673.6 376.2,675.2 376.2,676.8 C376.3,678.3 376.3,679.9 376.4,681.5 C376.4,683.1 376.5,685.4 376.5,686.2 M377.1,709.5 C377.1,710.3 377.2,712.6 377.3,714.2 C377.3,715.8 377.3,717.3 377.3,718.9 C377.3,720.5 377.4,722.0 377.4,723.6 C377.4,725.2 377.5,726.8 377.5,728.3 C377.5,729.9 377.6,731.5 377.6,733.0 C377.6,734.6 377.6,736.2 377.7,737.8 C377.7,739.3 377.7,741.7 377.7,742.5 M378.5,765.8 C378.5,766.5 378.7,768.9 378.8,770.5 C378.9,772.0 378.9,773.6 379.0,775.2 C379.1,776.7 379.2,778.3 379.4,779.9 C379.5,781.4 379.6,783.0 379.7,784.6 C379.8,786.1 379.9,787.7 380.1,789.3 C380.2,790.8 380.5,792.4 380.7,793.9 C380.9,795.5 381.3,797.8 381.4,798.6 M385.6,821.5 C385.8,822.3 386.3,824.6 386.7,826.1 C387.1,827.6 387.4,829.1 387.8,830.7 C388.1,832.2 388.5,833.7 388.9,835.3 C389.3,836.8 389.6,838.3 390.2,839.8 C390.7,841.3 391.4,842.7 392.1,844.1 C392.8,845.5 393.3,847.2 394.3,848.3 C395.3,849.4 397.4,850.4 398.0,850.8 M412.4,834.2 C412.6,833.4 413.4,831.2 413.8,829.7 C414.2,828.2 414.5,826.6 414.8,825.1 C415.1,823.6 415.4,822.0 415.7,820.5 C415.9,818.9 416.2,817.4 416.5,815.8 C416.7,814.3 417.0,812.7 417.3,811.2 C417.5,809.6 417.9,808.1 418.1,806.5 C418.4,805.0 418.8,802.7 418.9,801.9 M423.3,779.0 C423.5,778.2 424.0,775.9 424.3,774.4 C424.7,772.9 425.0,771.3 425.3,769.8 C425.7,768.3 426.0,766.7 426.3,765.2 C426.6,763.7 427.0,762.1 427.3,760.6 C427.7,759.1 428.0,757.5 428.4,756.0 C428.7,754.5 429.1,752.9 429.4,751.4 C429.8,749.9 430.3,747.6 430.4,746.8 M436.5,724.3 C436.7,723.5 437.3,721.3 437.7,719.8 C438.1,718.2 438.4,716.7 438.7,715.1 C439.0,713.6 439.3,712.1 439.6,710.5 C439.8,709.0 440.1,707.4 440.4,705.9 C440.7,704.3 441.0,702.8 441.3,701.2 C441.6,699.7 441.9,698.2 442.2,696.6 C442.5,695.1 442.9,692.7 443.0,692.0 M447.3,669.1 C447.4,668.3 447.8,666.0 448.0,664.4 C448.3,662.9 448.5,661.3 448.7,659.8 C448.9,658.2 449.2,656.6 449.4,655.1 C449.6,653.5 449.8,652.0 450.0,650.4 C450.2,648.9 450.5,647.3 450.7,645.7 C450.9,644.2 451.1,642.6 451.3,641.1 C451.5,639.5 451.9,637.2 452.0,636.4 M455.8,613.4 C455.9,612.7 456.2,610.7 456.5,609.3 C456.7,607.9 457.0,606.5 457.3,605.1 C457.6,603.8 457.9,602.4 458.2,601.0 C458.5,599.6 459.0,597.6 459.2,596.9 M459.2,596.9 C459.3,596.3 459.8,594.3 460.1,592.9 C460.4,591.6 460.8,590.3 461.1,588.9 C461.4,587.6 461.7,586.2 462.0,584.9 C462.4,583.6 463.0,581.6 463.2,581.0 M470.0,558.7 C470.3,558.0 471.0,555.7 471.5,554.2 C471.9,552.7 472.4,551.2 472.9,549.7 C473.4,548.2 473.8,546.7 474.3,545.2 C474.8,543.7 475.3,542.2 475.8,540.8 C476.3,539.3 476.8,537.8 477.4,536.3 C477.9,534.8 478.4,533.3 478.9,531.8 C479.4,530.4 480.2,528.1 480.4,527.4 M488.1,505.4 C488.3,504.6 489.1,502.4 489.6,500.9 C490.1,499.4 490.6,498.0 491.1,496.5 C491.6,495.0 492.1,493.5 492.6,492.0 C493.0,490.5 493.5,489.0 494.0,487.5 C494.4,486.0 494.9,484.5 495.4,483.0 C495.8,481.5 496.3,480.0 496.7,478.5 C497.1,476.9 497.5,474.6 497.6,473.8 M501.1,450.8 C501.3,450.0 501.6,447.7 501.9,446.1 C502.1,444.6 502.4,443.0 502.7,441.5 C503.0,440.0 503.4,438.4 503.7,436.9 C504.0,435.3 504.2,433.8 504.5,432.3 C504.8,430.7 505.1,429.2 505.4,427.6 C505.7,426.1 506.1,424.5 506.4,423.0 C506.7,421.5 507.2,419.2 507.3,418.4 M511.9,395.5 C512.0,394.8 512.5,392.5 512.8,390.9 C513.1,389.4 513.5,387.8 513.8,386.3 C514.1,384.8 514.4,383.2 514.7,381.7 C515.0,380.1 515.3,378.6 515.6,377.0 C515.8,375.5 516.2,374.0 516.5,372.4 C516.8,370.9 517.1,369.3 517.4,367.8 C517.7,366.3 518.2,364.0 518.4,363.2 M523.1,340.4 C523.3,339.6 523.8,337.3 524.1,335.8 C524.4,334.2 524.7,332.7 525.0,331.1 C525.3,329.6 525.7,328.1 526.1,326.5 C526.4,325.0 526.7,323.5 527.0,321.9 C527.4,320.4 527.8,318.9 528.1,317.4 C528.5,315.8 528.9,314.3 529.3,312.8 C529.7,311.3 530.3,309.0 530.5,308.2 M537.1,285.9 C537.3,285.1 538.1,282.9 538.6,281.4 C539.2,280.0 539.8,278.5 540.5,277.1 C541.2,275.7 541.8,274.3 542.6,272.9 C543.3,271.5 544.0,270.1 544.9,268.8 C545.7,267.5 546.7,266.2 547.7,265.0 C548.7,263.8 549.7,262.6 550.8,261.5 C551.8,260.3 553.5,258.6 554.0,258.0 M568.2,239.6 C568.7,239.0 570.0,237.0 570.9,235.7 C571.7,234.4 572.6,233.1 573.3,231.7 C574.1,230.3 574.9,228.9 575.6,227.5 C576.3,226.1 576.9,224.7 577.5,223.3 C578.2,221.8 578.8,220.4 579.4,218.9 C580.0,217.5 580.6,216.0 581.1,214.5 C581.6,213.1 582.3,210.8 582.5,210.0 M589.4,187.8 C589.6,187.0 590.2,184.7 590.6,183.2 C591.1,181.7 591.5,180.2 591.9,178.7 C592.4,177.2 592.8,175.7 593.3,174.2 C593.7,172.7 594.2,171.2 594.6,169.7 C595.0,168.2 595.4,166.6 595.9,165.1 C596.3,163.6 596.8,162.1 597.3,160.6 C597.8,159.1 598.6,156.9 598.9,156.2 M613.6,153.2 C613.9,153.9 615.0,156.0 615.6,157.4 C616.2,158.9 616.7,160.4 617.2,161.8 C617.8,163.3 618.3,164.8 618.7,166.3 C619.2,167.8 619.7,169.3 620.0,170.8 C620.4,172.4 620.6,173.9 620.9,175.5 C621.2,177.0 621.5,178.6 621.7,180.1 C622.0,181.7 622.3,184.0 622.4,184.8 M625.0,207.9 C625.0,208.7 625.3,211.1 625.4,212.6 C625.6,214.2 625.7,215.8 625.9,217.3 C626.1,218.9 626.2,220.5 626.4,222.0 C626.5,223.6 626.7,225.1 626.9,226.7 C627.1,228.3 627.3,229.8 627.5,231.4 C627.7,232.9 627.9,234.5 628.1,236.1 C628.3,237.6 628.6,239.9 628.8,240.7 M631.3,263.9 C631.3,264.7 631.5,267.0 631.7,268.6 C631.8,270.1 632.0,271.7 632.1,273.3 C632.3,274.8 632.5,276.4 632.7,277.9 C632.9,279.5 633.1,281.1 633.3,282.6 C633.4,284.2 633.6,285.7 633.8,287.3 C634.0,288.9 634.2,290.4 634.4,292.0 C634.6,293.5 634.8,295.9 634.9,296.7 M636.9,319.9 C637.0,320.7 637.2,323.0 637.4,324.6 C637.5,326.1 637.6,327.7 637.8,329.3 C637.9,330.8 638.0,332.4 638.2,334.0 C638.3,335.5 638.4,337.1 638.6,338.7 C638.7,340.2 638.8,341.8 639.0,343.4 C639.1,344.9 639.1,346.5 639.2,348.1 C639.3,349.6 639.5,352.0 639.5,352.8 M640.9,376.0 C641.0,376.8 641.1,379.2 641.2,380.7 C641.3,382.3 641.4,383.9 641.5,385.4 C641.6,387.0 641.6,388.6 641.7,390.1 C641.8,391.7 642.0,393.3 642.1,394.8 C642.1,396.4 642.2,398.0 642.3,399.5 C642.4,401.1 642.5,402.7 642.6,404.3 C642.7,405.8 642.8,408.2 642.9,409.0 M644.6,432.2 C644.7,433.0 644.8,435.3 644.9,436.9 C645.1,438.5 645.2,440.0 645.3,441.6 C645.5,443.2 645.5,444.7 645.6,446.3 C645.8,447.9 645.9,449.4 646.0,451.0 C646.2,452.6 646.3,454.1 646.4,455.7 C646.5,457.3 646.6,458.8 646.7,460.4 C646.8,462.0 647.0,464.3 647.1,465.1 M648.8,488.3 C648.8,489.1 649.0,491.5 649.1,493.0 C649.2,494.6 649.3,496.2 649.4,497.7 C649.5,499.3 649.6,500.9 649.7,502.4 C649.8,504.0 649.9,505.6 650.0,507.1 C650.1,508.7 650.2,510.3 650.3,511.9 C650.4,513.4 650.5,515.0 650.6,516.6 C650.8,518.1 650.9,520.5 651.0,521.3 M652.5,544.5 C652.6,545.3 652.7,547.6 652.8,549.2 C652.9,550.8 653.0,552.3 653.1,553.9 C653.2,555.5 653.4,557.0 653.5,558.6 C653.6,560.2 653.7,561.7 653.8,563.3 C653.9,564.9 654.0,566.4 654.1,568.0 C654.2,569.6 654.3,571.2 654.4,572.7 C654.5,574.3 654.6,576.6 654.7,577.4 M656.1,600.7 C656.1,601.5 656.3,603.8 656.4,605.4 C656.5,607.0 656.5,608.5 656.6,610.1 C656.7,611.7 656.8,613.2 656.9,614.8 C657.0,616.4 657.1,617.9 657.2,619.5 C657.3,621.1 657.4,622.6 657.5,624.2 C657.6,625.8 657.7,627.3 657.8,628.9 C657.9,630.5 658.0,632.8 658.0,633.6 M659.4,656.9 C659.5,657.7 659.6,660.0 659.7,661.6 C659.8,663.1 659.9,664.7 660.0,666.3 C660.1,667.9 660.2,669.4 660.3,671.0 C660.4,672.6 660.5,674.1 660.6,675.7 C660.7,677.3 660.8,678.8 660.9,680.4 C660.9,682.0 661.0,683.5 661.1,685.1 C661.2,686.7 661.4,689.0 661.4,689.8 M663.2,713.0 C663.3,713.8 663.5,716.2 663.6,717.7 C663.8,719.3 663.9,720.9 664.0,722.4 C664.2,724.0 664.3,725.6 664.5,727.1 C664.6,728.7 664.7,730.3 664.9,731.8 C665.0,733.4 665.2,734.9 665.3,736.5 C665.5,738.1 665.6,739.6 665.7,741.2 C665.9,742.8 666.0,745.1 666.0,745.9 M667.1,769.2 C667.1,770.0 667.3,772.3 667.3,773.9 C667.4,775.5 667.5,777.0 667.6,778.6 C667.6,780.2 667.7,781.7 667.8,783.3 C667.9,784.9 667.9,786.4 668.1,788.0 C668.2,789.6 668.3,791.1 668.4,792.7 C668.6,794.3 668.7,795.8 668.8,797.4 C669.0,799.0 669.2,801.3 669.3,802.1 M671.3,825.3 C671.4,826.1 671.6,828.4 671.8,830.0 C671.9,831.6 672.0,833.1 672.2,834.7 C672.3,836.3 672.5,837.8 672.6,839.4 C672.8,841.0 672.9,842.5 673.0,844.1 C673.2,845.7 673.3,847.2 673.4,848.8 C673.6,850.4 673.7,851.9 673.8,853.5 C674.0,855.0 674.2,857.4 674.3,858.2 M676.4,881.4 C676.5,882.2 676.7,884.5 676.8,886.1 C677.0,887.6 677.1,889.2 677.3,890.8 C677.4,892.3 677.5,893.9 677.7,895.5 C677.8,897.0 678.0,898.6 678.1,900.2 C678.3,901.7 678.4,903.3 678.6,904.8 C678.8,906.4 678.9,908.0 679.1,909.5 C679.2,911.1 679.4,913.4 679.4,914.2 M681.8,937.4 C681.8,938.2 682.1,940.5 682.2,942.1 C682.4,943.7 682.5,945.2 682.7,946.8 C682.9,948.4 683.0,949.9 683.2,951.5 C683.3,953.0 683.5,954.6 683.6,956.2 C683.8,957.7 684.0,959.3 684.1,960.9 C684.3,962.4 684.4,964.0 684.6,965.6 C684.7,967.1 685.0,969.5 685.1,970.3 M687.4,993.4 C687.5,994.2 687.7,996.6 687.9,998.1 C688.1,999.7 688.3,1001.2 688.6,1002.8 C688.8,1004.3 689.2,1005.9 689.5,1007.4 C689.8,1008.9 690.1,1010.5 690.4,1012.0 C690.7,1013.6 691.0,1015.1 691.3,1016.7 C691.6,1018.2 691.9,1019.7 692.2,1021.3 C692.5,1022.8 693.0,1025.1 693.2,1025.9 M698.9,1048.5 C699.1,1049.2 699.7,1051.5 700.2,1053.0 C700.6,1054.5 701.0,1056.1 701.4,1057.6 C701.8,1059.1 702.2,1060.6 702.7,1062.1 C703.1,1063.6 703.6,1065.1 704.1,1066.6 C704.6,1068.1 705.0,1069.6 705.5,1071.1 C706.0,1072.6 706.5,1074.1 707.0,1075.6 C707.5,1077.1 708.2,1079.3 708.5,1080.0 M719.6,1100.4 C720.0,1101.1 721.4,1103.0 722.4,1104.2 C723.4,1105.4 724.4,1106.6 725.4,1107.8 C726.5,1109.0 727.5,1110.2 728.5,1111.4 C729.6,1112.5 730.7,1113.7 731.8,1114.8 C732.9,1115.9 734.0,1117.0 735.1,1118.1 C736.3,1119.2 737.4,1120.3 738.6,1121.3 C739.8,1122.3 741.7,1123.7 742.3,1124.2 M763.6,1132.8 C764.4,1132.8 766.8,1132.9 768.4,1133.0 C769.9,1133.0 771.5,1133.0 773.1,1133.0 C774.6,1133.0 776.2,1133.0 777.8,1133.0 C779.4,1133.0 780.9,1133.0 782.5,1133.0 C784.1,1133.0 785.6,1133.0 787.2,1133.0 C788.8,1133.0 790.4,1133.0 791.9,1133.0 C793.5,1133.0 795.9,1133.0 796.6,1133.0 M819.9,1133.0 C820.7,1133.0 823.1,1133.0 824.7,1133.0 C826.2,1133.0 827.8,1133.0 829.4,1133.0 C830.9,1133.0 832.5,1133.0 834.1,1133.0 C835.7,1133.0 837.2,1133.0 838.8,1133.0 C840.4,1133.0 841.9,1133.0 843.5,1133.0 C845.1,1133.0 846.7,1133.0 848.2,1133.0 C849.8,1133.0 852.2,1133.0 852.9,1133.0 M876.2,1133.0 C877.0,1133.0 879.4,1133.0 881.0,1133.0 C882.5,1133.0 884.1,1133.0 885.7,1133.0 C887.2,1133.0 888.8,1133.0 890.4,1133.0 C892.0,1133.0 893.5,1133.0 895.1,1133.0 C896.7,1133.0 898.2,1133.0 899.8,1133.0 C901.4,1133.0 903.0,1133.0 904.5,1133.0 C906.1,1133.0 908.5,1133.0 909.2,1133.0 M932.5,1133.0 C933.3,1133.0 935.7,1133.0 937.3,1133.0 C938.8,1133.0 940.4,1133.0 942.0,1133.0 C943.5,1133.0 945.1,1133.0 946.7,1133.0 C948.3,1133.0 949.8,1133.0 951.4,1133.0 C953.0,1133.0 954.5,1133.0 956.1,1133.0 C957.7,1133.0 959.3,1133.0 960.8,1133.0 C962.4,1133.0 964.8,1133.0 965.5,1133.0 M988.8,1133.0 C989.5,1133.0 991.3,1133.0 992.6,1133.0 C993.8,1133.0 995.0,1133.0 996.3,1133.0 C997.5,1133.0 999.4,1133.0 1000.0,1133.0" fill="none" stroke="#00ff00" stroke-width="12" stroke-linejoin="round" stroke-linecap="butt"/>
<path d="M748,1133 L1078,1133" stroke="#ff00ff" stroke-width="11" stroke-linecap="round" fill="none"/>
<path d="M355.0,242.0 C355.2,242.7 355.9,244.9 356.4,246.4 C356.8,247.9 357.3,249.4 357.7,250.8 C358.1,252.3 358.6,253.8 358.9,255.3 C359.2,256.8 359.4,258.4 359.7,259.9 C359.9,261.4 360.2,262.9 360.4,264.5 C360.6,266.0 360.8,267.5 361.1,269.0 C361.3,270.6 361.6,272.9 361.7,273.6 M362.9,296.9 C362.9,297.7 363.0,300.0 363.0,301.6 C363.1,303.2 363.1,304.7 363.2,306.3 C363.2,307.9 363.3,309.4 363.3,311.0 C363.4,312.6 363.5,314.2 363.5,315.7 C363.6,317.3 363.6,318.9 363.7,320.4 C363.7,322.0 363.7,323.6 363.8,325.1 C363.8,326.7 363.9,329.1 364.0,329.9 M364.5,353.1 C364.6,353.9 364.7,356.3 364.7,357.9 C364.8,359.4 364.8,361.0 364.8,362.6 C364.8,364.1 364.9,365.7 364.9,367.3 C364.9,368.9 365.0,370.4 365.1,372.0 C365.1,373.6 365.1,375.1 365.1,376.7 C365.2,378.3 365.2,379.9 365.2,381.4 C365.2,383.0 365.3,385.4 365.3,386.1 M365.8,409.4 C365.8,410.2 365.8,412.6 365.9,414.1 C365.9,415.7 365.9,417.3 365.9,418.9 C366.0,420.4 366.0,422.0 366.1,423.6 C366.2,425.1 366.2,426.7 366.3,428.3 C366.4,429.8 366.4,431.4 366.5,433.0 C366.5,434.6 366.7,436.1 366.7,437.7 C366.8,439.3 366.8,441.6 366.9,442.4 M367.8,465.7 C367.8,466.5 367.9,468.8 368.0,470.4 C368.1,472.0 368.1,473.5 368.2,475.1 C368.2,476.7 368.3,478.2 368.3,479.8 C368.4,481.4 368.4,483.0 368.5,484.5 C368.5,486.1 368.5,487.7 368.6,489.2 C368.7,490.8 368.7,492.4 368.8,493.9 C368.9,495.5 368.9,497.9 369.0,498.7 M369.7,521.9 C369.8,522.7 369.9,525.1 369.9,526.6 C370.0,528.2 370.0,529.8 370.1,531.4 C370.2,532.9 370.2,534.5 370.3,536.1 C370.4,537.6 370.5,539.2 370.6,540.8 C370.6,542.3 370.7,543.9 370.8,545.5 C370.9,547.1 371.0,548.6 371.0,550.2 C371.1,551.8 371.2,554.1 371.3,554.9 M372.5,578.2 C372.6,578.9 372.7,581.3 372.8,582.9 C372.8,584.4 372.9,586.0 373.0,587.6 C373.1,589.1 373.2,590.7 373.2,592.3 C373.3,593.9 373.4,595.4 373.5,597.0 C373.6,598.6 373.6,600.1 373.7,601.7 C373.8,603.3 374.0,604.8 374.0,606.4 C374.1,608.0 374.2,610.3 374.3,611.1 M375.4,634.4 C375.5,635.2 375.6,637.5 375.7,639.1 C375.8,640.7 375.8,642.2 375.9,643.8 C376.0,645.4 376.1,646.9 376.2,648.5 C376.2,650.1 376.4,651.6 376.5,653.2 C376.6,654.8 376.6,656.3 376.7,657.9 C376.8,659.5 376.9,661.1 377.0,662.6 C377.0,664.2 377.2,666.6 377.2,667.3 M378.5,690.6 C378.5,691.4 378.6,693.7 378.7,695.3 C378.8,696.9 378.9,698.4 378.9,700.0 C379.0,701.6 379.1,703.2 379.1,704.7 C379.1,706.3 379.2,707.9 379.2,709.4 C379.2,711.0 379.2,712.6 379.3,714.2 C379.3,715.7 379.3,717.3 379.3,718.9 C379.4,720.4 379.4,722.8 379.4,723.6 M379.8,746.9 C379.8,747.7 379.9,750.0 379.9,751.6 C379.9,753.2 379.9,754.7 380.0,756.3 C380.0,757.9 380.1,759.4 380.2,761.0 C380.2,762.6 380.3,764.2 380.4,765.7 C380.5,767.3 380.5,768.9 380.5,770.4 C380.6,772.0 380.7,773.6 380.8,775.1 C380.9,776.7 381.0,779.1 381.0,779.8 M382.2,803.1 C382.3,803.9 382.4,806.3 382.5,807.8 C382.6,809.4 382.7,811.0 382.9,812.5 C383.0,814.1 383.1,815.7 383.2,817.2 C383.3,818.8 383.4,820.4 383.5,821.9 C383.6,823.5 383.7,825.1 383.8,826.6 C383.9,828.2 384.0,829.8 384.2,831.3 C384.3,832.9 384.7,835.2 384.8,836.0 M388.0,859.1 C388.1,859.8 388.7,862.1 389.1,863.7 C389.4,865.2 389.8,866.7 390.2,868.2 C390.5,869.8 390.8,871.3 391.3,872.8 C391.7,874.3 392.3,875.8 392.9,877.2 C393.6,878.7 394.4,880.0 395.1,881.4 C395.9,882.8 396.5,884.4 397.5,885.5 C398.5,886.5 400.5,887.4 401.1,887.8 M413.2,869.0 C413.5,868.3 414.4,866.1 414.9,864.6 C415.5,863.1 416.1,861.7 416.6,860.2 C417.2,858.7 417.8,857.3 418.3,855.8 C418.7,854.3 419.1,852.8 419.5,851.2 C419.9,849.7 420.3,848.2 420.7,846.7 C421.1,845.1 421.4,843.6 421.8,842.1 C422.2,840.6 422.8,838.3 423.0,837.5 M427.7,814.7 C427.9,814.0 428.3,811.6 428.5,810.1 C428.8,808.5 429.1,807.0 429.4,805.5 C429.7,803.9 430.0,802.4 430.3,800.8 C430.6,799.3 430.9,797.7 431.3,796.2 C431.6,794.7 432.0,793.1 432.3,791.6 C432.6,790.1 433.0,788.5 433.3,787.0 C433.7,785.5 434.2,783.2 434.3,782.4 M439.1,759.6 C439.2,758.8 439.7,756.5 440.0,755.0 C440.3,753.4 440.6,751.9 440.9,750.3 C441.2,748.8 441.5,747.3 441.9,745.7 C442.2,744.2 442.5,742.6 442.8,741.1 C443.1,739.6 443.4,738.0 443.7,736.5 C444.0,734.9 444.3,733.4 444.6,731.9 C444.9,730.3 445.4,728.0 445.5,727.2 M449.5,704.3 C449.6,703.5 450.1,701.2 450.3,699.6 C450.6,698.1 450.8,696.5 451.0,695.0 C451.3,693.4 451.5,691.9 451.8,690.3 C452.1,688.8 452.4,687.2 452.7,685.7 C453.0,684.2 453.4,682.6 453.7,681.1 C454.0,679.5 454.3,678.0 454.6,676.5 C454.9,674.9 455.4,672.6 455.6,671.9 M460.5,649.1 C460.7,648.3 461.2,646.0 461.6,644.5 C461.9,643.0 462.3,641.4 462.7,639.9 C463.0,638.4 463.3,636.8 463.6,635.3 C464.0,633.8 464.3,632.2 464.6,630.7 C464.9,629.1 465.2,627.6 465.5,626.0 C465.8,624.5 466.1,623.0 466.4,621.4 C466.6,619.9 467.1,617.6 467.2,616.8 M469.0,606.8 C469.2,606.0 469.6,603.7 469.9,602.2 C470.2,600.6 470.4,599.1 470.7,597.5 C471.0,596.0 471.3,594.4 471.6,592.9 C471.9,591.4 472.2,589.8 472.5,588.3 C472.7,586.7 473.0,585.2 473.3,583.6 C473.6,582.1 473.9,580.6 474.3,579.0 C474.6,577.5 475.1,575.2 475.3,574.4 M480.8,551.8 C480.9,551.0 481.4,548.7 481.8,547.2 C482.1,545.6 482.4,544.1 482.8,542.6 C483.1,541.0 483.5,539.5 483.8,538.0 C484.1,536.4 484.5,534.9 484.8,533.4 C485.2,531.8 485.5,530.3 485.8,528.8 C486.2,527.2 486.6,525.7 487.0,524.2 C487.4,522.7 488.0,520.4 488.2,519.6 M494.0,497.1 C494.2,496.3 494.8,494.0 495.2,492.5 C495.5,491.0 495.9,489.4 496.3,487.9 C496.6,486.4 496.9,484.8 497.2,483.3 C497.5,481.8 497.8,480.2 498.1,478.7 C498.4,477.1 498.6,475.6 498.8,474.0 C499.1,472.5 499.3,470.9 499.6,469.4 C499.9,467.8 500.2,465.5 500.4,464.7 M504.2,441.7 C504.4,441.0 504.8,438.6 505.0,437.1 C505.3,435.5 505.5,434.0 505.7,432.4 C506.0,430.9 506.2,429.3 506.5,427.8 C506.8,426.2 507.1,424.7 507.4,423.1 C507.6,421.6 507.9,420.0 508.1,418.5 C508.4,416.9 508.7,415.4 509.0,413.9 C509.3,412.3 509.7,410.0 509.9,409.2 M514.1,386.3 C514.3,385.5 514.7,383.2 515.1,381.7 C515.4,380.2 515.7,378.6 516.0,377.1 C516.3,375.5 516.6,374.0 516.9,372.5 C517.2,370.9 517.6,369.4 517.9,367.8 C518.2,366.3 518.5,364.8 518.8,363.2 C519.1,361.7 519.4,360.1 519.7,358.6 C520.1,357.1 520.6,354.8 520.8,354.0 M525.7,331.2 C525.9,330.5 526.4,328.2 526.8,326.6 C527.2,325.1 527.6,323.6 528.0,322.1 C528.4,320.6 528.7,319.0 529.1,317.5 C529.5,316.0 529.9,314.5 530.2,312.9 C530.6,311.4 531.0,309.9 531.4,308.4 C531.8,306.8 532.2,305.3 532.6,303.8 C533.0,302.3 533.7,300.0 533.9,299.3 M542.0,277.5 C542.4,276.8 543.5,274.7 544.4,273.4 C545.2,272.1 546.2,270.8 547.1,269.6 C548.1,268.3 549.1,267.2 550.2,266.0 C551.2,264.8 552.3,263.7 553.4,262.5 C554.5,261.4 555.6,260.3 556.6,259.1 C557.6,257.9 558.6,256.7 559.6,255.5 C560.6,254.2 562.0,252.4 562.5,251.8 M574.6,231.9 C574.9,231.2 575.8,229.0 576.4,227.6 C577.0,226.1 577.7,224.7 578.2,223.2 C578.8,221.8 579.4,220.3 579.9,218.8 C580.5,217.3 581.0,215.9 581.5,214.4 C582.1,212.9 582.6,211.4 583.1,210.0 C583.7,208.5 584.2,207.0 584.7,205.5 C585.2,204.0 585.9,201.8 586.2,201.0 M593.1,178.8 C593.3,178.0 594.0,175.8 594.5,174.3 C594.9,172.8 595.4,171.3 595.9,169.8 C596.4,168.3 596.8,166.8 597.3,165.3 C597.8,163.8 598.3,162.3 598.9,160.8 C599.4,159.4 599.9,157.9 600.5,156.4 C601.1,155.0 601.6,153.4 602.4,152.1 C603.2,150.7 604.8,149.0 605.2,148.4 M618.5,164.6 C618.8,165.4 619.6,167.6 620.0,169.1 C620.4,170.6 620.8,172.2 621.2,173.7 C621.5,175.2 621.8,176.8 622.1,178.3 C622.3,179.9 622.5,181.4 622.8,183.0 C623.0,184.5 623.3,186.1 623.6,187.6 C623.8,189.2 624.1,190.7 624.3,192.3 C624.5,193.8 624.9,196.2 625.0,196.9 M628.0,220.0 C628.1,220.8 628.3,223.2 628.5,224.7 C628.7,226.3 628.8,227.9 629.0,229.4 C629.1,231.0 629.3,232.5 629.5,234.1 C629.7,235.7 629.9,237.2 630.1,238.8 C630.2,240.3 630.4,241.9 630.6,243.5 C630.8,245.0 631.0,246.6 631.2,248.2 C631.3,249.7 631.6,252.1 631.7,252.8 M633.7,276.0 C633.7,276.8 634.0,279.2 634.1,280.7 C634.3,282.3 634.4,283.9 634.6,285.4 C634.8,287.0 635.1,288.5 635.2,290.1 C635.4,291.7 635.6,293.2 635.7,294.8 C635.9,296.3 636.1,297.9 636.3,299.5 C636.5,301.0 636.7,302.6 636.9,304.1 C637.0,305.7 637.3,308.1 637.3,308.8 M639.1,332.1 C639.1,332.8 639.3,335.2 639.4,336.8 C639.6,338.3 639.7,339.9 639.8,341.5 C639.9,343.0 640.0,344.6 640.1,346.2 C640.2,347.7 640.3,349.3 640.4,350.9 C640.5,352.4 640.6,354.0 640.7,355.6 C640.8,357.1 640.9,358.7 641.0,360.3 C641.1,361.9 641.2,364.2 641.2,365.0 M642.6,388.2 C642.7,389.0 642.8,391.4 642.9,393.0 C643.0,394.5 643.1,396.1 643.2,397.7 C643.3,399.2 643.4,400.8 643.5,402.4 C643.6,403.9 643.6,405.5 643.7,407.1 C643.8,408.6 644.0,410.2 644.1,411.8 C644.2,413.3 644.3,414.9 644.4,416.5 C644.5,418.0 644.7,420.4 644.8,421.2 M646.5,444.4 C646.6,445.2 646.8,447.5 646.9,449.1 C647.0,450.7 647.1,452.2 647.2,453.8 C647.3,455.4 647.5,456.9 647.6,458.5 C647.7,460.1 647.8,461.6 647.9,463.2 C648.1,464.8 648.1,466.3 648.3,467.9 C648.4,469.5 648.6,471.0 648.7,472.6 C648.8,474.2 648.9,476.5 649.0,477.3 M650.5,500.6 C650.6,501.3 650.7,503.7 650.9,505.3 C651.0,506.8 651.1,508.4 651.2,510.0 C651.3,511.5 651.4,513.1 651.5,514.7 C651.6,516.2 651.7,517.8 651.8,519.4 C651.9,520.9 652.1,522.5 652.2,524.1 C652.3,525.6 652.4,527.2 652.5,528.8 C652.6,530.3 652.7,532.7 652.8,533.5 M654.4,556.7 C654.4,557.5 654.6,559.9 654.7,561.4 C654.8,563.0 654.9,564.6 655.0,566.1 C655.1,567.7 655.2,569.3 655.3,570.8 C655.4,572.4 655.5,574.0 655.6,575.5 C655.7,577.1 655.8,578.7 655.9,580.2 C655.9,581.8 656.1,583.4 656.1,584.9 C656.2,586.5 656.3,588.9 656.4,589.7 M657.8,612.9 C657.9,613.7 658.0,616.0 658.1,617.6 C658.2,619.2 658.3,620.7 658.4,622.3 C658.5,623.9 658.6,625.5 658.6,627.0 C658.7,628.6 658.8,630.2 658.9,631.7 C659.0,633.3 659.1,634.9 659.2,636.4 C659.3,638.0 659.4,639.6 659.5,641.1 C659.5,642.7 659.7,645.1 659.8,645.8 M661.1,669.1 C661.2,669.9 661.4,672.2 661.5,673.8 C661.6,675.4 661.6,676.9 661.7,678.5 C661.8,680.1 661.9,681.6 662.0,683.2 C662.1,684.8 662.2,686.3 662.3,687.9 C662.4,689.5 662.4,691.1 662.5,692.6 C662.6,694.2 662.8,695.8 662.9,697.3 C663.0,698.9 663.1,701.2 663.2,702.0 M665.3,725.2 C665.4,726.0 665.6,728.4 665.7,729.9 C665.8,731.5 666.0,733.1 666.2,734.6 C666.3,736.2 666.4,737.8 666.6,739.3 C666.7,740.9 666.8,742.5 666.9,744.0 C667.0,745.6 667.1,747.2 667.2,748.7 C667.3,750.3 667.4,751.9 667.4,753.4 C667.5,755.0 667.6,757.4 667.6,758.1 M668.7,781.4 C668.7,782.2 668.8,784.6 668.9,786.1 C669.0,787.7 669.2,789.3 669.3,790.8 C669.4,792.4 669.5,794.0 669.7,795.5 C669.8,797.1 670.0,798.6 670.1,800.2 C670.3,801.8 670.4,803.3 670.5,804.9 C670.6,806.5 670.8,808.0 671.0,809.6 C671.1,811.2 671.3,813.5 671.3,814.3 M673.4,837.5 C673.5,838.3 673.7,840.6 673.8,842.2 C674.0,843.8 674.2,845.3 674.3,846.9 C674.4,848.5 674.5,850.0 674.7,851.6 C674.8,853.2 675.0,854.7 675.1,856.3 C675.3,857.8 675.4,859.4 675.5,861.0 C675.7,862.5 675.8,864.1 676.0,865.7 C676.1,867.2 676.3,869.6 676.4,870.4 M678.5,893.6 C678.6,894.4 678.8,896.7 679.0,898.3 C679.1,899.8 679.4,901.4 679.6,902.9 C679.7,904.5 679.9,906.1 680.1,907.6 C680.3,909.2 680.5,910.7 680.7,912.3 C680.9,913.9 681.1,915.4 681.3,917.0 C681.5,918.5 681.8,920.1 682.0,921.6 C682.2,923.2 682.4,925.5 682.5,926.3 M684.9,949.5 C685.0,950.3 685.2,952.6 685.4,954.2 C685.5,955.8 685.7,957.3 685.8,958.9 C686.0,960.4 686.2,962.0 686.3,963.6 C686.5,965.1 686.6,966.7 686.8,968.3 C686.9,969.8 687.1,971.4 687.3,973.0 C687.4,974.5 687.6,976.1 687.7,977.6 C687.9,979.2 688.1,981.5 688.2,982.3 M691.1,1005.4 C691.3,1006.2 691.7,1008.5 692.0,1010.1 C692.3,1011.6 692.6,1013.1 692.9,1014.7 C693.3,1016.2 693.6,1017.8 693.9,1019.3 C694.2,1020.8 694.5,1022.4 694.8,1023.9 C695.1,1025.5 695.4,1027.0 695.8,1028.5 C696.1,1030.1 696.5,1031.6 696.8,1033.1 C697.2,1034.7 697.8,1036.9 698.0,1037.7 M704.1,1060.2 C704.4,1060.9 705.0,1063.2 705.5,1064.7 C705.9,1066.2 706.5,1067.7 707.0,1069.2 C707.4,1070.7 707.9,1072.2 708.4,1073.7 C708.9,1075.2 709.3,1076.7 709.8,1078.2 C710.3,1079.7 710.7,1081.2 711.3,1082.6 C711.9,1084.1 712.6,1085.5 713.3,1086.9 C714.0,1088.3 715.2,1090.3 715.6,1091.0 M729.2,1109.9 C729.7,1110.4 731.3,1112.2 732.4,1113.4 C733.4,1114.5 734.6,1115.6 735.7,1116.7 C736.8,1117.8 737.9,1118.9 739.1,1120.0 C740.3,1121.0 741.5,1122.0 742.7,1123.0 C743.9,1123.9 745.3,1124.8 746.6,1125.7 C747.9,1126.6 749.2,1127.5 750.5,1128.2 C751.9,1129.0 754.1,1129.9 754.8,1130.2 M777.8,1133.0 C778.5,1133.0 780.9,1133.0 782.5,1133.0 C784.0,1133.0 785.6,1133.0 787.2,1133.0 C788.8,1133.0 790.3,1133.0 791.9,1133.0 C793.5,1133.0 795.0,1133.0 796.6,1133.0 C798.2,1133.0 799.8,1133.0 801.3,1133.0 C802.9,1133.0 804.5,1133.0 806.0,1133.0 C807.6,1133.0 810.0,1133.0 810.8,1133.0 M834.1,1133.0 C834.8,1133.0 837.2,1133.0 838.8,1133.0 C840.3,1133.0 841.9,1133.0 843.5,1133.0 C845.1,1133.0 846.6,1133.0 848.2,1133.0 C849.8,1133.0 851.3,1133.0 852.9,1133.0 C854.5,1133.0 856.1,1133.0 857.6,1133.0 C859.2,1133.0 860.8,1133.0 862.3,1133.0 C863.9,1133.0 866.3,1133.0 867.1,1133.0 M890.4,1133.0 C891.1,1133.0 893.5,1133.0 895.1,1133.0 C896.6,1133.0 898.2,1133.0 899.8,1133.0 C901.4,1133.0 902.9,1133.0 904.5,1133.0 C906.1,1133.0 907.6,1133.0 909.2,1133.0 C910.8,1133.0 912.4,1133.0 913.9,1133.0 C915.5,1133.0 917.1,1133.0 918.6,1133.0 C920.2,1133.0 922.6,1133.0 923.4,1133.0 M946.7,1133.0 C947.4,1133.0 949.8,1133.0 951.4,1133.0 C952.9,1133.0 954.5,1133.0 956.1,1133.0 C957.7,1133.0 959.2,1133.0 960.8,1133.0 C962.4,1133.0 963.9,1133.0 965.5,1133.0 C967.1,1133.0 968.7,1133.0 970.2,1133.0 C971.8,1133.0 973.4,1133.0 974.9,1133.0 C976.5,1133.0 978.9,1133.0 979.7,1133.0 M1003.0,1133.0 C1003.7,1133.0 1006.1,1133.0 1007.7,1133.0 C1009.2,1133.0 1010.8,1133.0 1012.4,1133.0 C1014.0,1133.0 1015.5,1133.0 1017.1,1133.0 C1018.7,1133.0 1020.2,1133.0 1021.8,1133.0 C1023.4,1133.0 1025.0,1133.0 1026.5,1133.0 C1028.1,1133.0 1029.7,1133.0 1031.2,1133.0 C1032.8,1133.0 1035.2,1133.0 1036.0,1133.0 M1059.3,1133.0 C1059.9,1133.0 1061.9,1133.0 1063.2,1133.0 C1064.5,1133.0 1065.8,1133.0 1067.1,1133.0 C1068.4,1133.0 1069.8,1133.0 1071.1,1133.0 C1072.4,1133.0 1074.3,1133.0 1075.0,1133.0" fill="none" stroke="#ff00ff" stroke-width="12" stroke-linejoin="round" stroke-linecap="butt"/>
</g>
</g>
<g id="ticklabels"><text transform="translate(266.0,1158.5) scale(1,1.035)" text-anchor="end" font-size="68" font-weight="bold">0.0</text><text transform="translate(266.0,959.6) scale(1,1.035)" text-anchor="end" font-size="68" font-weight="bold">0.2</text><text transform="translate(266.0,760.7) scale(1,1.035)" text-anchor="end" font-size="68" font-weight="bold">0.4</text><text transform="translate(266.0,561.8) scale(1,1.035)" text-anchor="end" font-size="68" font-weight="bold">0.6</text><text transform="translate(266.0,362.9) scale(1,1.035)" text-anchor="end" font-size="68" font-weight="bold">0.8</text><text transform="translate(266.0,164.0) scale(1,1.035)" text-anchor="end" font-size="68" font-weight="bold">1.0</text><text transform="translate(304.0,1228.5) scale(1,1.035)" text-anchor="middle" font-size="68" font-weight="bold">300</text><text transform="translate(757.2,1228.5) scale(1,1.035)" text-anchor="middle" font-size="68" font-weight="bold">400</text><text transform="translate(1210.4,1228.5) scale(1,1.035)" text-anchor="middle" font-size="68" font-weight="bold">500</text><text transform="translate(1663.6,1228.5) scale(1,1.035)" text-anchor="middle" font-size="68" font-weight="bold">600</text></g>
<text transform="translate(984.5,1350.0) scale(1,1.052)" text-anchor="middle" font-size="81">Wavelength (nm)</text>
<text transform="translate(101.8,544.5) rotate(-90) scale(1,1.052)" text-anchor="middle" font-size="80.5">Normalized intensity (a.u.)</text>
</svg></body></html>
